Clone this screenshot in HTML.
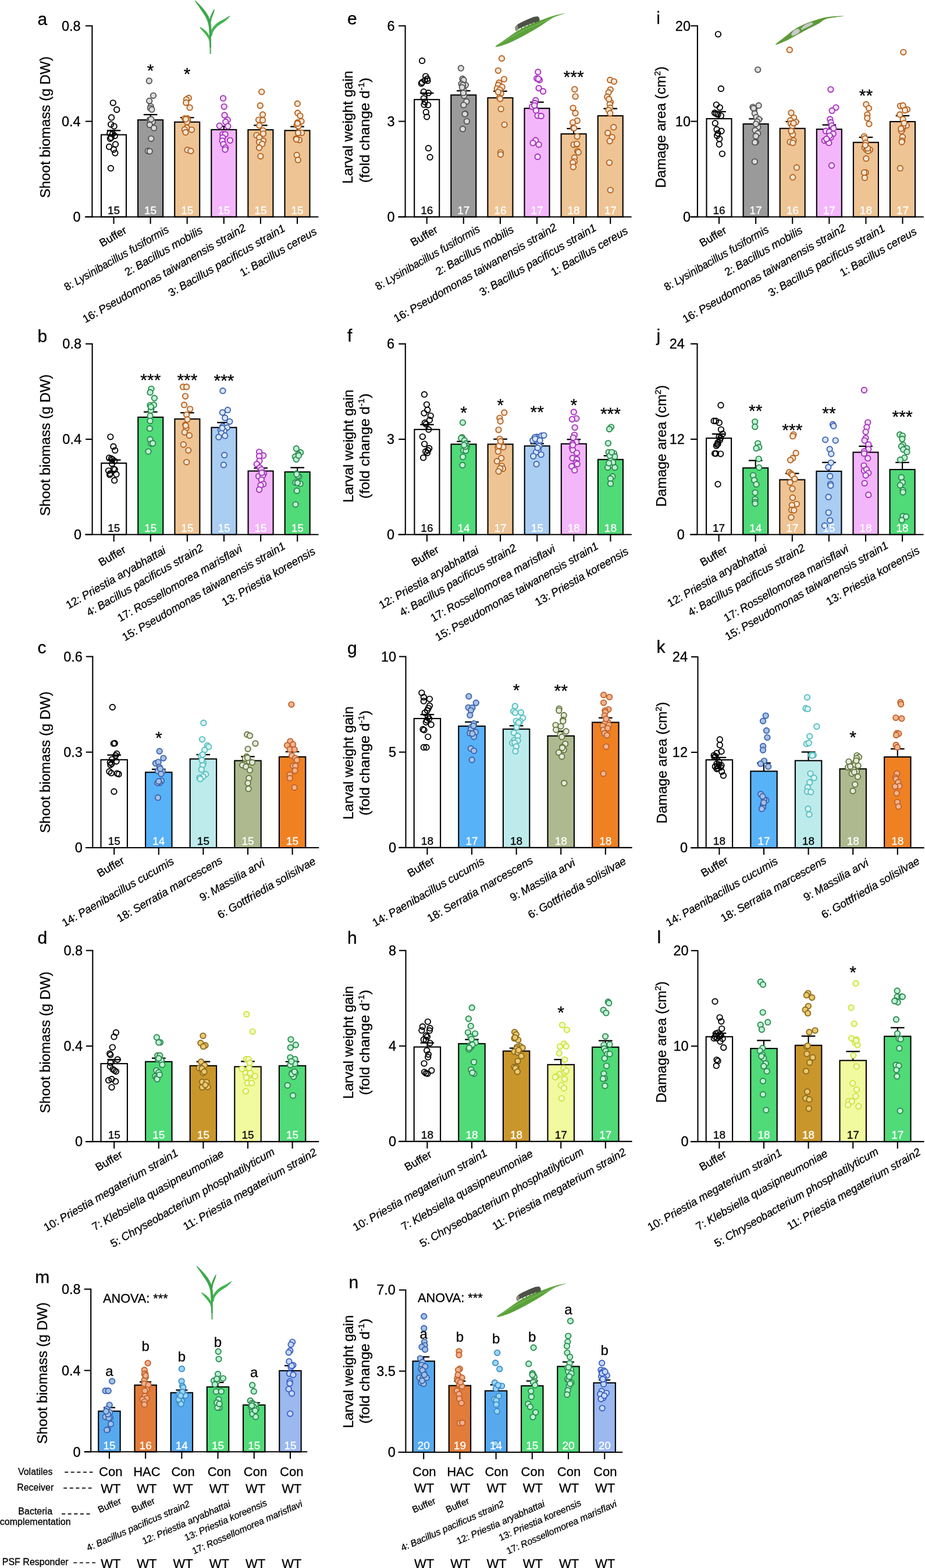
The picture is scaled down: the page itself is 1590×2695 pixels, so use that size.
<!DOCTYPE html>
<html><head><meta charset="utf-8"><title>Figure</title>
<style>html,body{margin:0;padding:0;background:#fff;}svg{display:block;}
text{font-family:'Liberation Sans', Arial, Helvetica, sans-serif;}</style></head>
<body><svg xmlns="http://www.w3.org/2000/svg" width="1590" height="2695" viewBox="0 0 1590 2695">
<rect x="0" y="0" width="1590" height="2695" fill="#fff"/>
<g>
<rect x="174.00" y="231.60" width="43.00" height="141.20" fill="#ffffff" stroke="#000" stroke-width="2.1"/>
<rect x="237.10" y="206.12" width="43.00" height="166.68" fill="#9a9a9a" stroke="#000" stroke-width="2.1"/>
<rect x="300.20" y="209.76" width="43.00" height="163.04" fill="#eec494" stroke="#000" stroke-width="2.1"/>
<rect x="363.30" y="222.86" width="43.00" height="149.94" fill="#f4b6fb" stroke="#000" stroke-width="2.1"/>
<rect x="426.40" y="223.11" width="43.00" height="149.69" fill="#eec494" stroke="#000" stroke-width="2.1"/>
<rect x="489.50" y="224.32" width="43.00" height="148.48" fill="#eec494" stroke="#000" stroke-width="2.1"/>
<line x1="195.50" y1="231.60" x2="195.50" y2="224.32" stroke="#000" stroke-width="2.1"/>
<line x1="183.70" y1="224.32" x2="207.30" y2="224.32" stroke="#000" stroke-width="2.3"/>
<line x1="258.60" y1="206.12" x2="258.60" y2="197.03" stroke="#000" stroke-width="2.1"/>
<line x1="246.80" y1="197.03" x2="270.40" y2="197.03" stroke="#000" stroke-width="2.3"/>
<line x1="321.70" y1="209.76" x2="321.70" y2="202.12" stroke="#000" stroke-width="2.1"/>
<line x1="309.90" y1="202.12" x2="333.50" y2="202.12" stroke="#000" stroke-width="2.3"/>
<line x1="384.80" y1="222.86" x2="384.80" y2="217.04" stroke="#000" stroke-width="2.1"/>
<line x1="373.00" y1="217.04" x2="396.60" y2="217.04" stroke="#000" stroke-width="2.3"/>
<line x1="447.90" y1="223.11" x2="447.90" y2="215.46" stroke="#000" stroke-width="2.1"/>
<line x1="436.10" y1="215.46" x2="459.70" y2="215.46" stroke="#000" stroke-width="2.3"/>
<line x1="511.00" y1="224.32" x2="511.00" y2="217.65" stroke="#000" stroke-width="2.1"/>
<line x1="499.20" y1="217.65" x2="522.80" y2="217.65" stroke="#000" stroke-width="2.3"/>
<circle cx="194.3" cy="176.8" r="4.7" fill="none" stroke="#000000" stroke-width="1.9"/>
<circle cx="200.7" cy="188.5" r="4.7" fill="none" stroke="#000000" stroke-width="1.9"/>
<circle cx="191.6" cy="201.9" r="4.7" fill="none" stroke="#000000" stroke-width="1.9"/>
<circle cx="190.6" cy="213.8" r="4.7" fill="none" stroke="#000000" stroke-width="1.9"/>
<circle cx="196.1" cy="217.0" r="4.7" fill="none" stroke="#000000" stroke-width="1.9"/>
<circle cx="188.8" cy="229.2" r="4.7" fill="none" stroke="#000000" stroke-width="1.9"/>
<circle cx="193.7" cy="229.8" r="4.7" fill="none" stroke="#000000" stroke-width="1.9"/>
<circle cx="197.3" cy="233.4" r="4.7" fill="none" stroke="#000000" stroke-width="1.9"/>
<circle cx="191.2" cy="236.4" r="4.7" fill="none" stroke="#000000" stroke-width="1.9"/>
<circle cx="189.4" cy="238.3" r="4.7" fill="none" stroke="#000000" stroke-width="1.9"/>
<circle cx="198.5" cy="248.0" r="4.7" fill="none" stroke="#000000" stroke-width="1.9"/>
<circle cx="187.6" cy="252.2" r="4.7" fill="none" stroke="#000000" stroke-width="1.9"/>
<circle cx="195.5" cy="257.1" r="4.7" fill="none" stroke="#000000" stroke-width="1.9"/>
<circle cx="197.9" cy="263.1" r="4.7" fill="none" stroke="#000000" stroke-width="1.9"/>
<circle cx="190.4" cy="289.2" r="4.7" fill="none" stroke="#000000" stroke-width="1.9"/>
<circle cx="256.4" cy="139.0" r="4.7" fill="#dcdcdc" stroke="#555555" stroke-width="1.9"/>
<circle cx="263.6" cy="164.3" r="4.7" fill="#dcdcdc" stroke="#555555" stroke-width="1.9"/>
<circle cx="256.7" cy="173.4" r="4.7" fill="#dcdcdc" stroke="#555555" stroke-width="1.9"/>
<circle cx="259.2" cy="182.8" r="4.7" fill="#dcdcdc" stroke="#555555" stroke-width="1.9"/>
<circle cx="258.5" cy="186.1" r="4.7" fill="#dcdcdc" stroke="#555555" stroke-width="1.9"/>
<circle cx="261.0" cy="188.2" r="4.7" fill="#dcdcdc" stroke="#555555" stroke-width="1.9"/>
<circle cx="257.3" cy="206.1" r="4.7" fill="#dcdcdc" stroke="#555555" stroke-width="1.9"/>
<circle cx="257.9" cy="208.5" r="4.7" fill="#dcdcdc" stroke="#555555" stroke-width="1.9"/>
<circle cx="262.2" cy="209.5" r="4.7" fill="#dcdcdc" stroke="#555555" stroke-width="1.9"/>
<circle cx="257.3" cy="214.6" r="4.7" fill="#dcdcdc" stroke="#555555" stroke-width="1.9"/>
<circle cx="264.6" cy="220.1" r="4.7" fill="#dcdcdc" stroke="#555555" stroke-width="1.9"/>
<circle cx="259.8" cy="238.3" r="4.7" fill="#dcdcdc" stroke="#555555" stroke-width="1.9"/>
<circle cx="254.3" cy="259.5" r="4.7" fill="#dcdcdc" stroke="#555555" stroke-width="1.9"/>
<circle cx="257.3" cy="260.1" r="4.7" fill="#dcdcdc" stroke="#555555" stroke-width="1.9"/>
<circle cx="259.8" cy="204.9" r="4.7" fill="#dcdcdc" stroke="#555555" stroke-width="1.9"/>
<circle cx="324.3" cy="168.5" r="4.7" fill="#f5e6d6" stroke="#b5621f" stroke-width="1.9"/>
<circle cx="320.4" cy="170.9" r="4.7" fill="#f5e6d6" stroke="#b5621f" stroke-width="1.9"/>
<circle cx="319.8" cy="176.4" r="4.7" fill="#f5e6d6" stroke="#b5621f" stroke-width="1.9"/>
<circle cx="326.2" cy="184.9" r="4.7" fill="#f5e6d6" stroke="#b5621f" stroke-width="1.9"/>
<circle cx="317.4" cy="203.7" r="4.7" fill="#f5e6d6" stroke="#b5621f" stroke-width="1.9"/>
<circle cx="322.2" cy="203.7" r="4.7" fill="#f5e6d6" stroke="#b5621f" stroke-width="1.9"/>
<circle cx="322.8" cy="206.1" r="4.7" fill="#f5e6d6" stroke="#b5621f" stroke-width="1.9"/>
<circle cx="321.6" cy="209.8" r="4.7" fill="#f5e6d6" stroke="#b5621f" stroke-width="1.9"/>
<circle cx="321.0" cy="219.5" r="4.7" fill="#f5e6d6" stroke="#b5621f" stroke-width="1.9"/>
<circle cx="317.4" cy="222.5" r="4.7" fill="#f5e6d6" stroke="#b5621f" stroke-width="1.9"/>
<circle cx="329.5" cy="223.1" r="4.7" fill="#f5e6d6" stroke="#b5621f" stroke-width="1.9"/>
<circle cx="319.0" cy="227.4" r="4.7" fill="#f5e6d6" stroke="#b5621f" stroke-width="1.9"/>
<circle cx="322.2" cy="257.7" r="4.7" fill="#f5e6d6" stroke="#b5621f" stroke-width="1.9"/>
<circle cx="327.9" cy="259.5" r="4.7" fill="#f5e6d6" stroke="#b5621f" stroke-width="1.9"/>
<circle cx="319.4" cy="204.9" r="4.7" fill="#f5e6d6" stroke="#b5621f" stroke-width="1.9"/>
<circle cx="383.6" cy="168.9" r="4.7" fill="#f3e1f6" stroke="#a52fbf" stroke-width="1.9"/>
<circle cx="385.2" cy="183.3" r="4.7" fill="#f3e1f6" stroke="#a52fbf" stroke-width="1.9"/>
<circle cx="386.0" cy="198.0" r="4.7" fill="#f3e1f6" stroke="#a52fbf" stroke-width="1.9"/>
<circle cx="391.2" cy="205.9" r="4.7" fill="#f3e1f6" stroke="#a52fbf" stroke-width="1.9"/>
<circle cx="387.8" cy="209.5" r="4.7" fill="#f3e1f6" stroke="#a52fbf" stroke-width="1.9"/>
<circle cx="377.3" cy="216.2" r="4.7" fill="#f3e1f6" stroke="#a52fbf" stroke-width="1.9"/>
<circle cx="391.8" cy="217.0" r="4.7" fill="#f3e1f6" stroke="#a52fbf" stroke-width="1.9"/>
<circle cx="382.8" cy="231.0" r="4.7" fill="#f3e1f6" stroke="#a52fbf" stroke-width="1.9"/>
<circle cx="387.0" cy="231.0" r="4.7" fill="#f3e1f6" stroke="#a52fbf" stroke-width="1.9"/>
<circle cx="382.8" cy="236.4" r="4.7" fill="#f3e1f6" stroke="#a52fbf" stroke-width="1.9"/>
<circle cx="395.5" cy="241.3" r="4.7" fill="#f3e1f6" stroke="#a52fbf" stroke-width="1.9"/>
<circle cx="382.1" cy="241.9" r="4.7" fill="#f3e1f6" stroke="#a52fbf" stroke-width="1.9"/>
<circle cx="384.0" cy="248.0" r="4.7" fill="#f3e1f6" stroke="#a52fbf" stroke-width="1.9"/>
<circle cx="387.6" cy="254.0" r="4.7" fill="#f3e1f6" stroke="#a52fbf" stroke-width="1.9"/>
<circle cx="387.0" cy="257.1" r="4.7" fill="#f3e1f6" stroke="#a52fbf" stroke-width="1.9"/>
<circle cx="449.7" cy="157.8" r="4.7" fill="#f5e6d6" stroke="#b5621f" stroke-width="1.9"/>
<circle cx="447.3" cy="181.5" r="4.7" fill="#f5e6d6" stroke="#b5621f" stroke-width="1.9"/>
<circle cx="451.6" cy="197.0" r="4.7" fill="#f5e6d6" stroke="#b5621f" stroke-width="1.9"/>
<circle cx="444.6" cy="206.1" r="4.7" fill="#f5e6d6" stroke="#b5621f" stroke-width="1.9"/>
<circle cx="451.6" cy="206.5" r="4.7" fill="#f5e6d6" stroke="#b5621f" stroke-width="1.9"/>
<circle cx="445.8" cy="215.8" r="4.7" fill="#f5e6d6" stroke="#b5621f" stroke-width="1.9"/>
<circle cx="452.1" cy="224.3" r="4.7" fill="#f5e6d6" stroke="#b5621f" stroke-width="1.9"/>
<circle cx="452.5" cy="229.8" r="4.7" fill="#f5e6d6" stroke="#b5621f" stroke-width="1.9"/>
<circle cx="441.0" cy="232.6" r="4.7" fill="#f5e6d6" stroke="#b5621f" stroke-width="1.9"/>
<circle cx="445.8" cy="236.4" r="4.7" fill="#f5e6d6" stroke="#b5621f" stroke-width="1.9"/>
<circle cx="452.5" cy="241.9" r="4.7" fill="#f5e6d6" stroke="#b5621f" stroke-width="1.9"/>
<circle cx="445.5" cy="244.3" r="4.7" fill="#f5e6d6" stroke="#b5621f" stroke-width="1.9"/>
<circle cx="450.7" cy="247.4" r="4.7" fill="#f5e6d6" stroke="#b5621f" stroke-width="1.9"/>
<circle cx="445.5" cy="254.0" r="4.7" fill="#f5e6d6" stroke="#b5621f" stroke-width="1.9"/>
<circle cx="447.9" cy="268.6" r="4.7" fill="#f5e6d6" stroke="#b5621f" stroke-width="1.9"/>
<circle cx="511.3" cy="178.2" r="4.7" fill="#f5e6d6" stroke="#b5621f" stroke-width="1.9"/>
<circle cx="511.7" cy="194.2" r="4.7" fill="#f5e6d6" stroke="#b5621f" stroke-width="1.9"/>
<circle cx="515.9" cy="199.1" r="4.7" fill="#f5e6d6" stroke="#b5621f" stroke-width="1.9"/>
<circle cx="518.0" cy="208.5" r="4.7" fill="#f5e6d6" stroke="#b5621f" stroke-width="1.9"/>
<circle cx="511.3" cy="210.7" r="4.7" fill="#f5e6d6" stroke="#b5621f" stroke-width="1.9"/>
<circle cx="510.1" cy="215.2" r="4.7" fill="#f5e6d6" stroke="#b5621f" stroke-width="1.9"/>
<circle cx="513.1" cy="217.0" r="4.7" fill="#f5e6d6" stroke="#b5621f" stroke-width="1.9"/>
<circle cx="518.6" cy="228.3" r="4.7" fill="#f5e6d6" stroke="#b5621f" stroke-width="1.9"/>
<circle cx="512.5" cy="228.6" r="4.7" fill="#f5e6d6" stroke="#b5621f" stroke-width="1.9"/>
<circle cx="508.9" cy="238.3" r="4.7" fill="#f5e6d6" stroke="#b5621f" stroke-width="1.9"/>
<circle cx="514.4" cy="240.7" r="4.7" fill="#f5e6d6" stroke="#b5621f" stroke-width="1.9"/>
<circle cx="509.5" cy="239.5" r="4.7" fill="#f5e6d6" stroke="#b5621f" stroke-width="1.9"/>
<circle cx="510.1" cy="266.5" r="4.7" fill="#f5e6d6" stroke="#b5621f" stroke-width="1.9"/>
<circle cx="512.2" cy="274.9" r="4.7" fill="#f5e6d6" stroke="#b5621f" stroke-width="1.9"/>
<circle cx="511.3" cy="212.2" r="4.7" fill="#f5e6d6" stroke="#b5621f" stroke-width="1.9"/>
<line x1="158.40" y1="43.40" x2="158.40" y2="373.80" stroke="#000" stroke-width="2.1"/>
<line x1="146.00" y1="372.80" x2="547.40" y2="372.80" stroke="#000" stroke-width="2.1"/>
<line x1="146.90" y1="372.80" x2="158.40" y2="372.80" stroke="#000" stroke-width="2.1"/>
<text x="138.60" y="381.03" font-size="23.5" text-anchor="end" stroke="#000" stroke-width="0.3">0</text>
<line x1="146.90" y1="208.60" x2="158.40" y2="208.60" stroke="#000" stroke-width="2.1"/>
<text x="138.60" y="216.82" font-size="23.5" text-anchor="end" stroke="#000" stroke-width="0.3">0.4</text>
<line x1="146.90" y1="44.40" x2="158.40" y2="44.40" stroke="#000" stroke-width="2.1"/>
<text x="138.60" y="52.62" font-size="23.5" text-anchor="end" stroke="#000" stroke-width="0.3">0.8</text>
<line x1="195.50" y1="372.80" x2="195.50" y2="384.80" stroke="#000" stroke-width="2.1"/>
<line x1="258.60" y1="372.80" x2="258.60" y2="384.80" stroke="#000" stroke-width="2.1"/>
<line x1="321.70" y1="372.80" x2="321.70" y2="384.80" stroke="#000" stroke-width="2.1"/>
<line x1="384.80" y1="372.80" x2="384.80" y2="384.80" stroke="#000" stroke-width="2.1"/>
<line x1="447.90" y1="372.80" x2="447.90" y2="384.80" stroke="#000" stroke-width="2.1"/>
<line x1="511.00" y1="372.80" x2="511.00" y2="384.80" stroke="#000" stroke-width="2.1"/>
<text x="195.50" y="368.00" font-size="19" text-anchor="middle" stroke="#000" stroke-width="0.3">15</text>
<text x="258.60" y="368.00" font-size="19" text-anchor="middle" fill="#fff" stroke="#fff" stroke-width="0.3">15</text>
<text x="321.70" y="368.00" font-size="19" text-anchor="middle" fill="#fff" stroke="#fff" stroke-width="0.3">15</text>
<text x="384.80" y="368.00" font-size="19" text-anchor="middle" fill="#fff" stroke="#fff" stroke-width="0.3">15</text>
<text x="447.90" y="368.00" font-size="19" text-anchor="middle" fill="#fff" stroke="#fff" stroke-width="0.3">15</text>
<text x="511.00" y="368.00" font-size="19" text-anchor="middle" fill="#fff" stroke="#fff" stroke-width="0.3">15</text>
<text x="258.60" y="130.90" font-size="30" text-anchor="middle" stroke="#000" stroke-width="0.3">*</text>
<text x="321.70" y="137.10" font-size="30" text-anchor="middle" stroke="#000" stroke-width="0.3">*</text>
<text x="85.80" y="218.70" font-size="24.2" text-anchor="middle" stroke="#000" stroke-width="0.3" transform="rotate(-90 85.80 218.70)">Shoot biomass (g DW)</text>
<text x="64.50" y="42.50" font-size="30" stroke="#000" stroke-width="0.3">a</text>
<text x="219.23" y="399.54" font-size="19" text-anchor="end" stroke="#000" stroke-width="0.3" transform="rotate(-30 219.23 399.54)">Buffer</text>
<text x="291.63" y="398.29" font-size="19" text-anchor="end" stroke="#000" stroke-width="0.3" textLength="204.0" lengthAdjust="spacingAndGlyphs" transform="rotate(-30 291.63 398.29)">8: <tspan font-style="italic">Lysinibacillus fusiformis</tspan></text>
<text x="349.73" y="399.29" font-size="19" text-anchor="end" stroke="#000" stroke-width="0.3" transform="rotate(-30 349.73 399.29)">2: <tspan font-style="italic">Bacillus mobilis</tspan></text>
<text x="423.82" y="395.52" font-size="19" text-anchor="end" stroke="#000" stroke-width="0.3" transform="rotate(-30 423.82 395.52)">16: <tspan font-style="italic">Pseudomonas taiwanensis strain2</tspan></text>
<text x="491.62" y="396.12" font-size="19" text-anchor="end" stroke="#000" stroke-width="0.3" transform="rotate(-30 491.62 396.12)">3: <tspan font-style="italic">Bacillus pacificus strain1</tspan></text>
<text x="545.93" y="401.39" font-size="19" text-anchor="end" stroke="#000" stroke-width="0.3" transform="rotate(-30 545.93 401.39)">1: <tspan font-style="italic">Bacillus cereus</tspan></text>
</g>
<g>
<rect x="174.20" y="796.06" width="43.00" height="122.74" fill="#ffffff" stroke="#000" stroke-width="2.1"/>
<rect x="237.30" y="717.09" width="43.00" height="201.71" fill="#50da78" stroke="#000" stroke-width="2.1"/>
<rect x="300.40" y="720.19" width="43.00" height="198.61" fill="#eec494" stroke="#000" stroke-width="2.1"/>
<rect x="363.50" y="734.74" width="43.00" height="184.06" fill="#aacdf2" stroke="#000" stroke-width="2.1"/>
<rect x="426.60" y="809.54" width="43.00" height="109.26" fill="#f4b6fb" stroke="#000" stroke-width="2.1"/>
<rect x="489.70" y="811.16" width="43.00" height="107.64" fill="#50da78" stroke="#000" stroke-width="2.1"/>
<line x1="195.70" y1="796.06" x2="195.70" y2="790.54" stroke="#000" stroke-width="2.1"/>
<line x1="183.90" y1="790.54" x2="207.50" y2="790.54" stroke="#000" stroke-width="2.3"/>
<line x1="258.80" y1="717.09" x2="258.80" y2="708.06" stroke="#000" stroke-width="2.1"/>
<line x1="247.00" y1="708.06" x2="270.60" y2="708.06" stroke="#000" stroke-width="2.3"/>
<line x1="321.90" y1="720.19" x2="321.90" y2="709.41" stroke="#000" stroke-width="2.1"/>
<line x1="310.10" y1="709.41" x2="333.70" y2="709.41" stroke="#000" stroke-width="2.3"/>
<line x1="385.00" y1="734.74" x2="385.00" y2="726.25" stroke="#000" stroke-width="2.1"/>
<line x1="373.20" y1="726.25" x2="396.80" y2="726.25" stroke="#000" stroke-width="2.3"/>
<line x1="448.10" y1="809.54" x2="448.10" y2="804.42" stroke="#000" stroke-width="2.1"/>
<line x1="436.30" y1="804.42" x2="459.90" y2="804.42" stroke="#000" stroke-width="2.3"/>
<line x1="511.20" y1="811.16" x2="511.20" y2="803.75" stroke="#000" stroke-width="2.1"/>
<line x1="499.40" y1="803.75" x2="523.00" y2="803.75" stroke="#000" stroke-width="2.3"/>
<circle cx="189.9" cy="750.8" r="4.7" fill="none" stroke="#000000" stroke-width="1.9"/>
<circle cx="194.9" cy="767.4" r="4.7" fill="none" stroke="#000000" stroke-width="1.9"/>
<circle cx="197.7" cy="774.1" r="4.7" fill="none" stroke="#000000" stroke-width="1.9"/>
<circle cx="187.6" cy="786.9" r="4.7" fill="none" stroke="#000000" stroke-width="1.9"/>
<circle cx="191.3" cy="788.2" r="4.7" fill="none" stroke="#000000" stroke-width="1.9"/>
<circle cx="193.3" cy="789.6" r="4.7" fill="none" stroke="#000000" stroke-width="1.9"/>
<circle cx="196.7" cy="792.3" r="4.7" fill="none" stroke="#000000" stroke-width="1.9"/>
<circle cx="192.6" cy="797.0" r="4.7" fill="none" stroke="#000000" stroke-width="1.9"/>
<circle cx="186.6" cy="809.1" r="4.7" fill="none" stroke="#000000" stroke-width="1.9"/>
<circle cx="197.3" cy="807.1" r="4.7" fill="none" stroke="#000000" stroke-width="1.9"/>
<circle cx="189.3" cy="813.9" r="4.7" fill="none" stroke="#000000" stroke-width="1.9"/>
<circle cx="188.6" cy="815.9" r="4.7" fill="none" stroke="#000000" stroke-width="1.9"/>
<circle cx="200.0" cy="815.2" r="4.7" fill="none" stroke="#000000" stroke-width="1.9"/>
<circle cx="196.7" cy="825.7" r="4.7" fill="none" stroke="#000000" stroke-width="1.9"/>
<circle cx="195.3" cy="805.8" r="4.7" fill="none" stroke="#000000" stroke-width="1.9"/>
<circle cx="260.0" cy="668.3" r="4.7" fill="#bff3d4" stroke="#2b8a4e" stroke-width="1.9"/>
<circle cx="258.0" cy="674.4" r="4.7" fill="#bff3d4" stroke="#2b8a4e" stroke-width="1.9"/>
<circle cx="265.4" cy="684.2" r="4.7" fill="#bff3d4" stroke="#2b8a4e" stroke-width="1.9"/>
<circle cx="258.0" cy="696.6" r="4.7" fill="#bff3d4" stroke="#2b8a4e" stroke-width="1.9"/>
<circle cx="264.5" cy="695.9" r="4.7" fill="#bff3d4" stroke="#2b8a4e" stroke-width="1.9"/>
<circle cx="260.0" cy="703.3" r="4.7" fill="#bff3d4" stroke="#2b8a4e" stroke-width="1.9"/>
<circle cx="259.3" cy="705.4" r="4.7" fill="#bff3d4" stroke="#2b8a4e" stroke-width="1.9"/>
<circle cx="258.0" cy="714.8" r="4.7" fill="#bff3d4" stroke="#2b8a4e" stroke-width="1.9"/>
<circle cx="258.0" cy="723.6" r="4.7" fill="#bff3d4" stroke="#2b8a4e" stroke-width="1.9"/>
<circle cx="257.3" cy="736.4" r="4.7" fill="#bff3d4" stroke="#2b8a4e" stroke-width="1.9"/>
<circle cx="258.0" cy="755.2" r="4.7" fill="#bff3d4" stroke="#2b8a4e" stroke-width="1.9"/>
<circle cx="260.0" cy="762.6" r="4.7" fill="#bff3d4" stroke="#2b8a4e" stroke-width="1.9"/>
<circle cx="262.7" cy="762.0" r="4.7" fill="#bff3d4" stroke="#2b8a4e" stroke-width="1.9"/>
<circle cx="255.0" cy="776.1" r="4.7" fill="#bff3d4" stroke="#2b8a4e" stroke-width="1.9"/>
<circle cx="259.3" cy="699.3" r="4.7" fill="#bff3d4" stroke="#2b8a4e" stroke-width="1.9"/>
<circle cx="314.6" cy="664.9" r="4.7" fill="#f5e6d6" stroke="#b5621f" stroke-width="1.9"/>
<circle cx="320.7" cy="664.9" r="4.7" fill="#f5e6d6" stroke="#b5621f" stroke-width="1.9"/>
<circle cx="318.6" cy="681.1" r="4.7" fill="#f5e6d6" stroke="#b5621f" stroke-width="1.9"/>
<circle cx="316.6" cy="695.9" r="4.7" fill="#f5e6d6" stroke="#b5621f" stroke-width="1.9"/>
<circle cx="326.7" cy="703.1" r="4.7" fill="#f5e6d6" stroke="#b5621f" stroke-width="1.9"/>
<circle cx="320.7" cy="712.8" r="4.7" fill="#f5e6d6" stroke="#b5621f" stroke-width="1.9"/>
<circle cx="322.0" cy="720.9" r="4.7" fill="#f5e6d6" stroke="#b5621f" stroke-width="1.9"/>
<circle cx="318.6" cy="730.3" r="4.7" fill="#f5e6d6" stroke="#b5621f" stroke-width="1.9"/>
<circle cx="320.0" cy="735.7" r="4.7" fill="#f5e6d6" stroke="#b5621f" stroke-width="1.9"/>
<circle cx="317.3" cy="743.1" r="4.7" fill="#f5e6d6" stroke="#b5621f" stroke-width="1.9"/>
<circle cx="325.4" cy="748.5" r="4.7" fill="#f5e6d6" stroke="#b5621f" stroke-width="1.9"/>
<circle cx="315.3" cy="764.0" r="4.7" fill="#f5e6d6" stroke="#b5621f" stroke-width="1.9"/>
<circle cx="323.8" cy="774.1" r="4.7" fill="#f5e6d6" stroke="#b5621f" stroke-width="1.9"/>
<circle cx="320.7" cy="794.3" r="4.7" fill="#f5e6d6" stroke="#b5621f" stroke-width="1.9"/>
<circle cx="319.3" cy="731.6" r="4.7" fill="#f5e6d6" stroke="#b5621f" stroke-width="1.9"/>
<circle cx="383.0" cy="671.7" r="4.7" fill="#d9e6f7" stroke="#3c64b4" stroke-width="1.9"/>
<circle cx="391.4" cy="704.7" r="4.7" fill="#d9e6f7" stroke="#3c64b4" stroke-width="1.9"/>
<circle cx="382.4" cy="709.0" r="4.7" fill="#d9e6f7" stroke="#3c64b4" stroke-width="1.9"/>
<circle cx="386.7" cy="718.2" r="4.7" fill="#d9e6f7" stroke="#3c64b4" stroke-width="1.9"/>
<circle cx="394.8" cy="724.6" r="4.7" fill="#d9e6f7" stroke="#3c64b4" stroke-width="1.9"/>
<circle cx="382.6" cy="733.0" r="4.7" fill="#d9e6f7" stroke="#3c64b4" stroke-width="1.9"/>
<circle cx="390.3" cy="735.0" r="4.7" fill="#d9e6f7" stroke="#3c64b4" stroke-width="1.9"/>
<circle cx="379.3" cy="739.1" r="4.7" fill="#d9e6f7" stroke="#3c64b4" stroke-width="1.9"/>
<circle cx="385.3" cy="740.4" r="4.7" fill="#d9e6f7" stroke="#3c64b4" stroke-width="1.9"/>
<circle cx="380.6" cy="744.4" r="4.7" fill="#d9e6f7" stroke="#3c64b4" stroke-width="1.9"/>
<circle cx="375.9" cy="751.2" r="4.7" fill="#d9e6f7" stroke="#3c64b4" stroke-width="1.9"/>
<circle cx="386.7" cy="748.9" r="4.7" fill="#d9e6f7" stroke="#3c64b4" stroke-width="1.9"/>
<circle cx="385.7" cy="782.2" r="4.7" fill="#d9e6f7" stroke="#3c64b4" stroke-width="1.9"/>
<circle cx="384.4" cy="799.0" r="4.7" fill="#d9e6f7" stroke="#3c64b4" stroke-width="1.9"/>
<circle cx="382.0" cy="735.7" r="4.7" fill="#d9e6f7" stroke="#3c64b4" stroke-width="1.9"/>
<circle cx="445.6" cy="776.8" r="4.7" fill="#f3e1f6" stroke="#a52fbf" stroke-width="1.9"/>
<circle cx="452.7" cy="782.9" r="4.7" fill="#f3e1f6" stroke="#a52fbf" stroke-width="1.9"/>
<circle cx="445.6" cy="783.9" r="4.7" fill="#f3e1f6" stroke="#a52fbf" stroke-width="1.9"/>
<circle cx="446.0" cy="792.3" r="4.7" fill="#f3e1f6" stroke="#a52fbf" stroke-width="1.9"/>
<circle cx="441.3" cy="797.7" r="4.7" fill="#f3e1f6" stroke="#a52fbf" stroke-width="1.9"/>
<circle cx="446.6" cy="803.7" r="4.7" fill="#f3e1f6" stroke="#a52fbf" stroke-width="1.9"/>
<circle cx="449.3" cy="807.1" r="4.7" fill="#f3e1f6" stroke="#a52fbf" stroke-width="1.9"/>
<circle cx="453.4" cy="813.9" r="4.7" fill="#f3e1f6" stroke="#a52fbf" stroke-width="1.9"/>
<circle cx="444.6" cy="818.6" r="4.7" fill="#f3e1f6" stroke="#a52fbf" stroke-width="1.9"/>
<circle cx="451.4" cy="817.6" r="4.7" fill="#f3e1f6" stroke="#a52fbf" stroke-width="1.9"/>
<circle cx="449.3" cy="824.6" r="4.7" fill="#f3e1f6" stroke="#a52fbf" stroke-width="1.9"/>
<circle cx="452.7" cy="832.0" r="4.7" fill="#f3e1f6" stroke="#a52fbf" stroke-width="1.9"/>
<circle cx="448.0" cy="834.1" r="4.7" fill="#f3e1f6" stroke="#a52fbf" stroke-width="1.9"/>
<circle cx="445.6" cy="841.5" r="4.7" fill="#f3e1f6" stroke="#a52fbf" stroke-width="1.9"/>
<circle cx="450.0" cy="812.5" r="4.7" fill="#f3e1f6" stroke="#a52fbf" stroke-width="1.9"/>
<circle cx="509.3" cy="771.0" r="4.7" fill="#bff3d4" stroke="#2b8a4e" stroke-width="1.9"/>
<circle cx="516.7" cy="777.7" r="4.7" fill="#bff3d4" stroke="#2b8a4e" stroke-width="1.9"/>
<circle cx="512.7" cy="780.8" r="4.7" fill="#bff3d4" stroke="#2b8a4e" stroke-width="1.9"/>
<circle cx="507.3" cy="784.9" r="4.7" fill="#bff3d4" stroke="#2b8a4e" stroke-width="1.9"/>
<circle cx="509.3" cy="789.6" r="4.7" fill="#bff3d4" stroke="#2b8a4e" stroke-width="1.9"/>
<circle cx="510.0" cy="813.9" r="4.7" fill="#bff3d4" stroke="#2b8a4e" stroke-width="1.9"/>
<circle cx="514.0" cy="819.2" r="4.7" fill="#bff3d4" stroke="#2b8a4e" stroke-width="1.9"/>
<circle cx="512.0" cy="817.9" r="4.7" fill="#bff3d4" stroke="#2b8a4e" stroke-width="1.9"/>
<circle cx="508.0" cy="829.4" r="4.7" fill="#bff3d4" stroke="#2b8a4e" stroke-width="1.9"/>
<circle cx="516.1" cy="831.4" r="4.7" fill="#bff3d4" stroke="#2b8a4e" stroke-width="1.9"/>
<circle cx="511.3" cy="830.0" r="4.7" fill="#bff3d4" stroke="#2b8a4e" stroke-width="1.9"/>
<circle cx="510.3" cy="843.5" r="4.7" fill="#bff3d4" stroke="#2b8a4e" stroke-width="1.9"/>
<circle cx="508.0" cy="867.1" r="4.7" fill="#bff3d4" stroke="#2b8a4e" stroke-width="1.9"/>
<circle cx="510.0" cy="815.2" r="4.7" fill="#bff3d4" stroke="#2b8a4e" stroke-width="1.9"/>
<circle cx="513.4" cy="782.9" r="4.7" fill="#bff3d4" stroke="#2b8a4e" stroke-width="1.9"/>
<line x1="158.60" y1="590.10" x2="158.60" y2="919.80" stroke="#000" stroke-width="2.1"/>
<line x1="146.20" y1="918.80" x2="547.60" y2="918.80" stroke="#000" stroke-width="2.1"/>
<line x1="147.10" y1="918.80" x2="158.60" y2="918.80" stroke="#000" stroke-width="2.1"/>
<text x="140.00" y="927.02" font-size="23.5" text-anchor="end" stroke="#000" stroke-width="0.3">0</text>
<line x1="147.10" y1="754.95" x2="158.60" y2="754.95" stroke="#000" stroke-width="2.1"/>
<text x="140.00" y="763.18" font-size="23.5" text-anchor="end" stroke="#000" stroke-width="0.3">0.4</text>
<line x1="147.10" y1="591.10" x2="158.60" y2="591.10" stroke="#000" stroke-width="2.1"/>
<text x="140.00" y="599.33" font-size="23.5" text-anchor="end" stroke="#000" stroke-width="0.3">0.8</text>
<line x1="195.70" y1="918.80" x2="195.70" y2="930.80" stroke="#000" stroke-width="2.1"/>
<line x1="258.80" y1="918.80" x2="258.80" y2="930.80" stroke="#000" stroke-width="2.1"/>
<line x1="321.90" y1="918.80" x2="321.90" y2="930.80" stroke="#000" stroke-width="2.1"/>
<line x1="385.00" y1="918.80" x2="385.00" y2="930.80" stroke="#000" stroke-width="2.1"/>
<line x1="448.10" y1="918.80" x2="448.10" y2="930.80" stroke="#000" stroke-width="2.1"/>
<line x1="511.20" y1="918.80" x2="511.20" y2="930.80" stroke="#000" stroke-width="2.1"/>
<text x="195.70" y="914.00" font-size="19" text-anchor="middle" stroke="#000" stroke-width="0.3">15</text>
<text x="258.80" y="914.00" font-size="19" text-anchor="middle" fill="#fff" stroke="#fff" stroke-width="0.3">15</text>
<text x="321.90" y="914.00" font-size="19" text-anchor="middle" fill="#fff" stroke="#fff" stroke-width="0.3">15</text>
<text x="385.00" y="914.00" font-size="19" text-anchor="middle" fill="#fff" stroke="#fff" stroke-width="0.3">15</text>
<text x="448.10" y="914.00" font-size="19" text-anchor="middle" fill="#fff" stroke="#fff" stroke-width="0.3">15</text>
<text x="511.20" y="914.00" font-size="19" text-anchor="middle" fill="#fff" stroke="#fff" stroke-width="0.3">15</text>
<text x="258.80" y="663.00" font-size="30" text-anchor="middle" stroke="#000" stroke-width="0.3">***</text>
<text x="321.90" y="663.00" font-size="30" text-anchor="middle" stroke="#000" stroke-width="0.3">***</text>
<text x="385.00" y="663.70" font-size="30" text-anchor="middle" stroke="#000" stroke-width="0.3">***</text>
<text x="85.80" y="765.20" font-size="24.2" text-anchor="middle" stroke="#000" stroke-width="0.3" transform="rotate(-90 85.80 765.20)">Shoot biomass (g DW)</text>
<text x="64.50" y="588.00" font-size="30" stroke="#000" stroke-width="0.3">b</text>
<text x="217.73" y="948.64" font-size="19" text-anchor="end" stroke="#000" stroke-width="0.3" transform="rotate(-30 217.73 948.64)">Buffer</text>
<text x="286.22" y="949.82" font-size="19" text-anchor="end" stroke="#000" stroke-width="0.3" transform="rotate(-30 286.22 949.82)">12: <tspan font-style="italic">Priestia aryabhattai</tspan></text>
<text x="350.92" y="945.42" font-size="19" text-anchor="end" stroke="#000" stroke-width="0.3" transform="rotate(-30 350.92 945.42)">4: <tspan font-style="italic">Bacillus pacificus strain2</tspan></text>
<text x="417.72" y="947.22" font-size="19" text-anchor="end" stroke="#000" stroke-width="0.3" transform="rotate(-30 417.72 947.22)">17: <tspan font-style="italic">Rossellomorea marisflavi</tspan></text>
<text x="491.82" y="942.12" font-size="19" text-anchor="end" stroke="#000" stroke-width="0.3" transform="rotate(-30 491.82 942.12)">15: <tspan font-style="italic">Pseudomonas taiwanensis strain1</tspan></text>
<text x="543.43" y="951.29" font-size="19" text-anchor="end" stroke="#000" stroke-width="0.3" transform="rotate(-30 543.43 951.29)">13: <tspan font-style="italic">Priestia koreensis</tspan></text>
</g>
<g>
<rect x="173.50" y="1305.80" width="45.40" height="151.20" fill="#ffffff" stroke="#000" stroke-width="2.1"/>
<rect x="250.10" y="1327.36" width="45.40" height="129.64" fill="#58b2f8" stroke="#000" stroke-width="2.1"/>
<rect x="326.70" y="1304.45" width="45.40" height="152.55" fill="#bdebec" stroke="#000" stroke-width="2.1"/>
<rect x="403.30" y="1307.41" width="45.40" height="149.59" fill="#aeb98f" stroke="#000" stroke-width="2.1"/>
<rect x="479.90" y="1300.81" width="45.40" height="156.19" fill="#ef8123" stroke="#000" stroke-width="2.1"/>
<line x1="196.20" y1="1305.80" x2="196.20" y2="1297.71" stroke="#000" stroke-width="2.1"/>
<line x1="184.40" y1="1297.71" x2="208.00" y2="1297.71" stroke="#000" stroke-width="2.3"/>
<line x1="272.80" y1="1327.36" x2="272.80" y2="1322.24" stroke="#000" stroke-width="2.1"/>
<line x1="261.00" y1="1322.24" x2="284.60" y2="1322.24" stroke="#000" stroke-width="2.3"/>
<line x1="349.40" y1="1304.45" x2="349.40" y2="1297.04" stroke="#000" stroke-width="2.1"/>
<line x1="337.60" y1="1297.04" x2="361.20" y2="1297.04" stroke="#000" stroke-width="2.3"/>
<line x1="426.00" y1="1307.41" x2="426.00" y2="1300.40" stroke="#000" stroke-width="2.1"/>
<line x1="414.20" y1="1300.40" x2="437.80" y2="1300.40" stroke="#000" stroke-width="2.3"/>
<line x1="502.60" y1="1300.81" x2="502.60" y2="1292.05" stroke="#000" stroke-width="2.1"/>
<line x1="490.80" y1="1292.05" x2="514.40" y2="1292.05" stroke="#000" stroke-width="2.3"/>
<circle cx="193.3" cy="1215.5" r="4.7" fill="none" stroke="#000000" stroke-width="1.9"/>
<circle cx="195.3" cy="1277.9" r="4.7" fill="none" stroke="#000000" stroke-width="1.9"/>
<circle cx="197.3" cy="1277.5" r="4.7" fill="none" stroke="#000000" stroke-width="1.9"/>
<circle cx="200.7" cy="1295.4" r="4.7" fill="none" stroke="#000000" stroke-width="1.9"/>
<circle cx="198.7" cy="1298.4" r="4.7" fill="none" stroke="#000000" stroke-width="1.9"/>
<circle cx="192.6" cy="1305.1" r="4.7" fill="none" stroke="#000000" stroke-width="1.9"/>
<circle cx="200.0" cy="1308.5" r="4.7" fill="none" stroke="#000000" stroke-width="1.9"/>
<circle cx="189.3" cy="1310.5" r="4.7" fill="none" stroke="#000000" stroke-width="1.9"/>
<circle cx="192.0" cy="1312.5" r="4.7" fill="none" stroke="#000000" stroke-width="1.9"/>
<circle cx="189.9" cy="1314.6" r="4.7" fill="none" stroke="#000000" stroke-width="1.9"/>
<circle cx="187.9" cy="1326.0" r="4.7" fill="none" stroke="#000000" stroke-width="1.9"/>
<circle cx="191.3" cy="1328.7" r="4.7" fill="none" stroke="#000000" stroke-width="1.9"/>
<circle cx="201.4" cy="1329.4" r="4.7" fill="none" stroke="#000000" stroke-width="1.9"/>
<circle cx="204.1" cy="1330.5" r="4.7" fill="none" stroke="#000000" stroke-width="1.9"/>
<circle cx="196.0" cy="1360.4" r="4.7" fill="none" stroke="#000000" stroke-width="1.9"/>
<circle cx="274.2" cy="1291.2" r="4.7" fill="#a9c2e4" stroke="#3a64ae" stroke-width="1.9"/>
<circle cx="280.9" cy="1303.1" r="4.7" fill="#a9c2e4" stroke="#3a64ae" stroke-width="1.9"/>
<circle cx="267.4" cy="1311.9" r="4.7" fill="#a9c2e4" stroke="#3a64ae" stroke-width="1.9"/>
<circle cx="272.1" cy="1309.8" r="4.7" fill="#a9c2e4" stroke="#3a64ae" stroke-width="1.9"/>
<circle cx="274.2" cy="1318.6" r="4.7" fill="#a9c2e4" stroke="#3a64ae" stroke-width="1.9"/>
<circle cx="271.5" cy="1325.3" r="4.7" fill="#a9c2e4" stroke="#3a64ae" stroke-width="1.9"/>
<circle cx="279.3" cy="1326.0" r="4.7" fill="#a9c2e4" stroke="#3a64ae" stroke-width="1.9"/>
<circle cx="276.9" cy="1330.1" r="4.7" fill="#a9c2e4" stroke="#3a64ae" stroke-width="1.9"/>
<circle cx="277.5" cy="1342.2" r="4.7" fill="#a9c2e4" stroke="#3a64ae" stroke-width="1.9"/>
<circle cx="274.2" cy="1345.6" r="4.7" fill="#a9c2e4" stroke="#3a64ae" stroke-width="1.9"/>
<circle cx="270.8" cy="1345.6" r="4.7" fill="#a9c2e4" stroke="#3a64ae" stroke-width="1.9"/>
<circle cx="271.5" cy="1370.9" r="4.7" fill="#a9c2e4" stroke="#3a64ae" stroke-width="1.9"/>
<circle cx="272.8" cy="1342.9" r="4.7" fill="#a9c2e4" stroke="#3a64ae" stroke-width="1.9"/>
<circle cx="275.5" cy="1321.3" r="4.7" fill="#a9c2e4" stroke="#3a64ae" stroke-width="1.9"/>
<circle cx="349.9" cy="1242.5" r="4.7" fill="#dcf4f4" stroke="#55bec0" stroke-width="1.9"/>
<circle cx="347.6" cy="1270.8" r="4.7" fill="#dcf4f4" stroke="#55bec0" stroke-width="1.9"/>
<circle cx="356.4" cy="1281.5" r="4.7" fill="#dcf4f4" stroke="#55bec0" stroke-width="1.9"/>
<circle cx="358.8" cy="1283.6" r="4.7" fill="#dcf4f4" stroke="#55bec0" stroke-width="1.9"/>
<circle cx="351.7" cy="1288.9" r="4.7" fill="#dcf4f4" stroke="#55bec0" stroke-width="1.9"/>
<circle cx="345.6" cy="1299.5" r="4.7" fill="#dcf4f4" stroke="#55bec0" stroke-width="1.9"/>
<circle cx="348.3" cy="1297.0" r="4.7" fill="#dcf4f4" stroke="#55bec0" stroke-width="1.9"/>
<circle cx="349.6" cy="1311.2" r="4.7" fill="#dcf4f4" stroke="#55bec0" stroke-width="1.9"/>
<circle cx="348.3" cy="1315.2" r="4.7" fill="#dcf4f4" stroke="#55bec0" stroke-width="1.9"/>
<circle cx="346.3" cy="1322.6" r="4.7" fill="#dcf4f4" stroke="#55bec0" stroke-width="1.9"/>
<circle cx="353.7" cy="1330.7" r="4.7" fill="#dcf4f4" stroke="#55bec0" stroke-width="1.9"/>
<circle cx="349.0" cy="1334.8" r="4.7" fill="#dcf4f4" stroke="#55bec0" stroke-width="1.9"/>
<circle cx="342.9" cy="1336.8" r="4.7" fill="#dcf4f4" stroke="#55bec0" stroke-width="1.9"/>
<circle cx="344.2" cy="1338.8" r="4.7" fill="#dcf4f4" stroke="#55bec0" stroke-width="1.9"/>
<circle cx="346.9" cy="1306.5" r="4.7" fill="#dcf4f4" stroke="#55bec0" stroke-width="1.9"/>
<circle cx="424.8" cy="1262.4" r="4.7" fill="#e6eadb" stroke="#667741" stroke-width="1.9"/>
<circle cx="429.5" cy="1264.4" r="4.7" fill="#e6eadb" stroke="#667741" stroke-width="1.9"/>
<circle cx="438.9" cy="1277.8" r="4.7" fill="#e6eadb" stroke="#667741" stroke-width="1.9"/>
<circle cx="426.1" cy="1287.3" r="4.7" fill="#e6eadb" stroke="#667741" stroke-width="1.9"/>
<circle cx="423.9" cy="1300.4" r="4.7" fill="#e6eadb" stroke="#667741" stroke-width="1.9"/>
<circle cx="421.4" cy="1303.8" r="4.7" fill="#e6eadb" stroke="#667741" stroke-width="1.9"/>
<circle cx="428.2" cy="1308.5" r="4.7" fill="#e6eadb" stroke="#667741" stroke-width="1.9"/>
<circle cx="433.6" cy="1310.5" r="4.7" fill="#e6eadb" stroke="#667741" stroke-width="1.9"/>
<circle cx="416.7" cy="1315.0" r="4.7" fill="#e6eadb" stroke="#667741" stroke-width="1.9"/>
<circle cx="422.8" cy="1317.7" r="4.7" fill="#e6eadb" stroke="#667741" stroke-width="1.9"/>
<circle cx="429.5" cy="1323.7" r="4.7" fill="#e6eadb" stroke="#667741" stroke-width="1.9"/>
<circle cx="427.9" cy="1337.5" r="4.7" fill="#e6eadb" stroke="#667741" stroke-width="1.9"/>
<circle cx="426.1" cy="1346.0" r="4.7" fill="#e6eadb" stroke="#667741" stroke-width="1.9"/>
<circle cx="427.1" cy="1355.7" r="4.7" fill="#e6eadb" stroke="#667741" stroke-width="1.9"/>
<circle cx="425.5" cy="1302.4" r="4.7" fill="#e6eadb" stroke="#667741" stroke-width="1.9"/>
<circle cx="500.9" cy="1210.8" r="4.7" fill="#f2b48e" stroke="#c0622b" stroke-width="1.9"/>
<circle cx="498.9" cy="1274.1" r="4.7" fill="#f2b48e" stroke="#c0622b" stroke-width="1.9"/>
<circle cx="493.5" cy="1280.9" r="4.7" fill="#f2b48e" stroke="#c0622b" stroke-width="1.9"/>
<circle cx="503.6" cy="1279.5" r="4.7" fill="#f2b48e" stroke="#c0622b" stroke-width="1.9"/>
<circle cx="498.2" cy="1287.9" r="4.7" fill="#f2b48e" stroke="#c0622b" stroke-width="1.9"/>
<circle cx="506.3" cy="1288.3" r="4.7" fill="#f2b48e" stroke="#c0622b" stroke-width="1.9"/>
<circle cx="501.6" cy="1298.8" r="4.7" fill="#f2b48e" stroke="#c0622b" stroke-width="1.9"/>
<circle cx="507.7" cy="1303.1" r="4.7" fill="#f2b48e" stroke="#c0622b" stroke-width="1.9"/>
<circle cx="510.4" cy="1306.5" r="4.7" fill="#f2b48e" stroke="#c0622b" stroke-width="1.9"/>
<circle cx="503.6" cy="1316.2" r="4.7" fill="#f2b48e" stroke="#c0622b" stroke-width="1.9"/>
<circle cx="507.7" cy="1316.2" r="4.7" fill="#f2b48e" stroke="#c0622b" stroke-width="1.9"/>
<circle cx="507.0" cy="1324.4" r="4.7" fill="#f2b48e" stroke="#c0622b" stroke-width="1.9"/>
<circle cx="498.2" cy="1331.4" r="4.7" fill="#f2b48e" stroke="#c0622b" stroke-width="1.9"/>
<circle cx="498.2" cy="1337.5" r="4.7" fill="#f2b48e" stroke="#c0622b" stroke-width="1.9"/>
<circle cx="506.1" cy="1353.6" r="4.7" fill="#f2b48e" stroke="#c0622b" stroke-width="1.9"/>
<line x1="159.30" y1="1127.50" x2="159.30" y2="1458.00" stroke="#000" stroke-width="2.1"/>
<line x1="146.90" y1="1457.00" x2="548.30" y2="1457.00" stroke="#000" stroke-width="2.1"/>
<line x1="147.80" y1="1457.00" x2="159.30" y2="1457.00" stroke="#000" stroke-width="2.1"/>
<text x="141.80" y="1465.22" font-size="23.5" text-anchor="end" stroke="#000" stroke-width="0.3">0</text>
<line x1="147.80" y1="1292.75" x2="159.30" y2="1292.75" stroke="#000" stroke-width="2.1"/>
<text x="141.80" y="1300.97" font-size="23.5" text-anchor="end" stroke="#000" stroke-width="0.3">0.3</text>
<line x1="147.80" y1="1128.50" x2="159.30" y2="1128.50" stroke="#000" stroke-width="2.1"/>
<text x="141.80" y="1136.72" font-size="23.5" text-anchor="end" stroke="#000" stroke-width="0.3">0.6</text>
<line x1="196.20" y1="1457.00" x2="196.20" y2="1469.00" stroke="#000" stroke-width="2.1"/>
<line x1="272.80" y1="1457.00" x2="272.80" y2="1469.00" stroke="#000" stroke-width="2.1"/>
<line x1="349.40" y1="1457.00" x2="349.40" y2="1469.00" stroke="#000" stroke-width="2.1"/>
<line x1="426.00" y1="1457.00" x2="426.00" y2="1469.00" stroke="#000" stroke-width="2.1"/>
<line x1="502.60" y1="1457.00" x2="502.60" y2="1469.00" stroke="#000" stroke-width="2.1"/>
<text x="196.20" y="1452.20" font-size="19" text-anchor="middle" stroke="#000" stroke-width="0.3">15</text>
<text x="272.80" y="1452.20" font-size="19" text-anchor="middle" fill="#fff" stroke="#fff" stroke-width="0.3">14</text>
<text x="349.40" y="1452.20" font-size="19" text-anchor="middle" stroke="#000" stroke-width="0.3">15</text>
<text x="426.00" y="1452.20" font-size="19" text-anchor="middle" fill="#fff" stroke="#fff" stroke-width="0.3">15</text>
<text x="502.60" y="1452.20" font-size="19" text-anchor="middle" fill="#fff" stroke="#fff" stroke-width="0.3">15</text>
<text x="272.80" y="1277.60" font-size="30" text-anchor="middle" stroke="#000" stroke-width="0.3">*</text>
<text x="86.40" y="1310.20" font-size="24.2" text-anchor="middle" stroke="#000" stroke-width="0.3" transform="rotate(-90 86.40 1310.20)">Shoot biomass (g DW)</text>
<text x="64.50" y="1122.50" font-size="30" stroke="#000" stroke-width="0.3">c</text>
<text x="215.13" y="1482.84" font-size="19" text-anchor="end" stroke="#000" stroke-width="0.3" transform="rotate(-30 215.13 1482.84)">Buffer</text>
<text x="300.53" y="1483.89" font-size="19" text-anchor="end" stroke="#000" stroke-width="0.3" transform="rotate(-30 300.53 1483.89)">14: <tspan font-style="italic">Paenibacillus cucumis</tspan></text>
<text x="383.83" y="1482.59" font-size="19" text-anchor="end" stroke="#000" stroke-width="0.3" transform="rotate(-30 383.83 1482.59)">18: <tspan font-style="italic">Serratia marcescens</tspan></text>
<text x="456.52" y="1486.72" font-size="19" text-anchor="end" stroke="#000" stroke-width="0.3" transform="rotate(-30 456.52 1486.72)">9: <tspan font-style="italic">Massilia arvi</tspan></text>
<text x="544.13" y="1483.89" font-size="19" text-anchor="end" stroke="#000" stroke-width="0.3" transform="rotate(-30 544.13 1483.89)">6: <tspan font-style="italic">Gottfriedia solisilvae</tspan></text>
</g>
<g>
<rect x="173.50" y="1828.11" width="45.40" height="133.99" fill="#ffffff" stroke="#000" stroke-width="2.1"/>
<rect x="250.10" y="1824.74" width="45.40" height="137.36" fill="#50da78" stroke="#000" stroke-width="2.1"/>
<rect x="326.70" y="1831.75" width="45.40" height="130.35" fill="#c9962b" stroke="#000" stroke-width="2.1"/>
<rect x="403.30" y="1833.37" width="45.40" height="128.73" fill="#f1fa9f" stroke="#000" stroke-width="2.1"/>
<rect x="479.90" y="1831.75" width="45.40" height="130.35" fill="#50da78" stroke="#000" stroke-width="2.1"/>
<line x1="196.20" y1="1828.11" x2="196.20" y2="1821.24" stroke="#000" stroke-width="2.1"/>
<line x1="184.40" y1="1821.24" x2="208.00" y2="1821.24" stroke="#000" stroke-width="2.3"/>
<line x1="272.80" y1="1824.74" x2="272.80" y2="1818.68" stroke="#000" stroke-width="2.1"/>
<line x1="261.00" y1="1818.68" x2="284.60" y2="1818.68" stroke="#000" stroke-width="2.3"/>
<line x1="349.40" y1="1831.75" x2="349.40" y2="1824.74" stroke="#000" stroke-width="2.1"/>
<line x1="337.60" y1="1824.74" x2="361.20" y2="1824.74" stroke="#000" stroke-width="2.3"/>
<line x1="426.00" y1="1833.37" x2="426.00" y2="1824.34" stroke="#000" stroke-width="2.1"/>
<line x1="414.20" y1="1824.34" x2="437.80" y2="1824.34" stroke="#000" stroke-width="2.3"/>
<line x1="502.60" y1="1831.75" x2="502.60" y2="1824.74" stroke="#000" stroke-width="2.1"/>
<line x1="490.80" y1="1824.74" x2="514.40" y2="1824.74" stroke="#000" stroke-width="2.3"/>
<circle cx="199.4" cy="1774.7" r="4.7" fill="none" stroke="#000000" stroke-width="1.9"/>
<circle cx="196.0" cy="1781.9" r="4.7" fill="none" stroke="#000000" stroke-width="1.9"/>
<circle cx="193.3" cy="1800.1" r="4.7" fill="none" stroke="#000000" stroke-width="1.9"/>
<circle cx="188.6" cy="1810.9" r="4.7" fill="none" stroke="#000000" stroke-width="1.9"/>
<circle cx="189.9" cy="1812.9" r="4.7" fill="none" stroke="#000000" stroke-width="1.9"/>
<circle cx="202.1" cy="1821.0" r="4.7" fill="none" stroke="#000000" stroke-width="1.9"/>
<circle cx="189.9" cy="1826.4" r="4.7" fill="none" stroke="#000000" stroke-width="1.9"/>
<circle cx="189.3" cy="1833.1" r="4.7" fill="none" stroke="#000000" stroke-width="1.9"/>
<circle cx="194.0" cy="1837.8" r="4.7" fill="none" stroke="#000000" stroke-width="1.9"/>
<circle cx="196.7" cy="1839.8" r="4.7" fill="none" stroke="#000000" stroke-width="1.9"/>
<circle cx="199.4" cy="1841.6" r="4.7" fill="none" stroke="#000000" stroke-width="1.9"/>
<circle cx="186.6" cy="1856.7" r="4.7" fill="none" stroke="#000000" stroke-width="1.9"/>
<circle cx="192.0" cy="1854.7" r="4.7" fill="none" stroke="#000000" stroke-width="1.9"/>
<circle cx="198.7" cy="1858.7" r="4.7" fill="none" stroke="#000000" stroke-width="1.9"/>
<circle cx="192.0" cy="1868.8" r="4.7" fill="none" stroke="#000000" stroke-width="1.9"/>
<circle cx="269.4" cy="1783.0" r="4.7" fill="#bff3d4" stroke="#2b8a4e" stroke-width="1.9"/>
<circle cx="275.5" cy="1791.6" r="4.7" fill="#bff3d4" stroke="#2b8a4e" stroke-width="1.9"/>
<circle cx="272.8" cy="1791.7" r="4.7" fill="#bff3d4" stroke="#2b8a4e" stroke-width="1.9"/>
<circle cx="270.8" cy="1814.2" r="4.7" fill="#bff3d4" stroke="#2b8a4e" stroke-width="1.9"/>
<circle cx="274.8" cy="1814.2" r="4.7" fill="#bff3d4" stroke="#2b8a4e" stroke-width="1.9"/>
<circle cx="271.5" cy="1821.0" r="4.7" fill="#bff3d4" stroke="#2b8a4e" stroke-width="1.9"/>
<circle cx="277.5" cy="1823.0" r="4.7" fill="#bff3d4" stroke="#2b8a4e" stroke-width="1.9"/>
<circle cx="278.9" cy="1830.0" r="4.7" fill="#bff3d4" stroke="#2b8a4e" stroke-width="1.9"/>
<circle cx="268.8" cy="1839.8" r="4.7" fill="#bff3d4" stroke="#2b8a4e" stroke-width="1.9"/>
<circle cx="272.8" cy="1843.2" r="4.7" fill="#bff3d4" stroke="#2b8a4e" stroke-width="1.9"/>
<circle cx="266.8" cy="1849.9" r="4.7" fill="#bff3d4" stroke="#2b8a4e" stroke-width="1.9"/>
<circle cx="269.4" cy="1852.6" r="4.7" fill="#bff3d4" stroke="#2b8a4e" stroke-width="1.9"/>
<circle cx="270.1" cy="1854.7" r="4.7" fill="#bff3d4" stroke="#2b8a4e" stroke-width="1.9"/>
<circle cx="274.2" cy="1847.3" r="4.7" fill="#bff3d4" stroke="#2b8a4e" stroke-width="1.9"/>
<circle cx="272.8" cy="1818.9" r="4.7" fill="#bff3d4" stroke="#2b8a4e" stroke-width="1.9"/>
<circle cx="349.0" cy="1780.3" r="4.7" fill="#ebca6c" stroke="#8c6a1f" stroke-width="1.9"/>
<circle cx="344.9" cy="1792.7" r="4.7" fill="#ebca6c" stroke="#8c6a1f" stroke-width="1.9"/>
<circle cx="353.0" cy="1796.7" r="4.7" fill="#ebca6c" stroke="#8c6a1f" stroke-width="1.9"/>
<circle cx="349.6" cy="1798.7" r="4.7" fill="#ebca6c" stroke="#8c6a1f" stroke-width="1.9"/>
<circle cx="345.6" cy="1825.0" r="4.7" fill="#ebca6c" stroke="#8c6a1f" stroke-width="1.9"/>
<circle cx="351.7" cy="1831.1" r="4.7" fill="#ebca6c" stroke="#8c6a1f" stroke-width="1.9"/>
<circle cx="342.2" cy="1835.8" r="4.7" fill="#ebca6c" stroke="#8c6a1f" stroke-width="1.9"/>
<circle cx="349.0" cy="1843.9" r="4.7" fill="#ebca6c" stroke="#8c6a1f" stroke-width="1.9"/>
<circle cx="347.6" cy="1859.4" r="4.7" fill="#ebca6c" stroke="#8c6a1f" stroke-width="1.9"/>
<circle cx="355.0" cy="1860.1" r="4.7" fill="#ebca6c" stroke="#8c6a1f" stroke-width="1.9"/>
<circle cx="347.6" cy="1868.8" r="4.7" fill="#ebca6c" stroke="#8c6a1f" stroke-width="1.9"/>
<circle cx="357.0" cy="1868.1" r="4.7" fill="#ebca6c" stroke="#8c6a1f" stroke-width="1.9"/>
<circle cx="353.0" cy="1864.8" r="4.7" fill="#ebca6c" stroke="#8c6a1f" stroke-width="1.9"/>
<circle cx="346.9" cy="1836.5" r="4.7" fill="#ebca6c" stroke="#8c6a1f" stroke-width="1.9"/>
<circle cx="351.0" cy="1841.9" r="4.7" fill="#ebca6c" stroke="#8c6a1f" stroke-width="1.9"/>
<circle cx="423.9" cy="1743.2" r="4.7" fill="#f4fac8" stroke="#cde43c" stroke-width="1.9"/>
<circle cx="434.2" cy="1773.1" r="4.7" fill="#f4fac8" stroke="#cde43c" stroke-width="1.9"/>
<circle cx="423.5" cy="1820.3" r="4.7" fill="#f4fac8" stroke="#cde43c" stroke-width="1.9"/>
<circle cx="427.1" cy="1820.6" r="4.7" fill="#f4fac8" stroke="#cde43c" stroke-width="1.9"/>
<circle cx="429.2" cy="1827.0" r="4.7" fill="#f4fac8" stroke="#cde43c" stroke-width="1.9"/>
<circle cx="428.2" cy="1835.8" r="4.7" fill="#f4fac8" stroke="#cde43c" stroke-width="1.9"/>
<circle cx="416.0" cy="1837.1" r="4.7" fill="#f4fac8" stroke="#cde43c" stroke-width="1.9"/>
<circle cx="422.1" cy="1844.6" r="4.7" fill="#f4fac8" stroke="#cde43c" stroke-width="1.9"/>
<circle cx="428.2" cy="1848.6" r="4.7" fill="#f4fac8" stroke="#cde43c" stroke-width="1.9"/>
<circle cx="438.3" cy="1849.7" r="4.7" fill="#f4fac8" stroke="#cde43c" stroke-width="1.9"/>
<circle cx="423.5" cy="1852.0" r="4.7" fill="#f4fac8" stroke="#cde43c" stroke-width="1.9"/>
<circle cx="425.5" cy="1861.4" r="4.7" fill="#f4fac8" stroke="#cde43c" stroke-width="1.9"/>
<circle cx="432.5" cy="1861.4" r="4.7" fill="#f4fac8" stroke="#cde43c" stroke-width="1.9"/>
<circle cx="422.5" cy="1875.6" r="4.7" fill="#f4fac8" stroke="#cde43c" stroke-width="1.9"/>
<circle cx="430.2" cy="1844.6" r="4.7" fill="#f4fac8" stroke="#cde43c" stroke-width="1.9"/>
<circle cx="499.9" cy="1786.6" r="4.7" fill="#bff3d4" stroke="#2b8a4e" stroke-width="1.9"/>
<circle cx="508.4" cy="1796.0" r="4.7" fill="#bff3d4" stroke="#2b8a4e" stroke-width="1.9"/>
<circle cx="499.3" cy="1800.4" r="4.7" fill="#bff3d4" stroke="#2b8a4e" stroke-width="1.9"/>
<circle cx="498.9" cy="1817.6" r="4.7" fill="#bff3d4" stroke="#2b8a4e" stroke-width="1.9"/>
<circle cx="507.0" cy="1820.6" r="4.7" fill="#bff3d4" stroke="#2b8a4e" stroke-width="1.9"/>
<circle cx="507.0" cy="1828.4" r="4.7" fill="#bff3d4" stroke="#2b8a4e" stroke-width="1.9"/>
<circle cx="498.9" cy="1830.4" r="4.7" fill="#bff3d4" stroke="#2b8a4e" stroke-width="1.9"/>
<circle cx="502.3" cy="1843.9" r="4.7" fill="#bff3d4" stroke="#2b8a4e" stroke-width="1.9"/>
<circle cx="507.7" cy="1844.6" r="4.7" fill="#bff3d4" stroke="#2b8a4e" stroke-width="1.9"/>
<circle cx="504.7" cy="1850.6" r="4.7" fill="#bff3d4" stroke="#2b8a4e" stroke-width="1.9"/>
<circle cx="494.2" cy="1865.4" r="4.7" fill="#bff3d4" stroke="#2b8a4e" stroke-width="1.9"/>
<circle cx="503.6" cy="1883.0" r="4.7" fill="#bff3d4" stroke="#2b8a4e" stroke-width="1.9"/>
<circle cx="501.6" cy="1845.9" r="4.7" fill="#bff3d4" stroke="#2b8a4e" stroke-width="1.9"/>
<circle cx="500.9" cy="1824.3" r="4.7" fill="#bff3d4" stroke="#2b8a4e" stroke-width="1.9"/>
<circle cx="506.3" cy="1841.9" r="4.7" fill="#bff3d4" stroke="#2b8a4e" stroke-width="1.9"/>
<line x1="159.30" y1="1632.70" x2="159.30" y2="1963.10" stroke="#000" stroke-width="2.1"/>
<line x1="146.90" y1="1962.10" x2="548.30" y2="1962.10" stroke="#000" stroke-width="2.1"/>
<line x1="147.80" y1="1962.10" x2="159.30" y2="1962.10" stroke="#000" stroke-width="2.1"/>
<text x="142.10" y="1970.32" font-size="23.5" text-anchor="end" stroke="#000" stroke-width="0.3">0</text>
<line x1="147.80" y1="1797.90" x2="159.30" y2="1797.90" stroke="#000" stroke-width="2.1"/>
<text x="142.10" y="1806.12" font-size="23.5" text-anchor="end" stroke="#000" stroke-width="0.3">0.4</text>
<line x1="147.80" y1="1633.70" x2="159.30" y2="1633.70" stroke="#000" stroke-width="2.1"/>
<text x="142.10" y="1641.92" font-size="23.5" text-anchor="end" stroke="#000" stroke-width="0.3">0.8</text>
<line x1="196.20" y1="1962.10" x2="196.20" y2="1974.10" stroke="#000" stroke-width="2.1"/>
<line x1="272.80" y1="1962.10" x2="272.80" y2="1974.10" stroke="#000" stroke-width="2.1"/>
<line x1="349.40" y1="1962.10" x2="349.40" y2="1974.10" stroke="#000" stroke-width="2.1"/>
<line x1="426.00" y1="1962.10" x2="426.00" y2="1974.10" stroke="#000" stroke-width="2.1"/>
<line x1="502.60" y1="1962.10" x2="502.60" y2="1974.10" stroke="#000" stroke-width="2.1"/>
<text x="196.20" y="1957.30" font-size="19" text-anchor="middle" stroke="#000" stroke-width="0.3">15</text>
<text x="272.80" y="1957.30" font-size="19" text-anchor="middle" fill="#fff" stroke="#fff" stroke-width="0.3">15</text>
<text x="349.40" y="1957.30" font-size="19" text-anchor="middle" fill="#fff" stroke="#fff" stroke-width="0.3">15</text>
<text x="426.00" y="1957.30" font-size="19" text-anchor="middle" stroke="#000" stroke-width="0.3">15</text>
<text x="502.60" y="1957.30" font-size="19" text-anchor="middle" fill="#fff" stroke="#fff" stroke-width="0.3">15</text>
<text x="86.40" y="1791.60" font-size="24.2" text-anchor="middle" stroke="#000" stroke-width="0.3" transform="rotate(-90 86.40 1791.60)">Shoot biomass (g DW)</text>
<text x="64.50" y="1621.50" font-size="30" stroke="#000" stroke-width="0.3">d</text>
<text x="212.33" y="1988.04" font-size="19" text-anchor="end" stroke="#000" stroke-width="0.3" transform="rotate(-30 212.33 1988.04)">Buffer</text>
<text x="307.62" y="1985.32" font-size="19" text-anchor="end" stroke="#000" stroke-width="0.3" transform="rotate(-30 307.62 1985.32)">10: <tspan font-style="italic">Priestia megaterium strain1</tspan></text>
<text x="386.23" y="1986.69" font-size="19" text-anchor="end" stroke="#000" stroke-width="0.3" transform="rotate(-30 386.23 1986.69)">7: <tspan font-style="italic">Klebsiella quasipneumoniae</tspan></text>
<text x="473.43" y="1983.39" font-size="19" text-anchor="end" stroke="#000" stroke-width="0.3" transform="rotate(-30 473.43 1983.39)">5: <tspan font-style="italic">Chryseobacterium phosphatilyticum</tspan></text>
<text x="546.02" y="1984.12" font-size="19" text-anchor="end" stroke="#000" stroke-width="0.3" transform="rotate(-30 546.02 1984.12)">11: <tspan font-style="italic">Priestia megaterium strain2</tspan></text>
</g>
<g>
<rect x="712.20" y="171.15" width="43.00" height="201.65" fill="#ffffff" stroke="#000" stroke-width="2.1"/>
<rect x="775.30" y="163.33" width="43.00" height="209.47" fill="#9a9a9a" stroke="#000" stroke-width="2.1"/>
<rect x="838.40" y="168.18" width="43.00" height="204.62" fill="#eec494" stroke="#000" stroke-width="2.1"/>
<rect x="901.50" y="186.24" width="43.00" height="186.56" fill="#f4b6fb" stroke="#000" stroke-width="2.1"/>
<rect x="964.60" y="230.18" width="43.00" height="142.62" fill="#eec494" stroke="#000" stroke-width="2.1"/>
<rect x="1027.70" y="199.04" width="43.00" height="173.76" fill="#eec494" stroke="#000" stroke-width="2.1"/>
<line x1="733.70" y1="171.15" x2="733.70" y2="160.09" stroke="#000" stroke-width="2.1"/>
<line x1="721.90" y1="160.09" x2="745.50" y2="160.09" stroke="#000" stroke-width="2.3"/>
<line x1="796.80" y1="163.33" x2="796.80" y2="156.05" stroke="#000" stroke-width="2.1"/>
<line x1="785.00" y1="156.05" x2="808.60" y2="156.05" stroke="#000" stroke-width="2.3"/>
<line x1="859.90" y1="168.18" x2="859.90" y2="156.73" stroke="#000" stroke-width="2.1"/>
<line x1="848.10" y1="156.73" x2="871.70" y2="156.73" stroke="#000" stroke-width="2.3"/>
<line x1="923.00" y1="186.24" x2="923.00" y2="175.59" stroke="#000" stroke-width="2.1"/>
<line x1="911.20" y1="175.59" x2="934.80" y2="175.59" stroke="#000" stroke-width="2.3"/>
<line x1="986.10" y1="230.18" x2="986.10" y2="221.01" stroke="#000" stroke-width="2.1"/>
<line x1="974.30" y1="221.01" x2="997.90" y2="221.01" stroke="#000" stroke-width="2.3"/>
<line x1="1049.20" y1="199.04" x2="1049.20" y2="186.64" stroke="#000" stroke-width="2.1"/>
<line x1="1037.40" y1="186.64" x2="1061.00" y2="186.64" stroke="#000" stroke-width="2.3"/>
<circle cx="725.6" cy="104.4" r="4.7" fill="none" stroke="#000000" stroke-width="1.9"/>
<circle cx="731.7" cy="131.1" r="4.7" fill="none" stroke="#000000" stroke-width="1.9"/>
<circle cx="734.4" cy="135.4" r="4.7" fill="none" stroke="#000000" stroke-width="1.9"/>
<circle cx="730.3" cy="138.1" r="4.7" fill="none" stroke="#000000" stroke-width="1.9"/>
<circle cx="735.0" cy="138.8" r="4.7" fill="none" stroke="#000000" stroke-width="1.9"/>
<circle cx="725.6" cy="141.5" r="4.7" fill="none" stroke="#000000" stroke-width="1.9"/>
<circle cx="724.3" cy="143.5" r="4.7" fill="none" stroke="#000000" stroke-width="1.9"/>
<circle cx="728.3" cy="157.7" r="4.7" fill="none" stroke="#000000" stroke-width="1.9"/>
<circle cx="736.4" cy="159.7" r="4.7" fill="none" stroke="#000000" stroke-width="1.9"/>
<circle cx="728.3" cy="169.1" r="4.7" fill="none" stroke="#000000" stroke-width="1.9"/>
<circle cx="730.3" cy="175.2" r="4.7" fill="none" stroke="#000000" stroke-width="1.9"/>
<circle cx="735.7" cy="180.6" r="4.7" fill="none" stroke="#000000" stroke-width="1.9"/>
<circle cx="729.0" cy="179.9" r="4.7" fill="none" stroke="#000000" stroke-width="1.9"/>
<circle cx="732.3" cy="192.7" r="4.7" fill="none" stroke="#000000" stroke-width="1.9"/>
<circle cx="733.7" cy="200.8" r="4.7" fill="none" stroke="#000000" stroke-width="1.9"/>
<circle cx="736.4" cy="254.7" r="4.7" fill="none" stroke="#000000" stroke-width="1.9"/>
<circle cx="739.1" cy="270.2" r="4.7" fill="none" stroke="#000000" stroke-width="1.9"/>
<circle cx="792.3" cy="117.2" r="4.7" fill="#dcdcdc" stroke="#555555" stroke-width="1.9"/>
<circle cx="795.0" cy="135.4" r="4.7" fill="#dcdcdc" stroke="#555555" stroke-width="1.9"/>
<circle cx="797.0" cy="137.5" r="4.7" fill="#dcdcdc" stroke="#555555" stroke-width="1.9"/>
<circle cx="793.0" cy="144.2" r="4.7" fill="#dcdcdc" stroke="#555555" stroke-width="1.9"/>
<circle cx="800.4" cy="146.2" r="4.7" fill="#dcdcdc" stroke="#555555" stroke-width="1.9"/>
<circle cx="795.7" cy="146.2" r="4.7" fill="#dcdcdc" stroke="#555555" stroke-width="1.9"/>
<circle cx="795.7" cy="152.3" r="4.7" fill="#dcdcdc" stroke="#555555" stroke-width="1.9"/>
<circle cx="797.0" cy="155.6" r="4.7" fill="#dcdcdc" stroke="#555555" stroke-width="1.9"/>
<circle cx="797.7" cy="164.4" r="4.7" fill="#dcdcdc" stroke="#555555" stroke-width="1.9"/>
<circle cx="801.8" cy="174.5" r="4.7" fill="#dcdcdc" stroke="#555555" stroke-width="1.9"/>
<circle cx="797.0" cy="180.6" r="4.7" fill="#dcdcdc" stroke="#555555" stroke-width="1.9"/>
<circle cx="799.7" cy="195.4" r="4.7" fill="#dcdcdc" stroke="#555555" stroke-width="1.9"/>
<circle cx="799.1" cy="196.1" r="4.7" fill="#dcdcdc" stroke="#555555" stroke-width="1.9"/>
<circle cx="802.4" cy="208.6" r="4.7" fill="#dcdcdc" stroke="#555555" stroke-width="1.9"/>
<circle cx="795.4" cy="221.7" r="4.7" fill="#dcdcdc" stroke="#555555" stroke-width="1.9"/>
<circle cx="794.3" cy="150.3" r="4.7" fill="#dcdcdc" stroke="#555555" stroke-width="1.9"/>
<circle cx="796.4" cy="159.7" r="4.7" fill="#dcdcdc" stroke="#555555" stroke-width="1.9"/>
<circle cx="862.4" cy="100.4" r="4.7" fill="#f5e6d6" stroke="#b5621f" stroke-width="1.9"/>
<circle cx="856.3" cy="121.3" r="4.7" fill="#f5e6d6" stroke="#b5621f" stroke-width="1.9"/>
<circle cx="866.4" cy="136.1" r="4.7" fill="#f5e6d6" stroke="#b5621f" stroke-width="1.9"/>
<circle cx="857.7" cy="142.2" r="4.7" fill="#f5e6d6" stroke="#b5621f" stroke-width="1.9"/>
<circle cx="856.3" cy="146.2" r="4.7" fill="#f5e6d6" stroke="#b5621f" stroke-width="1.9"/>
<circle cx="863.1" cy="149.6" r="4.7" fill="#f5e6d6" stroke="#b5621f" stroke-width="1.9"/>
<circle cx="854.3" cy="152.3" r="4.7" fill="#f5e6d6" stroke="#b5621f" stroke-width="1.9"/>
<circle cx="859.0" cy="154.3" r="4.7" fill="#f5e6d6" stroke="#b5621f" stroke-width="1.9"/>
<circle cx="861.1" cy="160.8" r="4.7" fill="#f5e6d6" stroke="#b5621f" stroke-width="1.9"/>
<circle cx="858.4" cy="167.8" r="4.7" fill="#f5e6d6" stroke="#b5621f" stroke-width="1.9"/>
<circle cx="859.7" cy="169.8" r="4.7" fill="#f5e6d6" stroke="#b5621f" stroke-width="1.9"/>
<circle cx="861.1" cy="187.3" r="4.7" fill="#f5e6d6" stroke="#b5621f" stroke-width="1.9"/>
<circle cx="867.1" cy="214.3" r="4.7" fill="#f5e6d6" stroke="#b5621f" stroke-width="1.9"/>
<circle cx="860.4" cy="262.1" r="4.7" fill="#f5e6d6" stroke="#b5621f" stroke-width="1.9"/>
<circle cx="860.4" cy="265.5" r="4.7" fill="#f5e6d6" stroke="#b5621f" stroke-width="1.9"/>
<circle cx="856.3" cy="158.3" r="4.7" fill="#f5e6d6" stroke="#b5621f" stroke-width="1.9"/>
<circle cx="924.8" cy="123.7" r="4.7" fill="#f3e1f6" stroke="#a52fbf" stroke-width="1.9"/>
<circle cx="922.7" cy="134.8" r="4.7" fill="#f3e1f6" stroke="#a52fbf" stroke-width="1.9"/>
<circle cx="927.5" cy="137.5" r="4.7" fill="#f3e1f6" stroke="#a52fbf" stroke-width="1.9"/>
<circle cx="926.1" cy="151.6" r="4.7" fill="#f3e1f6" stroke="#a52fbf" stroke-width="1.9"/>
<circle cx="933.5" cy="157.0" r="4.7" fill="#f3e1f6" stroke="#a52fbf" stroke-width="1.9"/>
<circle cx="920.7" cy="172.5" r="4.7" fill="#f3e1f6" stroke="#a52fbf" stroke-width="1.9"/>
<circle cx="919.4" cy="177.5" r="4.7" fill="#f3e1f6" stroke="#a52fbf" stroke-width="1.9"/>
<circle cx="914.6" cy="183.3" r="4.7" fill="#f3e1f6" stroke="#a52fbf" stroke-width="1.9"/>
<circle cx="921.4" cy="190.0" r="4.7" fill="#f3e1f6" stroke="#a52fbf" stroke-width="1.9"/>
<circle cx="924.1" cy="198.8" r="4.7" fill="#f3e1f6" stroke="#a52fbf" stroke-width="1.9"/>
<circle cx="930.1" cy="199.4" r="4.7" fill="#f3e1f6" stroke="#a52fbf" stroke-width="1.9"/>
<circle cx="920.7" cy="241.2" r="4.7" fill="#f3e1f6" stroke="#a52fbf" stroke-width="1.9"/>
<circle cx="916.0" cy="245.7" r="4.7" fill="#f3e1f6" stroke="#a52fbf" stroke-width="1.9"/>
<circle cx="926.1" cy="248.6" r="4.7" fill="#f3e1f6" stroke="#a52fbf" stroke-width="1.9"/>
<circle cx="924.1" cy="269.5" r="4.7" fill="#f3e1f6" stroke="#a52fbf" stroke-width="1.9"/>
<circle cx="925.4" cy="135.4" r="4.7" fill="#f3e1f6" stroke="#a52fbf" stroke-width="1.9"/>
<circle cx="918.7" cy="181.3" r="4.7" fill="#f3e1f6" stroke="#a52fbf" stroke-width="1.9"/>
<circle cx="987.7" cy="153.6" r="4.7" fill="#f5e6d6" stroke="#b5621f" stroke-width="1.9"/>
<circle cx="989.0" cy="165.8" r="4.7" fill="#f5e6d6" stroke="#b5621f" stroke-width="1.9"/>
<circle cx="985.0" cy="185.6" r="4.7" fill="#f5e6d6" stroke="#b5621f" stroke-width="1.9"/>
<circle cx="989.0" cy="194.5" r="4.7" fill="#f5e6d6" stroke="#b5621f" stroke-width="1.9"/>
<circle cx="992.1" cy="207.5" r="4.7" fill="#f5e6d6" stroke="#b5621f" stroke-width="1.9"/>
<circle cx="984.5" cy="210.6" r="4.7" fill="#f5e6d6" stroke="#b5621f" stroke-width="1.9"/>
<circle cx="985.4" cy="219.7" r="4.7" fill="#f5e6d6" stroke="#b5621f" stroke-width="1.9"/>
<circle cx="986.8" cy="220.3" r="4.7" fill="#f5e6d6" stroke="#b5621f" stroke-width="1.9"/>
<circle cx="992.1" cy="234.5" r="4.7" fill="#f5e6d6" stroke="#b5621f" stroke-width="1.9"/>
<circle cx="986.1" cy="248.6" r="4.7" fill="#f5e6d6" stroke="#b5621f" stroke-width="1.9"/>
<circle cx="991.5" cy="248.0" r="4.7" fill="#f5e6d6" stroke="#b5621f" stroke-width="1.9"/>
<circle cx="992.8" cy="260.1" r="4.7" fill="#f5e6d6" stroke="#b5621f" stroke-width="1.9"/>
<circle cx="994.2" cy="261.8" r="4.7" fill="#f5e6d6" stroke="#b5621f" stroke-width="1.9"/>
<circle cx="987.4" cy="270.9" r="4.7" fill="#f5e6d6" stroke="#b5621f" stroke-width="1.9"/>
<circle cx="987.4" cy="277.6" r="4.7" fill="#f5e6d6" stroke="#b5621f" stroke-width="1.9"/>
<circle cx="984.7" cy="279.6" r="4.7" fill="#f5e6d6" stroke="#b5621f" stroke-width="1.9"/>
<circle cx="985.4" cy="287.0" r="4.7" fill="#f5e6d6" stroke="#b5621f" stroke-width="1.9"/>
<circle cx="991.5" cy="247.3" r="4.7" fill="#f5e6d6" stroke="#b5621f" stroke-width="1.9"/>
<circle cx="1048.7" cy="137.5" r="4.7" fill="#f5e6d6" stroke="#b5621f" stroke-width="1.9"/>
<circle cx="1055.5" cy="140.1" r="4.7" fill="#f5e6d6" stroke="#b5621f" stroke-width="1.9"/>
<circle cx="1049.2" cy="153.9" r="4.7" fill="#f5e6d6" stroke="#b5621f" stroke-width="1.9"/>
<circle cx="1046.1" cy="159.0" r="4.7" fill="#f5e6d6" stroke="#b5621f" stroke-width="1.9"/>
<circle cx="1043.8" cy="166.4" r="4.7" fill="#f5e6d6" stroke="#b5621f" stroke-width="1.9"/>
<circle cx="1049.4" cy="175.5" r="4.7" fill="#f5e6d6" stroke="#b5621f" stroke-width="1.9"/>
<circle cx="1048.1" cy="179.2" r="4.7" fill="#f5e6d6" stroke="#b5621f" stroke-width="1.9"/>
<circle cx="1048.7" cy="185.3" r="4.7" fill="#f5e6d6" stroke="#b5621f" stroke-width="1.9"/>
<circle cx="1046.1" cy="189.3" r="4.7" fill="#f5e6d6" stroke="#b5621f" stroke-width="1.9"/>
<circle cx="1048.7" cy="194.7" r="4.7" fill="#f5e6d6" stroke="#b5621f" stroke-width="1.9"/>
<circle cx="1054.8" cy="218.7" r="4.7" fill="#f5e6d6" stroke="#b5621f" stroke-width="1.9"/>
<circle cx="1044.7" cy="228.4" r="4.7" fill="#f5e6d6" stroke="#b5621f" stroke-width="1.9"/>
<circle cx="1052.1" cy="235.8" r="4.7" fill="#f5e6d6" stroke="#b5621f" stroke-width="1.9"/>
<circle cx="1048.1" cy="242.6" r="4.7" fill="#f5e6d6" stroke="#b5621f" stroke-width="1.9"/>
<circle cx="1047.4" cy="279.6" r="4.7" fill="#f5e6d6" stroke="#b5621f" stroke-width="1.9"/>
<circle cx="1049.2" cy="326.8" r="4.7" fill="#f5e6d6" stroke="#b5621f" stroke-width="1.9"/>
<circle cx="1046.7" cy="170.5" r="4.7" fill="#f5e6d6" stroke="#b5621f" stroke-width="1.9"/>
<line x1="696.60" y1="43.40" x2="696.60" y2="373.80" stroke="#000" stroke-width="2.1"/>
<line x1="684.20" y1="372.80" x2="1085.60" y2="372.80" stroke="#000" stroke-width="2.1"/>
<line x1="685.10" y1="372.80" x2="696.60" y2="372.80" stroke="#000" stroke-width="2.1"/>
<text x="678.60" y="381.03" font-size="23.5" text-anchor="end" stroke="#000" stroke-width="0.3">0</text>
<line x1="685.10" y1="208.60" x2="696.60" y2="208.60" stroke="#000" stroke-width="2.1"/>
<text x="678.60" y="216.82" font-size="23.5" text-anchor="end" stroke="#000" stroke-width="0.3">3</text>
<line x1="685.10" y1="44.40" x2="696.60" y2="44.40" stroke="#000" stroke-width="2.1"/>
<text x="678.60" y="52.62" font-size="23.5" text-anchor="end" stroke="#000" stroke-width="0.3">6</text>
<line x1="733.70" y1="372.80" x2="733.70" y2="384.80" stroke="#000" stroke-width="2.1"/>
<line x1="796.80" y1="372.80" x2="796.80" y2="384.80" stroke="#000" stroke-width="2.1"/>
<line x1="859.90" y1="372.80" x2="859.90" y2="384.80" stroke="#000" stroke-width="2.1"/>
<line x1="923.00" y1="372.80" x2="923.00" y2="384.80" stroke="#000" stroke-width="2.1"/>
<line x1="986.10" y1="372.80" x2="986.10" y2="384.80" stroke="#000" stroke-width="2.1"/>
<line x1="1049.20" y1="372.80" x2="1049.20" y2="384.80" stroke="#000" stroke-width="2.1"/>
<text x="733.70" y="368.00" font-size="19" text-anchor="middle" stroke="#000" stroke-width="0.3">16</text>
<text x="796.80" y="368.00" font-size="19" text-anchor="middle" fill="#fff" stroke="#fff" stroke-width="0.3">17</text>
<text x="859.90" y="368.00" font-size="19" text-anchor="middle" fill="#fff" stroke="#fff" stroke-width="0.3">16</text>
<text x="923.00" y="368.00" font-size="19" text-anchor="middle" fill="#fff" stroke="#fff" stroke-width="0.3">17</text>
<text x="986.10" y="368.00" font-size="19" text-anchor="middle" fill="#fff" stroke="#fff" stroke-width="0.3">18</text>
<text x="1049.20" y="368.00" font-size="19" text-anchor="middle" fill="#fff" stroke="#fff" stroke-width="0.3">17</text>
<text x="986.10" y="141.60" font-size="30" text-anchor="middle" stroke="#000" stroke-width="0.3">***</text>
<text x="606.40" y="218.60" font-size="24" text-anchor="middle" stroke="#000" stroke-width="0.3" transform="rotate(-90 606.40 218.60)" textLength="194.2" lengthAdjust="spacingAndGlyphs">Larval weight gain</text>
<text x="634.80" y="223.80" font-size="24" text-anchor="middle" stroke="#000" stroke-width="0.3" transform="rotate(-90 634.80 223.80)" textLength="181.0" lengthAdjust="spacingAndGlyphs">(fold change d<tspan dy="-9" font-size="15">-1</tspan><tspan dy="9">)</tspan></text>
<text x="597.00" y="41.50" font-size="30" stroke="#000" stroke-width="0.3">e</text>
<text x="753.93" y="398.54" font-size="19" text-anchor="end" stroke="#000" stroke-width="0.3" transform="rotate(-30 753.93 398.54)">Buffer</text>
<text x="826.33" y="397.29" font-size="19" text-anchor="end" stroke="#000" stroke-width="0.3" textLength="204.0" lengthAdjust="spacingAndGlyphs" transform="rotate(-30 826.33 397.29)">8: <tspan font-style="italic">Lysinibacillus fusiformis</tspan></text>
<text x="884.43" y="398.29" font-size="19" text-anchor="end" stroke="#000" stroke-width="0.3" transform="rotate(-30 884.43 398.29)">2: <tspan font-style="italic">Bacillus mobilis</tspan></text>
<text x="958.52" y="394.52" font-size="19" text-anchor="end" stroke="#000" stroke-width="0.3" transform="rotate(-30 958.52 394.52)">16: <tspan font-style="italic">Pseudomonas taiwanensis strain2</tspan></text>
<text x="1026.32" y="395.12" font-size="19" text-anchor="end" stroke="#000" stroke-width="0.3" transform="rotate(-30 1026.32 395.12)">3: <tspan font-style="italic">Bacillus pacificus strain1</tspan></text>
<text x="1080.63" y="400.39" font-size="19" text-anchor="end" stroke="#000" stroke-width="0.3" transform="rotate(-30 1080.63 400.39)">1: <tspan font-style="italic">Bacillus cereus</tspan></text>
</g>
<g>
<rect x="712.40" y="738.17" width="43.00" height="180.63" fill="#ffffff" stroke="#000" stroke-width="2.1"/>
<rect x="775.50" y="763.50" width="43.00" height="155.30" fill="#50da78" stroke="#000" stroke-width="2.1"/>
<rect x="838.60" y="763.50" width="43.00" height="155.30" fill="#eec494" stroke="#000" stroke-width="2.1"/>
<rect x="901.70" y="766.47" width="43.00" height="152.33" fill="#aacdf2" stroke="#000" stroke-width="2.1"/>
<rect x="964.80" y="762.83" width="43.00" height="155.97" fill="#f4b6fb" stroke="#000" stroke-width="2.1"/>
<rect x="1027.90" y="789.78" width="43.00" height="129.02" fill="#50da78" stroke="#000" stroke-width="2.1"/>
<line x1="733.90" y1="738.17" x2="733.90" y2="729.81" stroke="#000" stroke-width="2.1"/>
<line x1="722.10" y1="729.81" x2="745.70" y2="729.81" stroke="#000" stroke-width="2.3"/>
<line x1="797.00" y1="763.50" x2="797.00" y2="758.79" stroke="#000" stroke-width="2.1"/>
<line x1="785.20" y1="758.79" x2="808.80" y2="758.79" stroke="#000" stroke-width="2.3"/>
<line x1="860.10" y1="763.50" x2="860.10" y2="754.74" stroke="#000" stroke-width="2.1"/>
<line x1="848.30" y1="754.74" x2="871.90" y2="754.74" stroke="#000" stroke-width="2.3"/>
<line x1="923.20" y1="766.47" x2="923.20" y2="762.43" stroke="#000" stroke-width="2.1"/>
<line x1="911.40" y1="762.43" x2="935.00" y2="762.43" stroke="#000" stroke-width="2.3"/>
<line x1="986.30" y1="762.83" x2="986.30" y2="755.28" stroke="#000" stroke-width="2.1"/>
<line x1="974.50" y1="755.28" x2="998.10" y2="755.28" stroke="#000" stroke-width="2.3"/>
<line x1="1049.40" y1="789.78" x2="1049.40" y2="783.32" stroke="#000" stroke-width="2.1"/>
<line x1="1037.60" y1="783.32" x2="1061.20" y2="783.32" stroke="#000" stroke-width="2.3"/>
<circle cx="729.4" cy="677.9" r="4.7" fill="none" stroke="#000000" stroke-width="1.9"/>
<circle cx="733.4" cy="695.3" r="4.7" fill="none" stroke="#000000" stroke-width="1.9"/>
<circle cx="734.8" cy="704.5" r="4.7" fill="none" stroke="#000000" stroke-width="1.9"/>
<circle cx="729.0" cy="710.1" r="4.7" fill="none" stroke="#000000" stroke-width="1.9"/>
<circle cx="740.2" cy="714.6" r="4.7" fill="none" stroke="#000000" stroke-width="1.9"/>
<circle cx="738.4" cy="722.0" r="4.7" fill="none" stroke="#000000" stroke-width="1.9"/>
<circle cx="730.3" cy="726.7" r="4.7" fill="none" stroke="#000000" stroke-width="1.9"/>
<circle cx="732.3" cy="729.0" r="4.7" fill="none" stroke="#000000" stroke-width="1.9"/>
<circle cx="736.7" cy="738.2" r="4.7" fill="none" stroke="#000000" stroke-width="1.9"/>
<circle cx="726.3" cy="750.6" r="4.7" fill="none" stroke="#000000" stroke-width="1.9"/>
<circle cx="729.6" cy="763.1" r="4.7" fill="none" stroke="#000000" stroke-width="1.9"/>
<circle cx="737.7" cy="770.5" r="4.7" fill="none" stroke="#000000" stroke-width="1.9"/>
<circle cx="735.7" cy="773.9" r="4.7" fill="none" stroke="#000000" stroke-width="1.9"/>
<circle cx="731.7" cy="775.9" r="4.7" fill="none" stroke="#000000" stroke-width="1.9"/>
<circle cx="734.4" cy="778.6" r="4.7" fill="none" stroke="#000000" stroke-width="1.9"/>
<circle cx="727.6" cy="786.7" r="4.7" fill="none" stroke="#000000" stroke-width="1.9"/>
<circle cx="795.4" cy="726.3" r="4.7" fill="#bff3d4" stroke="#2b8a4e" stroke-width="1.9"/>
<circle cx="794.3" cy="751.6" r="4.7" fill="#bff3d4" stroke="#2b8a4e" stroke-width="1.9"/>
<circle cx="792.7" cy="753.0" r="4.7" fill="#bff3d4" stroke="#2b8a4e" stroke-width="1.9"/>
<circle cx="798.4" cy="757.0" r="4.7" fill="#bff3d4" stroke="#2b8a4e" stroke-width="1.9"/>
<circle cx="800.4" cy="762.4" r="4.7" fill="#bff3d4" stroke="#2b8a4e" stroke-width="1.9"/>
<circle cx="802.4" cy="766.5" r="4.7" fill="#bff3d4" stroke="#2b8a4e" stroke-width="1.9"/>
<circle cx="801.8" cy="769.8" r="4.7" fill="#bff3d4" stroke="#2b8a4e" stroke-width="1.9"/>
<circle cx="799.1" cy="771.9" r="4.7" fill="#bff3d4" stroke="#2b8a4e" stroke-width="1.9"/>
<circle cx="796.8" cy="773.9" r="4.7" fill="#bff3d4" stroke="#2b8a4e" stroke-width="1.9"/>
<circle cx="800.8" cy="774.6" r="4.7" fill="#bff3d4" stroke="#2b8a4e" stroke-width="1.9"/>
<circle cx="795.7" cy="785.3" r="4.7" fill="#bff3d4" stroke="#2b8a4e" stroke-width="1.9"/>
<circle cx="795.0" cy="799.5" r="4.7" fill="#bff3d4" stroke="#2b8a4e" stroke-width="1.9"/>
<circle cx="799.7" cy="767.8" r="4.7" fill="#bff3d4" stroke="#2b8a4e" stroke-width="1.9"/>
<circle cx="797.7" cy="765.1" r="4.7" fill="#bff3d4" stroke="#2b8a4e" stroke-width="1.9"/>
<circle cx="866.8" cy="709.2" r="4.7" fill="#f5e6d6" stroke="#b5621f" stroke-width="1.9"/>
<circle cx="858.8" cy="718.6" r="4.7" fill="#f5e6d6" stroke="#b5621f" stroke-width="1.9"/>
<circle cx="860.1" cy="724.0" r="4.7" fill="#f5e6d6" stroke="#b5621f" stroke-width="1.9"/>
<circle cx="857.0" cy="738.8" r="4.7" fill="#f5e6d6" stroke="#b5621f" stroke-width="1.9"/>
<circle cx="859.0" cy="754.3" r="4.7" fill="#f5e6d6" stroke="#b5621f" stroke-width="1.9"/>
<circle cx="861.1" cy="761.8" r="4.7" fill="#f5e6d6" stroke="#b5621f" stroke-width="1.9"/>
<circle cx="865.1" cy="768.5" r="4.7" fill="#f5e6d6" stroke="#b5621f" stroke-width="1.9"/>
<circle cx="855.7" cy="769.2" r="4.7" fill="#f5e6d6" stroke="#b5621f" stroke-width="1.9"/>
<circle cx="856.3" cy="775.9" r="4.7" fill="#f5e6d6" stroke="#b5621f" stroke-width="1.9"/>
<circle cx="861.7" cy="787.4" r="4.7" fill="#f5e6d6" stroke="#b5621f" stroke-width="1.9"/>
<circle cx="854.3" cy="792.7" r="4.7" fill="#f5e6d6" stroke="#b5621f" stroke-width="1.9"/>
<circle cx="862.4" cy="800.8" r="4.7" fill="#f5e6d6" stroke="#b5621f" stroke-width="1.9"/>
<circle cx="864.4" cy="805.6" r="4.7" fill="#f5e6d6" stroke="#b5621f" stroke-width="1.9"/>
<circle cx="859.7" cy="804.9" r="4.7" fill="#f5e6d6" stroke="#b5621f" stroke-width="1.9"/>
<circle cx="857.0" cy="810.3" r="4.7" fill="#f5e6d6" stroke="#b5621f" stroke-width="1.9"/>
<circle cx="857.7" cy="766.5" r="4.7" fill="#f5e6d6" stroke="#b5621f" stroke-width="1.9"/>
<circle cx="860.4" cy="758.4" r="4.7" fill="#f5e6d6" stroke="#b5621f" stroke-width="1.9"/>
<circle cx="922.7" cy="751.0" r="4.7" fill="#d9e6f7" stroke="#3c64b4" stroke-width="1.9"/>
<circle cx="919.4" cy="751.6" r="4.7" fill="#d9e6f7" stroke="#3c64b4" stroke-width="1.9"/>
<circle cx="930.8" cy="748.9" r="4.7" fill="#d9e6f7" stroke="#3c64b4" stroke-width="1.9"/>
<circle cx="934.9" cy="748.3" r="4.7" fill="#d9e6f7" stroke="#3c64b4" stroke-width="1.9"/>
<circle cx="915.7" cy="757.0" r="4.7" fill="#d9e6f7" stroke="#3c64b4" stroke-width="1.9"/>
<circle cx="926.1" cy="762.4" r="4.7" fill="#d9e6f7" stroke="#3c64b4" stroke-width="1.9"/>
<circle cx="926.8" cy="766.5" r="4.7" fill="#d9e6f7" stroke="#3c64b4" stroke-width="1.9"/>
<circle cx="925.4" cy="773.2" r="4.7" fill="#d9e6f7" stroke="#3c64b4" stroke-width="1.9"/>
<circle cx="921.4" cy="777.3" r="4.7" fill="#d9e6f7" stroke="#3c64b4" stroke-width="1.9"/>
<circle cx="930.1" cy="781.3" r="4.7" fill="#d9e6f7" stroke="#3c64b4" stroke-width="1.9"/>
<circle cx="916.7" cy="784.0" r="4.7" fill="#d9e6f7" stroke="#3c64b4" stroke-width="1.9"/>
<circle cx="922.1" cy="797.7" r="4.7" fill="#d9e6f7" stroke="#3c64b4" stroke-width="1.9"/>
<circle cx="920.0" cy="754.3" r="4.7" fill="#d9e6f7" stroke="#3c64b4" stroke-width="1.9"/>
<circle cx="924.1" cy="769.8" r="4.7" fill="#d9e6f7" stroke="#3c64b4" stroke-width="1.9"/>
<circle cx="928.1" cy="757.0" r="4.7" fill="#d9e6f7" stroke="#3c64b4" stroke-width="1.9"/>
<circle cx="986.3" cy="708.2" r="4.7" fill="#f3e1f6" stroke="#a52fbf" stroke-width="1.9"/>
<circle cx="990.8" cy="719.3" r="4.7" fill="#f3e1f6" stroke="#a52fbf" stroke-width="1.9"/>
<circle cx="983.4" cy="720.6" r="4.7" fill="#f3e1f6" stroke="#a52fbf" stroke-width="1.9"/>
<circle cx="988.1" cy="734.8" r="4.7" fill="#f3e1f6" stroke="#a52fbf" stroke-width="1.9"/>
<circle cx="987.4" cy="747.6" r="4.7" fill="#f3e1f6" stroke="#a52fbf" stroke-width="1.9"/>
<circle cx="985.4" cy="752.3" r="4.7" fill="#f3e1f6" stroke="#a52fbf" stroke-width="1.9"/>
<circle cx="990.8" cy="759.7" r="4.7" fill="#f3e1f6" stroke="#a52fbf" stroke-width="1.9"/>
<circle cx="984.1" cy="762.4" r="4.7" fill="#f3e1f6" stroke="#a52fbf" stroke-width="1.9"/>
<circle cx="983.4" cy="769.2" r="4.7" fill="#f3e1f6" stroke="#a52fbf" stroke-width="1.9"/>
<circle cx="984.5" cy="773.2" r="4.7" fill="#f3e1f6" stroke="#a52fbf" stroke-width="1.9"/>
<circle cx="991.5" cy="778.6" r="4.7" fill="#f3e1f6" stroke="#a52fbf" stroke-width="1.9"/>
<circle cx="984.1" cy="787.4" r="4.7" fill="#f3e1f6" stroke="#a52fbf" stroke-width="1.9"/>
<circle cx="991.5" cy="789.4" r="4.7" fill="#f3e1f6" stroke="#a52fbf" stroke-width="1.9"/>
<circle cx="990.1" cy="795.4" r="4.7" fill="#f3e1f6" stroke="#a52fbf" stroke-width="1.9"/>
<circle cx="992.1" cy="797.5" r="4.7" fill="#f3e1f6" stroke="#a52fbf" stroke-width="1.9"/>
<circle cx="982.7" cy="801.5" r="4.7" fill="#f3e1f6" stroke="#a52fbf" stroke-width="1.9"/>
<circle cx="987.7" cy="808.2" r="4.7" fill="#f3e1f6" stroke="#a52fbf" stroke-width="1.9"/>
<circle cx="984.7" cy="765.1" r="4.7" fill="#f3e1f6" stroke="#a52fbf" stroke-width="1.9"/>
<circle cx="1050.5" cy="734.1" r="4.7" fill="#bff3d4" stroke="#2b8a4e" stroke-width="1.9"/>
<circle cx="1047.4" cy="737.5" r="4.7" fill="#bff3d4" stroke="#2b8a4e" stroke-width="1.9"/>
<circle cx="1045.4" cy="761.8" r="4.7" fill="#bff3d4" stroke="#2b8a4e" stroke-width="1.9"/>
<circle cx="1046.1" cy="777.3" r="4.7" fill="#bff3d4" stroke="#2b8a4e" stroke-width="1.9"/>
<circle cx="1055.5" cy="779.3" r="4.7" fill="#bff3d4" stroke="#2b8a4e" stroke-width="1.9"/>
<circle cx="1052.1" cy="781.3" r="4.7" fill="#bff3d4" stroke="#2b8a4e" stroke-width="1.9"/>
<circle cx="1056.8" cy="784.7" r="4.7" fill="#bff3d4" stroke="#2b8a4e" stroke-width="1.9"/>
<circle cx="1050.1" cy="791.4" r="4.7" fill="#bff3d4" stroke="#2b8a4e" stroke-width="1.9"/>
<circle cx="1050.5" cy="799.5" r="4.7" fill="#bff3d4" stroke="#2b8a4e" stroke-width="1.9"/>
<circle cx="1044.7" cy="803.5" r="4.7" fill="#bff3d4" stroke="#2b8a4e" stroke-width="1.9"/>
<circle cx="1056.8" cy="803.5" r="4.7" fill="#bff3d4" stroke="#2b8a4e" stroke-width="1.9"/>
<circle cx="1052.8" cy="819.0" r="4.7" fill="#bff3d4" stroke="#2b8a4e" stroke-width="1.9"/>
<circle cx="1049.4" cy="822.4" r="4.7" fill="#bff3d4" stroke="#2b8a4e" stroke-width="1.9"/>
<circle cx="1049.4" cy="831.2" r="4.7" fill="#bff3d4" stroke="#2b8a4e" stroke-width="1.9"/>
<circle cx="1048.1" cy="783.3" r="4.7" fill="#bff3d4" stroke="#2b8a4e" stroke-width="1.9"/>
<circle cx="1053.5" cy="794.8" r="4.7" fill="#bff3d4" stroke="#2b8a4e" stroke-width="1.9"/>
<circle cx="1046.7" cy="796.1" r="4.7" fill="#bff3d4" stroke="#2b8a4e" stroke-width="1.9"/>
<circle cx="1051.4" cy="777.3" r="4.7" fill="#bff3d4" stroke="#2b8a4e" stroke-width="1.9"/>
<line x1="696.80" y1="590.10" x2="696.80" y2="919.80" stroke="#000" stroke-width="2.1"/>
<line x1="684.40" y1="918.80" x2="1085.80" y2="918.80" stroke="#000" stroke-width="2.1"/>
<line x1="685.30" y1="918.80" x2="696.80" y2="918.80" stroke="#000" stroke-width="2.1"/>
<text x="678.10" y="927.02" font-size="23.5" text-anchor="end" stroke="#000" stroke-width="0.3">0</text>
<line x1="685.30" y1="754.95" x2="696.80" y2="754.95" stroke="#000" stroke-width="2.1"/>
<text x="678.10" y="763.18" font-size="23.5" text-anchor="end" stroke="#000" stroke-width="0.3">3</text>
<line x1="685.30" y1="591.10" x2="696.80" y2="591.10" stroke="#000" stroke-width="2.1"/>
<text x="678.10" y="599.33" font-size="23.5" text-anchor="end" stroke="#000" stroke-width="0.3">6</text>
<line x1="733.90" y1="918.80" x2="733.90" y2="930.80" stroke="#000" stroke-width="2.1"/>
<line x1="797.00" y1="918.80" x2="797.00" y2="930.80" stroke="#000" stroke-width="2.1"/>
<line x1="860.10" y1="918.80" x2="860.10" y2="930.80" stroke="#000" stroke-width="2.1"/>
<line x1="923.20" y1="918.80" x2="923.20" y2="930.80" stroke="#000" stroke-width="2.1"/>
<line x1="986.30" y1="918.80" x2="986.30" y2="930.80" stroke="#000" stroke-width="2.1"/>
<line x1="1049.40" y1="918.80" x2="1049.40" y2="930.80" stroke="#000" stroke-width="2.1"/>
<text x="733.90" y="914.00" font-size="19" text-anchor="middle" stroke="#000" stroke-width="0.3">16</text>
<text x="797.00" y="914.00" font-size="19" text-anchor="middle" fill="#fff" stroke="#fff" stroke-width="0.3">14</text>
<text x="860.10" y="914.00" font-size="19" text-anchor="middle" fill="#fff" stroke="#fff" stroke-width="0.3">17</text>
<text x="923.20" y="914.00" font-size="19" text-anchor="middle" fill="#fff" stroke="#fff" stroke-width="0.3">15</text>
<text x="986.30" y="914.00" font-size="19" text-anchor="middle" fill="#fff" stroke="#fff" stroke-width="0.3">18</text>
<text x="1049.40" y="914.00" font-size="19" text-anchor="middle" fill="#fff" stroke="#fff" stroke-width="0.3">18</text>
<text x="797.00" y="719.40" font-size="30" text-anchor="middle" stroke="#000" stroke-width="0.3">*</text>
<text x="860.10" y="705.90" font-size="30" text-anchor="middle" stroke="#000" stroke-width="0.3">*</text>
<text x="923.20" y="718.10" font-size="30" text-anchor="middle" stroke="#000" stroke-width="0.3">**</text>
<text x="986.30" y="705.90" font-size="30" text-anchor="middle" stroke="#000" stroke-width="0.3">*</text>
<text x="1049.40" y="720.70" font-size="30" text-anchor="middle" stroke="#000" stroke-width="0.3">***</text>
<text x="607.30" y="766.60" font-size="24" text-anchor="middle" stroke="#000" stroke-width="0.3" transform="rotate(-90 607.30 766.60)" textLength="194.2" lengthAdjust="spacingAndGlyphs">Larval weight gain</text>
<text x="635.00" y="766.70" font-size="24" text-anchor="middle" stroke="#000" stroke-width="0.3" transform="rotate(-90 635.00 766.70)" textLength="181.0" lengthAdjust="spacingAndGlyphs">(fold change d<tspan dy="-9" font-size="15">-1</tspan><tspan dy="9">)</tspan></text>
<text x="597.00" y="587.00" font-size="30" stroke="#000" stroke-width="0.3">f</text>
<text x="755.93" y="948.64" font-size="19" text-anchor="end" stroke="#000" stroke-width="0.3" transform="rotate(-30 755.93 948.64)">Buffer</text>
<text x="824.42" y="949.82" font-size="19" text-anchor="end" stroke="#000" stroke-width="0.3" transform="rotate(-30 824.42 949.82)">12: <tspan font-style="italic">Priestia aryabhattai</tspan></text>
<text x="889.12" y="945.42" font-size="19" text-anchor="end" stroke="#000" stroke-width="0.3" transform="rotate(-30 889.12 945.42)">4: <tspan font-style="italic">Bacillus pacificus strain2</tspan></text>
<text x="955.92" y="947.22" font-size="19" text-anchor="end" stroke="#000" stroke-width="0.3" transform="rotate(-30 955.92 947.22)">17: <tspan font-style="italic">Rossellomorea marisflavi</tspan></text>
<text x="1030.02" y="942.12" font-size="19" text-anchor="end" stroke="#000" stroke-width="0.3" transform="rotate(-30 1030.02 942.12)">15: <tspan font-style="italic">Pseudomonas taiwanensis strain1</tspan></text>
<text x="1081.63" y="951.29" font-size="19" text-anchor="end" stroke="#000" stroke-width="0.3" transform="rotate(-30 1081.63 951.29)">13: <tspan font-style="italic">Priestia koreensis</tspan></text>
</g>
<g>
<rect x="711.70" y="1234.99" width="45.40" height="221.91" fill="#ffffff" stroke="#000" stroke-width="2.1"/>
<rect x="788.30" y="1248.06" width="45.40" height="208.84" fill="#58b2f8" stroke="#000" stroke-width="2.1"/>
<rect x="864.90" y="1253.18" width="45.40" height="203.72" fill="#bdebec" stroke="#000" stroke-width="2.1"/>
<rect x="941.50" y="1264.85" width="45.40" height="192.05" fill="#aeb98f" stroke="#000" stroke-width="2.1"/>
<rect x="1018.10" y="1241.54" width="45.40" height="215.36" fill="#ef8123" stroke="#000" stroke-width="2.1"/>
<line x1="734.40" y1="1234.99" x2="734.40" y2="1228.11" stroke="#000" stroke-width="2.1"/>
<line x1="722.60" y1="1228.11" x2="746.20" y2="1228.11" stroke="#000" stroke-width="2.3"/>
<line x1="811.00" y1="1248.06" x2="811.00" y2="1240.92" stroke="#000" stroke-width="2.1"/>
<line x1="799.20" y1="1240.92" x2="822.80" y2="1240.92" stroke="#000" stroke-width="2.3"/>
<line x1="887.60" y1="1253.18" x2="887.60" y2="1247.39" stroke="#000" stroke-width="2.1"/>
<line x1="875.80" y1="1247.39" x2="899.40" y2="1247.39" stroke="#000" stroke-width="2.3"/>
<line x1="964.20" y1="1264.85" x2="964.20" y2="1256.77" stroke="#000" stroke-width="2.1"/>
<line x1="952.40" y1="1256.77" x2="976.00" y2="1256.77" stroke="#000" stroke-width="2.3"/>
<line x1="1040.80" y1="1241.54" x2="1040.80" y2="1233.85" stroke="#000" stroke-width="2.1"/>
<line x1="1029.00" y1="1233.85" x2="1052.60" y2="1233.85" stroke="#000" stroke-width="2.3"/>
<circle cx="724.9" cy="1190.8" r="4.7" fill="none" stroke="#000000" stroke-width="1.9"/>
<circle cx="728.3" cy="1198.2" r="4.7" fill="none" stroke="#000000" stroke-width="1.9"/>
<circle cx="738.4" cy="1201.3" r="4.7" fill="none" stroke="#000000" stroke-width="1.9"/>
<circle cx="728.3" cy="1204.9" r="4.7" fill="none" stroke="#000000" stroke-width="1.9"/>
<circle cx="738.4" cy="1213.0" r="4.7" fill="none" stroke="#000000" stroke-width="1.9"/>
<circle cx="736.4" cy="1217.1" r="4.7" fill="none" stroke="#000000" stroke-width="1.9"/>
<circle cx="734.4" cy="1221.1" r="4.7" fill="none" stroke="#000000" stroke-width="1.9"/>
<circle cx="730.3" cy="1225.1" r="4.7" fill="none" stroke="#000000" stroke-width="1.9"/>
<circle cx="735.7" cy="1231.9" r="4.7" fill="none" stroke="#000000" stroke-width="1.9"/>
<circle cx="737.7" cy="1235.3" r="4.7" fill="none" stroke="#000000" stroke-width="1.9"/>
<circle cx="732.3" cy="1241.3" r="4.7" fill="none" stroke="#000000" stroke-width="1.9"/>
<circle cx="741.1" cy="1245.4" r="4.7" fill="none" stroke="#000000" stroke-width="1.9"/>
<circle cx="727.0" cy="1253.5" r="4.7" fill="none" stroke="#000000" stroke-width="1.9"/>
<circle cx="729.0" cy="1254.8" r="4.7" fill="none" stroke="#000000" stroke-width="1.9"/>
<circle cx="735.7" cy="1266.3" r="4.7" fill="none" stroke="#000000" stroke-width="1.9"/>
<circle cx="728.3" cy="1284.4" r="4.7" fill="none" stroke="#000000" stroke-width="1.9"/>
<circle cx="733.0" cy="1284.4" r="4.7" fill="none" stroke="#000000" stroke-width="1.9"/>
<circle cx="733.7" cy="1238.0" r="4.7" fill="none" stroke="#000000" stroke-width="1.9"/>
<circle cx="805.8" cy="1196.8" r="4.7" fill="#a9c2e4" stroke="#3a64ae" stroke-width="1.9"/>
<circle cx="818.3" cy="1208.0" r="4.7" fill="#a9c2e4" stroke="#3a64ae" stroke-width="1.9"/>
<circle cx="805.1" cy="1216.1" r="4.7" fill="#a9c2e4" stroke="#3a64ae" stroke-width="1.9"/>
<circle cx="811.9" cy="1216.4" r="4.7" fill="#a9c2e4" stroke="#3a64ae" stroke-width="1.9"/>
<circle cx="809.4" cy="1221.1" r="4.7" fill="#a9c2e4" stroke="#3a64ae" stroke-width="1.9"/>
<circle cx="807.8" cy="1229.2" r="4.7" fill="#a9c2e4" stroke="#3a64ae" stroke-width="1.9"/>
<circle cx="814.6" cy="1243.6" r="4.7" fill="#a9c2e4" stroke="#3a64ae" stroke-width="1.9"/>
<circle cx="809.8" cy="1250.1" r="4.7" fill="#a9c2e4" stroke="#3a64ae" stroke-width="1.9"/>
<circle cx="809.2" cy="1254.1" r="4.7" fill="#a9c2e4" stroke="#3a64ae" stroke-width="1.9"/>
<circle cx="817.3" cy="1258.2" r="4.7" fill="#a9c2e4" stroke="#3a64ae" stroke-width="1.9"/>
<circle cx="807.8" cy="1260.2" r="4.7" fill="#a9c2e4" stroke="#3a64ae" stroke-width="1.9"/>
<circle cx="814.6" cy="1266.3" r="4.7" fill="#a9c2e4" stroke="#3a64ae" stroke-width="1.9"/>
<circle cx="809.2" cy="1286.5" r="4.7" fill="#a9c2e4" stroke="#3a64ae" stroke-width="1.9"/>
<circle cx="814.6" cy="1290.5" r="4.7" fill="#a9c2e4" stroke="#3a64ae" stroke-width="1.9"/>
<circle cx="811.2" cy="1306.0" r="4.7" fill="#a9c2e4" stroke="#3a64ae" stroke-width="1.9"/>
<circle cx="811.9" cy="1260.9" r="4.7" fill="#a9c2e4" stroke="#3a64ae" stroke-width="1.9"/>
<circle cx="813.9" cy="1247.4" r="4.7" fill="#a9c2e4" stroke="#3a64ae" stroke-width="1.9"/>
<circle cx="885.3" cy="1213.7" r="4.7" fill="#dcf4f4" stroke="#55bec0" stroke-width="1.9"/>
<circle cx="882.6" cy="1222.5" r="4.7" fill="#dcf4f4" stroke="#55bec0" stroke-width="1.9"/>
<circle cx="885.7" cy="1225.1" r="4.7" fill="#dcf4f4" stroke="#55bec0" stroke-width="1.9"/>
<circle cx="895.4" cy="1224.5" r="4.7" fill="#dcf4f4" stroke="#55bec0" stroke-width="1.9"/>
<circle cx="898.8" cy="1233.9" r="4.7" fill="#dcf4f4" stroke="#55bec0" stroke-width="1.9"/>
<circle cx="887.3" cy="1239.3" r="4.7" fill="#dcf4f4" stroke="#55bec0" stroke-width="1.9"/>
<circle cx="894.1" cy="1240.0" r="4.7" fill="#dcf4f4" stroke="#55bec0" stroke-width="1.9"/>
<circle cx="888.7" cy="1246.0" r="4.7" fill="#dcf4f4" stroke="#55bec0" stroke-width="1.9"/>
<circle cx="888.0" cy="1250.1" r="4.7" fill="#dcf4f4" stroke="#55bec0" stroke-width="1.9"/>
<circle cx="883.3" cy="1259.5" r="4.7" fill="#dcf4f4" stroke="#55bec0" stroke-width="1.9"/>
<circle cx="890.0" cy="1264.9" r="4.7" fill="#dcf4f4" stroke="#55bec0" stroke-width="1.9"/>
<circle cx="884.0" cy="1272.3" r="4.7" fill="#dcf4f4" stroke="#55bec0" stroke-width="1.9"/>
<circle cx="890.0" cy="1273.0" r="4.7" fill="#dcf4f4" stroke="#55bec0" stroke-width="1.9"/>
<circle cx="880.6" cy="1277.0" r="4.7" fill="#dcf4f4" stroke="#55bec0" stroke-width="1.9"/>
<circle cx="884.6" cy="1276.4" r="4.7" fill="#dcf4f4" stroke="#55bec0" stroke-width="1.9"/>
<circle cx="887.3" cy="1283.1" r="4.7" fill="#dcf4f4" stroke="#55bec0" stroke-width="1.9"/>
<circle cx="886.0" cy="1291.2" r="4.7" fill="#dcf4f4" stroke="#55bec0" stroke-width="1.9"/>
<circle cx="891.4" cy="1242.0" r="4.7" fill="#dcf4f4" stroke="#55bec0" stroke-width="1.9"/>
<circle cx="961.1" cy="1218.2" r="4.7" fill="#e6eadb" stroke="#667741" stroke-width="1.9"/>
<circle cx="960.8" cy="1221.3" r="4.7" fill="#e6eadb" stroke="#667741" stroke-width="1.9"/>
<circle cx="969.2" cy="1229.4" r="4.7" fill="#e6eadb" stroke="#667741" stroke-width="1.9"/>
<circle cx="967.8" cy="1237.5" r="4.7" fill="#e6eadb" stroke="#667741" stroke-width="1.9"/>
<circle cx="967.8" cy="1239.5" r="4.7" fill="#e6eadb" stroke="#667741" stroke-width="1.9"/>
<circle cx="955.0" cy="1246.3" r="4.7" fill="#e6eadb" stroke="#667741" stroke-width="1.9"/>
<circle cx="964.0" cy="1248.3" r="4.7" fill="#e6eadb" stroke="#667741" stroke-width="1.9"/>
<circle cx="955.7" cy="1254.3" r="4.7" fill="#e6eadb" stroke="#667741" stroke-width="1.9"/>
<circle cx="973.2" cy="1257.0" r="4.7" fill="#e6eadb" stroke="#667741" stroke-width="1.9"/>
<circle cx="963.1" cy="1262.4" r="4.7" fill="#e6eadb" stroke="#667741" stroke-width="1.9"/>
<circle cx="965.8" cy="1266.5" r="4.7" fill="#e6eadb" stroke="#667741" stroke-width="1.9"/>
<circle cx="971.6" cy="1278.6" r="4.7" fill="#e6eadb" stroke="#667741" stroke-width="1.9"/>
<circle cx="966.5" cy="1284.0" r="4.7" fill="#e6eadb" stroke="#667741" stroke-width="1.9"/>
<circle cx="969.2" cy="1288.7" r="4.7" fill="#e6eadb" stroke="#667741" stroke-width="1.9"/>
<circle cx="960.4" cy="1293.4" r="4.7" fill="#e6eadb" stroke="#667741" stroke-width="1.9"/>
<circle cx="965.8" cy="1300.2" r="4.7" fill="#e6eadb" stroke="#667741" stroke-width="1.9"/>
<circle cx="969.8" cy="1346.0" r="4.7" fill="#e6eadb" stroke="#667741" stroke-width="1.9"/>
<circle cx="966.5" cy="1285.3" r="4.7" fill="#e6eadb" stroke="#667741" stroke-width="1.9"/>
<circle cx="1037.6" cy="1194.4" r="4.7" fill="#f2b48e" stroke="#c0622b" stroke-width="1.9"/>
<circle cx="1047.6" cy="1198.1" r="4.7" fill="#f2b48e" stroke="#c0622b" stroke-width="1.9"/>
<circle cx="1037.6" cy="1207.8" r="4.7" fill="#f2b48e" stroke="#c0622b" stroke-width="1.9"/>
<circle cx="1046.0" cy="1219.3" r="4.7" fill="#f2b48e" stroke="#c0622b" stroke-width="1.9"/>
<circle cx="1039.9" cy="1221.3" r="4.7" fill="#f2b48e" stroke="#c0622b" stroke-width="1.9"/>
<circle cx="1040.6" cy="1224.0" r="4.7" fill="#f2b48e" stroke="#c0622b" stroke-width="1.9"/>
<circle cx="1039.2" cy="1230.1" r="4.7" fill="#f2b48e" stroke="#c0622b" stroke-width="1.9"/>
<circle cx="1044.6" cy="1240.9" r="4.7" fill="#f2b48e" stroke="#c0622b" stroke-width="1.9"/>
<circle cx="1039.9" cy="1242.9" r="4.7" fill="#f2b48e" stroke="#c0622b" stroke-width="1.9"/>
<circle cx="1046.7" cy="1246.3" r="4.7" fill="#f2b48e" stroke="#c0622b" stroke-width="1.9"/>
<circle cx="1035.9" cy="1247.6" r="4.7" fill="#f2b48e" stroke="#c0622b" stroke-width="1.9"/>
<circle cx="1037.2" cy="1254.3" r="4.7" fill="#f2b48e" stroke="#c0622b" stroke-width="1.9"/>
<circle cx="1039.2" cy="1260.4" r="4.7" fill="#f2b48e" stroke="#c0622b" stroke-width="1.9"/>
<circle cx="1043.3" cy="1263.8" r="4.7" fill="#f2b48e" stroke="#c0622b" stroke-width="1.9"/>
<circle cx="1041.9" cy="1283.3" r="4.7" fill="#f2b48e" stroke="#c0622b" stroke-width="1.9"/>
<circle cx="1037.2" cy="1329.8" r="4.7" fill="#f2b48e" stroke="#c0622b" stroke-width="1.9"/>
<circle cx="1041.9" cy="1235.5" r="4.7" fill="#f2b48e" stroke="#c0622b" stroke-width="1.9"/>
<circle cx="1044.6" cy="1251.6" r="4.7" fill="#f2b48e" stroke="#c0622b" stroke-width="1.9"/>
<line x1="697.50" y1="1127.50" x2="697.50" y2="1457.90" stroke="#000" stroke-width="2.1"/>
<line x1="685.10" y1="1456.90" x2="1086.50" y2="1456.90" stroke="#000" stroke-width="2.1"/>
<line x1="686.00" y1="1456.90" x2="697.50" y2="1456.90" stroke="#000" stroke-width="2.1"/>
<text x="681.10" y="1465.12" font-size="23.5" text-anchor="end" stroke="#000" stroke-width="0.3">0</text>
<line x1="686.00" y1="1292.70" x2="697.50" y2="1292.70" stroke="#000" stroke-width="2.1"/>
<text x="681.10" y="1300.92" font-size="23.5" text-anchor="end" stroke="#000" stroke-width="0.3">5</text>
<line x1="686.00" y1="1128.50" x2="697.50" y2="1128.50" stroke="#000" stroke-width="2.1"/>
<text x="681.10" y="1136.72" font-size="23.5" text-anchor="end" stroke="#000" stroke-width="0.3">10</text>
<line x1="734.40" y1="1456.90" x2="734.40" y2="1468.90" stroke="#000" stroke-width="2.1"/>
<line x1="811.00" y1="1456.90" x2="811.00" y2="1468.90" stroke="#000" stroke-width="2.1"/>
<line x1="887.60" y1="1456.90" x2="887.60" y2="1468.90" stroke="#000" stroke-width="2.1"/>
<line x1="964.20" y1="1456.90" x2="964.20" y2="1468.90" stroke="#000" stroke-width="2.1"/>
<line x1="1040.80" y1="1456.90" x2="1040.80" y2="1468.90" stroke="#000" stroke-width="2.1"/>
<text x="734.40" y="1452.10" font-size="19" text-anchor="middle" stroke="#000" stroke-width="0.3">18</text>
<text x="811.00" y="1452.10" font-size="19" text-anchor="middle" fill="#fff" stroke="#fff" stroke-width="0.3">17</text>
<text x="887.60" y="1452.10" font-size="19" text-anchor="middle" stroke="#000" stroke-width="0.3">18</text>
<text x="964.20" y="1452.10" font-size="19" text-anchor="middle" fill="#fff" stroke="#fff" stroke-width="0.3">18</text>
<text x="1040.80" y="1452.10" font-size="19" text-anchor="middle" fill="#fff" stroke="#fff" stroke-width="0.3">18</text>
<text x="887.60" y="1196.10" font-size="30" text-anchor="middle" stroke="#000" stroke-width="0.3">*</text>
<text x="964.20" y="1196.50" font-size="30" text-anchor="middle" stroke="#000" stroke-width="0.3">**</text>
<text x="607.50" y="1311.30" font-size="24" text-anchor="middle" stroke="#000" stroke-width="0.3" transform="rotate(-90 607.50 1311.30)" textLength="194.2" lengthAdjust="spacingAndGlyphs">Larval weight gain</text>
<text x="635.20" y="1311.30" font-size="24" text-anchor="middle" stroke="#000" stroke-width="0.3" transform="rotate(-90 635.20 1311.30)" textLength="181.0" lengthAdjust="spacingAndGlyphs">(fold change d<tspan dy="-9" font-size="15">-1</tspan><tspan dy="9">)</tspan></text>
<text x="597.00" y="1124.00" font-size="30" stroke="#000" stroke-width="0.3">g</text>
<text x="748.73" y="1482.74" font-size="19" text-anchor="end" stroke="#000" stroke-width="0.3" transform="rotate(-30 748.73 1482.74)">Buffer</text>
<text x="834.13" y="1483.79" font-size="19" text-anchor="end" stroke="#000" stroke-width="0.3" transform="rotate(-30 834.13 1483.79)">14: <tspan font-style="italic">Paenibacillus cucumis</tspan></text>
<text x="917.43" y="1482.49" font-size="19" text-anchor="end" stroke="#000" stroke-width="0.3" transform="rotate(-30 917.43 1482.49)">18: <tspan font-style="italic">Serratia marcescens</tspan></text>
<text x="990.12" y="1486.62" font-size="19" text-anchor="end" stroke="#000" stroke-width="0.3" transform="rotate(-30 990.12 1486.62)">9: <tspan font-style="italic">Massilia arvi</tspan></text>
<text x="1077.73" y="1483.79" font-size="19" text-anchor="end" stroke="#000" stroke-width="0.3" transform="rotate(-30 1077.73 1483.79)">6: <tspan font-style="italic">Gottfriedia solisilvae</tspan></text>
</g>
<g>
<rect x="711.70" y="1799.51" width="45.40" height="162.39" fill="#ffffff" stroke="#000" stroke-width="2.1"/>
<rect x="788.30" y="1793.85" width="45.40" height="168.05" fill="#50da78" stroke="#000" stroke-width="2.1"/>
<rect x="864.90" y="1806.52" width="45.40" height="155.38" fill="#c9962b" stroke="#000" stroke-width="2.1"/>
<rect x="941.50" y="1829.84" width="45.40" height="132.06" fill="#f1fa9f" stroke="#000" stroke-width="2.1"/>
<rect x="1018.10" y="1799.78" width="45.40" height="162.12" fill="#50da78" stroke="#000" stroke-width="2.1"/>
<line x1="734.40" y1="1799.51" x2="734.40" y2="1792.51" stroke="#000" stroke-width="2.1"/>
<line x1="722.60" y1="1792.51" x2="746.20" y2="1792.51" stroke="#000" stroke-width="2.3"/>
<line x1="811.00" y1="1793.85" x2="811.00" y2="1786.71" stroke="#000" stroke-width="2.1"/>
<line x1="799.20" y1="1786.71" x2="822.80" y2="1786.71" stroke="#000" stroke-width="2.3"/>
<line x1="887.60" y1="1806.52" x2="887.60" y2="1801.54" stroke="#000" stroke-width="2.1"/>
<line x1="875.80" y1="1801.54" x2="899.40" y2="1801.54" stroke="#000" stroke-width="2.3"/>
<line x1="964.20" y1="1829.84" x2="964.20" y2="1821.08" stroke="#000" stroke-width="2.1"/>
<line x1="952.40" y1="1821.08" x2="976.00" y2="1821.08" stroke="#000" stroke-width="2.3"/>
<line x1="1040.80" y1="1799.78" x2="1040.80" y2="1788.73" stroke="#000" stroke-width="2.1"/>
<line x1="1029.00" y1="1788.73" x2="1052.60" y2="1788.73" stroke="#000" stroke-width="2.3"/>
<circle cx="735.3" cy="1756.1" r="4.7" fill="none" stroke="#000000" stroke-width="1.9"/>
<circle cx="726.3" cy="1764.5" r="4.7" fill="none" stroke="#000000" stroke-width="1.9"/>
<circle cx="739.1" cy="1767.2" r="4.7" fill="none" stroke="#000000" stroke-width="1.9"/>
<circle cx="724.9" cy="1770.9" r="4.7" fill="none" stroke="#000000" stroke-width="1.9"/>
<circle cx="738.4" cy="1771.2" r="4.7" fill="none" stroke="#000000" stroke-width="1.9"/>
<circle cx="732.3" cy="1780.0" r="4.7" fill="none" stroke="#000000" stroke-width="1.9"/>
<circle cx="734.4" cy="1782.0" r="4.7" fill="none" stroke="#000000" stroke-width="1.9"/>
<circle cx="728.3" cy="1786.7" r="4.7" fill="none" stroke="#000000" stroke-width="1.9"/>
<circle cx="732.3" cy="1787.4" r="4.7" fill="none" stroke="#000000" stroke-width="1.9"/>
<circle cx="739.1" cy="1792.8" r="4.7" fill="none" stroke="#000000" stroke-width="1.9"/>
<circle cx="733.7" cy="1805.6" r="4.7" fill="none" stroke="#000000" stroke-width="1.9"/>
<circle cx="736.4" cy="1812.3" r="4.7" fill="none" stroke="#000000" stroke-width="1.9"/>
<circle cx="735.7" cy="1817.0" r="4.7" fill="none" stroke="#000000" stroke-width="1.9"/>
<circle cx="729.0" cy="1827.8" r="4.7" fill="none" stroke="#000000" stroke-width="1.9"/>
<circle cx="741.8" cy="1839.9" r="4.7" fill="none" stroke="#000000" stroke-width="1.9"/>
<circle cx="729.6" cy="1842.6" r="4.7" fill="none" stroke="#000000" stroke-width="1.9"/>
<circle cx="732.3" cy="1844.7" r="4.7" fill="none" stroke="#000000" stroke-width="1.9"/>
<circle cx="735.0" cy="1845.3" r="4.7" fill="none" stroke="#000000" stroke-width="1.9"/>
<circle cx="811.2" cy="1731.9" r="4.7" fill="#bff3d4" stroke="#2b8a4e" stroke-width="1.9"/>
<circle cx="805.4" cy="1751.0" r="4.7" fill="#bff3d4" stroke="#2b8a4e" stroke-width="1.9"/>
<circle cx="809.2" cy="1763.4" r="4.7" fill="#bff3d4" stroke="#2b8a4e" stroke-width="1.9"/>
<circle cx="804.4" cy="1774.6" r="4.7" fill="#bff3d4" stroke="#2b8a4e" stroke-width="1.9"/>
<circle cx="816.6" cy="1776.6" r="4.7" fill="#bff3d4" stroke="#2b8a4e" stroke-width="1.9"/>
<circle cx="808.9" cy="1782.0" r="4.7" fill="#bff3d4" stroke="#2b8a4e" stroke-width="1.9"/>
<circle cx="817.3" cy="1792.1" r="4.7" fill="#bff3d4" stroke="#2b8a4e" stroke-width="1.9"/>
<circle cx="807.8" cy="1796.8" r="4.7" fill="#bff3d4" stroke="#2b8a4e" stroke-width="1.9"/>
<circle cx="809.8" cy="1799.5" r="4.7" fill="#bff3d4" stroke="#2b8a4e" stroke-width="1.9"/>
<circle cx="805.8" cy="1803.6" r="4.7" fill="#bff3d4" stroke="#2b8a4e" stroke-width="1.9"/>
<circle cx="814.6" cy="1825.4" r="4.7" fill="#bff3d4" stroke="#2b8a4e" stroke-width="1.9"/>
<circle cx="809.8" cy="1838.6" r="4.7" fill="#bff3d4" stroke="#2b8a4e" stroke-width="1.9"/>
<circle cx="814.8" cy="1845.3" r="4.7" fill="#bff3d4" stroke="#2b8a4e" stroke-width="1.9"/>
<circle cx="811.9" cy="1843.7" r="4.7" fill="#bff3d4" stroke="#2b8a4e" stroke-width="1.9"/>
<circle cx="808.5" cy="1798.2" r="4.7" fill="#bff3d4" stroke="#2b8a4e" stroke-width="1.9"/>
<circle cx="811.9" cy="1795.5" r="4.7" fill="#bff3d4" stroke="#2b8a4e" stroke-width="1.9"/>
<circle cx="810.5" cy="1786.0" r="4.7" fill="#bff3d4" stroke="#2b8a4e" stroke-width="1.9"/>
<circle cx="806.5" cy="1800.9" r="4.7" fill="#bff3d4" stroke="#2b8a4e" stroke-width="1.9"/>
<circle cx="884.6" cy="1773.9" r="4.7" fill="#ebca6c" stroke="#8c6a1f" stroke-width="1.9"/>
<circle cx="887.3" cy="1778.0" r="4.7" fill="#ebca6c" stroke="#8c6a1f" stroke-width="1.9"/>
<circle cx="884.0" cy="1784.7" r="4.7" fill="#ebca6c" stroke="#8c6a1f" stroke-width="1.9"/>
<circle cx="890.7" cy="1787.4" r="4.7" fill="#ebca6c" stroke="#8c6a1f" stroke-width="1.9"/>
<circle cx="894.1" cy="1798.2" r="4.7" fill="#ebca6c" stroke="#8c6a1f" stroke-width="1.9"/>
<circle cx="888.7" cy="1799.5" r="4.7" fill="#ebca6c" stroke="#8c6a1f" stroke-width="1.9"/>
<circle cx="888.0" cy="1802.5" r="4.7" fill="#ebca6c" stroke="#8c6a1f" stroke-width="1.9"/>
<circle cx="898.1" cy="1800.9" r="4.7" fill="#ebca6c" stroke="#8c6a1f" stroke-width="1.9"/>
<circle cx="884.0" cy="1807.6" r="4.7" fill="#ebca6c" stroke="#8c6a1f" stroke-width="1.9"/>
<circle cx="890.0" cy="1808.9" r="4.7" fill="#ebca6c" stroke="#8c6a1f" stroke-width="1.9"/>
<circle cx="896.1" cy="1815.0" r="4.7" fill="#ebca6c" stroke="#8c6a1f" stroke-width="1.9"/>
<circle cx="890.0" cy="1823.8" r="4.7" fill="#ebca6c" stroke="#8c6a1f" stroke-width="1.9"/>
<circle cx="884.0" cy="1833.9" r="4.7" fill="#ebca6c" stroke="#8c6a1f" stroke-width="1.9"/>
<circle cx="887.3" cy="1833.9" r="4.7" fill="#ebca6c" stroke="#8c6a1f" stroke-width="1.9"/>
<circle cx="886.0" cy="1835.9" r="4.7" fill="#ebca6c" stroke="#8c6a1f" stroke-width="1.9"/>
<circle cx="889.4" cy="1842.0" r="4.7" fill="#ebca6c" stroke="#8c6a1f" stroke-width="1.9"/>
<circle cx="885.3" cy="1783.3" r="4.7" fill="#ebca6c" stroke="#8c6a1f" stroke-width="1.9"/>
<circle cx="891.4" cy="1804.9" r="4.7" fill="#ebca6c" stroke="#8c6a1f" stroke-width="1.9"/>
<circle cx="966.5" cy="1761.8" r="4.7" fill="#f4fac8" stroke="#cde43c" stroke-width="1.9"/>
<circle cx="974.3" cy="1770.1" r="4.7" fill="#f4fac8" stroke="#cde43c" stroke-width="1.9"/>
<circle cx="969.4" cy="1793.9" r="4.7" fill="#f4fac8" stroke="#cde43c" stroke-width="1.9"/>
<circle cx="962.4" cy="1798.8" r="4.7" fill="#f4fac8" stroke="#cde43c" stroke-width="1.9"/>
<circle cx="973.2" cy="1798.2" r="4.7" fill="#f4fac8" stroke="#cde43c" stroke-width="1.9"/>
<circle cx="961.3" cy="1810.3" r="4.7" fill="#f4fac8" stroke="#cde43c" stroke-width="1.9"/>
<circle cx="970.8" cy="1821.1" r="4.7" fill="#f4fac8" stroke="#cde43c" stroke-width="1.9"/>
<circle cx="968.9" cy="1835.9" r="4.7" fill="#f4fac8" stroke="#cde43c" stroke-width="1.9"/>
<circle cx="970.5" cy="1843.3" r="4.7" fill="#f4fac8" stroke="#cde43c" stroke-width="1.9"/>
<circle cx="961.8" cy="1846.4" r="4.7" fill="#f4fac8" stroke="#cde43c" stroke-width="1.9"/>
<circle cx="956.0" cy="1850.1" r="4.7" fill="#f4fac8" stroke="#cde43c" stroke-width="1.9"/>
<circle cx="970.5" cy="1854.8" r="4.7" fill="#f4fac8" stroke="#cde43c" stroke-width="1.9"/>
<circle cx="964.4" cy="1865.6" r="4.7" fill="#f4fac8" stroke="#cde43c" stroke-width="1.9"/>
<circle cx="969.4" cy="1870.3" r="4.7" fill="#f4fac8" stroke="#cde43c" stroke-width="1.9"/>
<circle cx="965.4" cy="1887.8" r="4.7" fill="#f4fac8" stroke="#cde43c" stroke-width="1.9"/>
<circle cx="954.3" cy="1851.4" r="4.7" fill="#f4fac8" stroke="#cde43c" stroke-width="1.9"/>
<circle cx="973.2" cy="1840.6" r="4.7" fill="#f4fac8" stroke="#cde43c" stroke-width="1.9"/>
<circle cx="1045.3" cy="1722.0" r="4.7" fill="#bff3d4" stroke="#2b8a4e" stroke-width="1.9"/>
<circle cx="1046.7" cy="1724.0" r="4.7" fill="#bff3d4" stroke="#2b8a4e" stroke-width="1.9"/>
<circle cx="1037.2" cy="1735.9" r="4.7" fill="#bff3d4" stroke="#2b8a4e" stroke-width="1.9"/>
<circle cx="1041.9" cy="1740.9" r="4.7" fill="#bff3d4" stroke="#2b8a4e" stroke-width="1.9"/>
<circle cx="1040.6" cy="1781.3" r="4.7" fill="#bff3d4" stroke="#2b8a4e" stroke-width="1.9"/>
<circle cx="1037.9" cy="1796.1" r="4.7" fill="#bff3d4" stroke="#2b8a4e" stroke-width="1.9"/>
<circle cx="1048.0" cy="1795.2" r="4.7" fill="#bff3d4" stroke="#2b8a4e" stroke-width="1.9"/>
<circle cx="1038.6" cy="1802.2" r="4.7" fill="#bff3d4" stroke="#2b8a4e" stroke-width="1.9"/>
<circle cx="1041.3" cy="1806.3" r="4.7" fill="#bff3d4" stroke="#2b8a4e" stroke-width="1.9"/>
<circle cx="1044.0" cy="1811.6" r="4.7" fill="#bff3d4" stroke="#2b8a4e" stroke-width="1.9"/>
<circle cx="1048.0" cy="1811.6" r="4.7" fill="#bff3d4" stroke="#2b8a4e" stroke-width="1.9"/>
<circle cx="1039.2" cy="1819.1" r="4.7" fill="#bff3d4" stroke="#2b8a4e" stroke-width="1.9"/>
<circle cx="1042.6" cy="1832.1" r="4.7" fill="#bff3d4" stroke="#2b8a4e" stroke-width="1.9"/>
<circle cx="1037.9" cy="1845.3" r="4.7" fill="#bff3d4" stroke="#2b8a4e" stroke-width="1.9"/>
<circle cx="1039.2" cy="1853.4" r="4.7" fill="#bff3d4" stroke="#2b8a4e" stroke-width="1.9"/>
<circle cx="1036.5" cy="1854.1" r="4.7" fill="#bff3d4" stroke="#2b8a4e" stroke-width="1.9"/>
<circle cx="1039.9" cy="1866.2" r="4.7" fill="#bff3d4" stroke="#2b8a4e" stroke-width="1.9"/>
<line x1="697.50" y1="1632.70" x2="697.50" y2="1962.90" stroke="#000" stroke-width="2.1"/>
<line x1="685.10" y1="1961.90" x2="1086.50" y2="1961.90" stroke="#000" stroke-width="2.1"/>
<line x1="686.00" y1="1961.90" x2="697.50" y2="1961.90" stroke="#000" stroke-width="2.1"/>
<text x="681.10" y="1970.12" font-size="23.5" text-anchor="end" stroke="#000" stroke-width="0.3">0</text>
<line x1="686.00" y1="1797.80" x2="697.50" y2="1797.80" stroke="#000" stroke-width="2.1"/>
<text x="681.10" y="1806.03" font-size="23.5" text-anchor="end" stroke="#000" stroke-width="0.3">4</text>
<line x1="686.00" y1="1633.70" x2="697.50" y2="1633.70" stroke="#000" stroke-width="2.1"/>
<text x="681.10" y="1641.92" font-size="23.5" text-anchor="end" stroke="#000" stroke-width="0.3">8</text>
<line x1="734.40" y1="1961.90" x2="734.40" y2="1973.90" stroke="#000" stroke-width="2.1"/>
<line x1="811.00" y1="1961.90" x2="811.00" y2="1973.90" stroke="#000" stroke-width="2.1"/>
<line x1="887.60" y1="1961.90" x2="887.60" y2="1973.90" stroke="#000" stroke-width="2.1"/>
<line x1="964.20" y1="1961.90" x2="964.20" y2="1973.90" stroke="#000" stroke-width="2.1"/>
<line x1="1040.80" y1="1961.90" x2="1040.80" y2="1973.90" stroke="#000" stroke-width="2.1"/>
<text x="734.40" y="1957.10" font-size="19" text-anchor="middle" stroke="#000" stroke-width="0.3">18</text>
<text x="811.00" y="1957.10" font-size="19" text-anchor="middle" fill="#fff" stroke="#fff" stroke-width="0.3">18</text>
<text x="887.60" y="1957.10" font-size="19" text-anchor="middle" fill="#fff" stroke="#fff" stroke-width="0.3">18</text>
<text x="964.20" y="1957.10" font-size="19" text-anchor="middle" stroke="#000" stroke-width="0.3">17</text>
<text x="1040.80" y="1957.10" font-size="19" text-anchor="middle" fill="#fff" stroke="#fff" stroke-width="0.3">17</text>
<text x="964.20" y="1749.80" font-size="30" text-anchor="middle" stroke="#000" stroke-width="0.3">*</text>
<text x="607.50" y="1791.60" font-size="24" text-anchor="middle" stroke="#000" stroke-width="0.3" transform="rotate(-90 607.50 1791.60)" textLength="194.2" lengthAdjust="spacingAndGlyphs">Larval weight gain</text>
<text x="635.20" y="1791.70" font-size="24" text-anchor="middle" stroke="#000" stroke-width="0.3" transform="rotate(-90 635.20 1791.70)" textLength="181.0" lengthAdjust="spacingAndGlyphs">(fold change d<tspan dy="-9" font-size="15">-1</tspan><tspan dy="9">)</tspan></text>
<text x="597.00" y="1621.50" font-size="30" stroke="#000" stroke-width="0.3">h</text>
<text x="743.73" y="1987.84" font-size="19" text-anchor="end" stroke="#000" stroke-width="0.3" transform="rotate(-30 743.73 1987.84)">Buffer</text>
<text x="839.02" y="1985.12" font-size="19" text-anchor="end" stroke="#000" stroke-width="0.3" transform="rotate(-30 839.02 1985.12)">10: <tspan font-style="italic">Priestia megaterium strain1</tspan></text>
<text x="917.63" y="1986.49" font-size="19" text-anchor="end" stroke="#000" stroke-width="0.3" transform="rotate(-30 917.63 1986.49)">7: <tspan font-style="italic">Klebsiella quasipneumoniae</tspan></text>
<text x="1004.83" y="1983.19" font-size="19" text-anchor="end" stroke="#000" stroke-width="0.3" transform="rotate(-30 1004.83 1983.19)">5: <tspan font-style="italic">Chryseobacterium phosphatilyticum</tspan></text>
<text x="1077.42" y="1983.92" font-size="19" text-anchor="end" stroke="#000" stroke-width="0.3" transform="rotate(-30 1077.42 1983.92)">11: <tspan font-style="italic">Priestia megaterium strain2</tspan></text>
</g>
<g>
<rect x="1214.50" y="204.04" width="43.00" height="168.76" fill="#ffffff" stroke="#000" stroke-width="2.1"/>
<rect x="1277.60" y="213.07" width="43.00" height="159.73" fill="#9a9a9a" stroke="#000" stroke-width="2.1"/>
<rect x="1340.70" y="220.75" width="43.00" height="152.05" fill="#eec494" stroke="#000" stroke-width="2.1"/>
<rect x="1403.80" y="222.10" width="43.00" height="150.70" fill="#f4b6fb" stroke="#000" stroke-width="2.1"/>
<rect x="1466.90" y="244.74" width="43.00" height="128.06" fill="#eec494" stroke="#000" stroke-width="2.1"/>
<rect x="1530.00" y="209.03" width="43.00" height="163.77" fill="#eec494" stroke="#000" stroke-width="2.1"/>
<line x1="1236.00" y1="204.04" x2="1236.00" y2="191.91" stroke="#000" stroke-width="2.1"/>
<line x1="1224.20" y1="191.91" x2="1247.80" y2="191.91" stroke="#000" stroke-width="2.3"/>
<line x1="1299.10" y1="213.07" x2="1299.10" y2="204.31" stroke="#000" stroke-width="2.1"/>
<line x1="1287.30" y1="204.31" x2="1310.90" y2="204.31" stroke="#000" stroke-width="2.3"/>
<line x1="1362.20" y1="220.75" x2="1362.20" y2="209.03" stroke="#000" stroke-width="2.1"/>
<line x1="1350.40" y1="209.03" x2="1374.00" y2="209.03" stroke="#000" stroke-width="2.3"/>
<line x1="1425.30" y1="222.10" x2="1425.30" y2="214.69" stroke="#000" stroke-width="2.1"/>
<line x1="1413.50" y1="214.69" x2="1437.10" y2="214.69" stroke="#000" stroke-width="2.3"/>
<line x1="1488.40" y1="244.74" x2="1488.40" y2="235.98" stroke="#000" stroke-width="2.1"/>
<line x1="1476.60" y1="235.98" x2="1500.20" y2="235.98" stroke="#000" stroke-width="2.3"/>
<line x1="1551.50" y1="209.03" x2="1551.50" y2="198.92" stroke="#000" stroke-width="2.1"/>
<line x1="1539.70" y1="198.92" x2="1563.30" y2="198.92" stroke="#000" stroke-width="2.3"/>
<circle cx="1234.4" cy="58.8" r="4.7" fill="none" stroke="#000000" stroke-width="1.9"/>
<circle cx="1239.4" cy="152.4" r="4.7" fill="none" stroke="#000000" stroke-width="1.9"/>
<circle cx="1231.3" cy="180.1" r="4.7" fill="none" stroke="#000000" stroke-width="1.9"/>
<circle cx="1237.3" cy="184.8" r="4.7" fill="none" stroke="#000000" stroke-width="1.9"/>
<circle cx="1228.6" cy="193.9" r="4.7" fill="none" stroke="#000000" stroke-width="1.9"/>
<circle cx="1231.3" cy="195.6" r="4.7" fill="none" stroke="#000000" stroke-width="1.9"/>
<circle cx="1234.0" cy="196.9" r="4.7" fill="none" stroke="#000000" stroke-width="1.9"/>
<circle cx="1239.4" cy="198.9" r="4.7" fill="none" stroke="#000000" stroke-width="1.9"/>
<circle cx="1229.3" cy="211.7" r="4.7" fill="none" stroke="#000000" stroke-width="1.9"/>
<circle cx="1232.0" cy="222.5" r="4.7" fill="none" stroke="#000000" stroke-width="1.9"/>
<circle cx="1240.0" cy="225.2" r="4.7" fill="none" stroke="#000000" stroke-width="1.9"/>
<circle cx="1234.0" cy="229.2" r="4.7" fill="none" stroke="#000000" stroke-width="1.9"/>
<circle cx="1232.6" cy="233.3" r="4.7" fill="none" stroke="#000000" stroke-width="1.9"/>
<circle cx="1236.7" cy="238.7" r="4.7" fill="none" stroke="#000000" stroke-width="1.9"/>
<circle cx="1236.3" cy="248.1" r="4.7" fill="none" stroke="#000000" stroke-width="1.9"/>
<circle cx="1241.4" cy="264.3" r="4.7" fill="none" stroke="#000000" stroke-width="1.9"/>
<circle cx="1302.7" cy="119.8" r="4.7" fill="#dcdcdc" stroke="#555555" stroke-width="1.9"/>
<circle cx="1304.1" cy="181.4" r="4.7" fill="#dcdcdc" stroke="#555555" stroke-width="1.9"/>
<circle cx="1293.9" cy="184.1" r="4.7" fill="#dcdcdc" stroke="#555555" stroke-width="1.9"/>
<circle cx="1296.6" cy="188.1" r="4.7" fill="#dcdcdc" stroke="#555555" stroke-width="1.9"/>
<circle cx="1297.3" cy="194.9" r="4.7" fill="#dcdcdc" stroke="#555555" stroke-width="1.9"/>
<circle cx="1300.0" cy="201.6" r="4.7" fill="#dcdcdc" stroke="#555555" stroke-width="1.9"/>
<circle cx="1304.7" cy="205.0" r="4.7" fill="#dcdcdc" stroke="#555555" stroke-width="1.9"/>
<circle cx="1302.7" cy="218.5" r="4.7" fill="#dcdcdc" stroke="#555555" stroke-width="1.9"/>
<circle cx="1298.0" cy="223.9" r="4.7" fill="#dcdcdc" stroke="#555555" stroke-width="1.9"/>
<circle cx="1302.7" cy="229.2" r="4.7" fill="#dcdcdc" stroke="#555555" stroke-width="1.9"/>
<circle cx="1299.3" cy="234.0" r="4.7" fill="#dcdcdc" stroke="#555555" stroke-width="1.9"/>
<circle cx="1299.3" cy="244.1" r="4.7" fill="#dcdcdc" stroke="#555555" stroke-width="1.9"/>
<circle cx="1297.7" cy="244.7" r="4.7" fill="#dcdcdc" stroke="#555555" stroke-width="1.9"/>
<circle cx="1297.3" cy="277.8" r="4.7" fill="#dcdcdc" stroke="#555555" stroke-width="1.9"/>
<circle cx="1301.4" cy="209.0" r="4.7" fill="#dcdcdc" stroke="#555555" stroke-width="1.9"/>
<circle cx="1299.3" cy="213.1" r="4.7" fill="#dcdcdc" stroke="#555555" stroke-width="1.9"/>
<circle cx="1295.3" cy="186.1" r="4.7" fill="#dcdcdc" stroke="#555555" stroke-width="1.9"/>
<circle cx="1357.3" cy="85.7" r="4.7" fill="#f5e6d6" stroke="#b5621f" stroke-width="1.9"/>
<circle cx="1360.0" cy="193.9" r="4.7" fill="#f5e6d6" stroke="#b5621f" stroke-width="1.9"/>
<circle cx="1364.7" cy="202.3" r="4.7" fill="#f5e6d6" stroke="#b5621f" stroke-width="1.9"/>
<circle cx="1358.6" cy="207.0" r="4.7" fill="#f5e6d6" stroke="#b5621f" stroke-width="1.9"/>
<circle cx="1368.1" cy="209.7" r="4.7" fill="#f5e6d6" stroke="#b5621f" stroke-width="1.9"/>
<circle cx="1359.3" cy="212.4" r="4.7" fill="#f5e6d6" stroke="#b5621f" stroke-width="1.9"/>
<circle cx="1362.0" cy="216.4" r="4.7" fill="#f5e6d6" stroke="#b5621f" stroke-width="1.9"/>
<circle cx="1361.3" cy="227.9" r="4.7" fill="#f5e6d6" stroke="#b5621f" stroke-width="1.9"/>
<circle cx="1362.7" cy="231.3" r="4.7" fill="#f5e6d6" stroke="#b5621f" stroke-width="1.9"/>
<circle cx="1364.0" cy="241.4" r="4.7" fill="#f5e6d6" stroke="#b5621f" stroke-width="1.9"/>
<circle cx="1358.0" cy="244.1" r="4.7" fill="#f5e6d6" stroke="#b5621f" stroke-width="1.9"/>
<circle cx="1362.7" cy="245.4" r="4.7" fill="#f5e6d6" stroke="#b5621f" stroke-width="1.9"/>
<circle cx="1369.4" cy="287.9" r="4.7" fill="#f5e6d6" stroke="#b5621f" stroke-width="1.9"/>
<circle cx="1362.7" cy="304.7" r="4.7" fill="#f5e6d6" stroke="#b5621f" stroke-width="1.9"/>
<circle cx="1364.0" cy="211.7" r="4.7" fill="#f5e6d6" stroke="#b5621f" stroke-width="1.9"/>
<circle cx="1360.0" cy="225.2" r="4.7" fill="#f5e6d6" stroke="#b5621f" stroke-width="1.9"/>
<circle cx="1427.9" cy="153.8" r="4.7" fill="#f3e1f6" stroke="#a52fbf" stroke-width="1.9"/>
<circle cx="1436.9" cy="184.8" r="4.7" fill="#f3e1f6" stroke="#a52fbf" stroke-width="1.9"/>
<circle cx="1430.1" cy="190.2" r="4.7" fill="#f3e1f6" stroke="#a52fbf" stroke-width="1.9"/>
<circle cx="1426.8" cy="205.0" r="4.7" fill="#f3e1f6" stroke="#a52fbf" stroke-width="1.9"/>
<circle cx="1428.1" cy="210.4" r="4.7" fill="#f3e1f6" stroke="#a52fbf" stroke-width="1.9"/>
<circle cx="1429.5" cy="215.8" r="4.7" fill="#f3e1f6" stroke="#a52fbf" stroke-width="1.9"/>
<circle cx="1432.8" cy="220.5" r="4.7" fill="#f3e1f6" stroke="#a52fbf" stroke-width="1.9"/>
<circle cx="1419.4" cy="225.2" r="4.7" fill="#f3e1f6" stroke="#a52fbf" stroke-width="1.9"/>
<circle cx="1425.4" cy="226.5" r="4.7" fill="#f3e1f6" stroke="#a52fbf" stroke-width="1.9"/>
<circle cx="1432.2" cy="229.9" r="4.7" fill="#f3e1f6" stroke="#a52fbf" stroke-width="1.9"/>
<circle cx="1428.1" cy="236.0" r="4.7" fill="#f3e1f6" stroke="#a52fbf" stroke-width="1.9"/>
<circle cx="1417.3" cy="241.4" r="4.7" fill="#f3e1f6" stroke="#a52fbf" stroke-width="1.9"/>
<circle cx="1422.7" cy="242.7" r="4.7" fill="#f3e1f6" stroke="#a52fbf" stroke-width="1.9"/>
<circle cx="1424.8" cy="245.4" r="4.7" fill="#f3e1f6" stroke="#a52fbf" stroke-width="1.9"/>
<circle cx="1429.5" cy="284.5" r="4.7" fill="#f3e1f6" stroke="#a52fbf" stroke-width="1.9"/>
<circle cx="1426.1" cy="233.3" r="4.7" fill="#f3e1f6" stroke="#a52fbf" stroke-width="1.9"/>
<circle cx="1420.7" cy="238.7" r="4.7" fill="#f3e1f6" stroke="#a52fbf" stroke-width="1.9"/>
<circle cx="1488.8" cy="179.4" r="4.7" fill="#f5e6d6" stroke="#b5621f" stroke-width="1.9"/>
<circle cx="1493.5" cy="186.1" r="4.7" fill="#f5e6d6" stroke="#b5621f" stroke-width="1.9"/>
<circle cx="1490.8" cy="196.9" r="4.7" fill="#f5e6d6" stroke="#b5621f" stroke-width="1.9"/>
<circle cx="1490.8" cy="203.0" r="4.7" fill="#f5e6d6" stroke="#b5621f" stroke-width="1.9"/>
<circle cx="1493.9" cy="213.1" r="4.7" fill="#f5e6d6" stroke="#b5621f" stroke-width="1.9"/>
<circle cx="1485.4" cy="234.6" r="4.7" fill="#f5e6d6" stroke="#b5621f" stroke-width="1.9"/>
<circle cx="1486.8" cy="238.0" r="4.7" fill="#f5e6d6" stroke="#b5621f" stroke-width="1.9"/>
<circle cx="1488.1" cy="245.4" r="4.7" fill="#f5e6d6" stroke="#b5621f" stroke-width="1.9"/>
<circle cx="1486.1" cy="253.5" r="4.7" fill="#f5e6d6" stroke="#b5621f" stroke-width="1.9"/>
<circle cx="1489.4" cy="257.5" r="4.7" fill="#f5e6d6" stroke="#b5621f" stroke-width="1.9"/>
<circle cx="1495.5" cy="257.5" r="4.7" fill="#f5e6d6" stroke="#b5621f" stroke-width="1.9"/>
<circle cx="1492.1" cy="259.6" r="4.7" fill="#f5e6d6" stroke="#b5621f" stroke-width="1.9"/>
<circle cx="1488.8" cy="272.4" r="4.7" fill="#f5e6d6" stroke="#b5621f" stroke-width="1.9"/>
<circle cx="1488.1" cy="296.6" r="4.7" fill="#f5e6d6" stroke="#b5621f" stroke-width="1.9"/>
<circle cx="1486.3" cy="305.4" r="4.7" fill="#f5e6d6" stroke="#b5621f" stroke-width="1.9"/>
<circle cx="1485.4" cy="296.6" r="4.7" fill="#f5e6d6" stroke="#b5621f" stroke-width="1.9"/>
<circle cx="1491.5" cy="254.9" r="4.7" fill="#f5e6d6" stroke="#b5621f" stroke-width="1.9"/>
<circle cx="1487.4" cy="249.5" r="4.7" fill="#f5e6d6" stroke="#b5621f" stroke-width="1.9"/>
<circle cx="1547.4" cy="182.1" r="4.7" fill="#f5e6d6" stroke="#b5621f" stroke-width="1.9"/>
<circle cx="1552.1" cy="181.4" r="4.7" fill="#f5e6d6" stroke="#b5621f" stroke-width="1.9"/>
<circle cx="1559.5" cy="188.1" r="4.7" fill="#f5e6d6" stroke="#b5621f" stroke-width="1.9"/>
<circle cx="1555.5" cy="189.5" r="4.7" fill="#f5e6d6" stroke="#b5621f" stroke-width="1.9"/>
<circle cx="1546.7" cy="196.9" r="4.7" fill="#f5e6d6" stroke="#b5621f" stroke-width="1.9"/>
<circle cx="1552.1" cy="205.0" r="4.7" fill="#f5e6d6" stroke="#b5621f" stroke-width="1.9"/>
<circle cx="1558.2" cy="215.5" r="4.7" fill="#f5e6d6" stroke="#b5621f" stroke-width="1.9"/>
<circle cx="1552.1" cy="218.5" r="4.7" fill="#f5e6d6" stroke="#b5621f" stroke-width="1.9"/>
<circle cx="1550.8" cy="223.2" r="4.7" fill="#f5e6d6" stroke="#b5621f" stroke-width="1.9"/>
<circle cx="1549.4" cy="225.2" r="4.7" fill="#f5e6d6" stroke="#b5621f" stroke-width="1.9"/>
<circle cx="1551.4" cy="235.3" r="4.7" fill="#f5e6d6" stroke="#b5621f" stroke-width="1.9"/>
<circle cx="1550.8" cy="242.0" r="4.7" fill="#f5e6d6" stroke="#b5621f" stroke-width="1.9"/>
<circle cx="1550.1" cy="244.1" r="4.7" fill="#f5e6d6" stroke="#b5621f" stroke-width="1.9"/>
<circle cx="1547.4" cy="289.2" r="4.7" fill="#f5e6d6" stroke="#b5621f" stroke-width="1.9"/>
<circle cx="1552.8" cy="89.8" r="4.7" fill="#f5e6d6" stroke="#b5621f" stroke-width="1.9"/>
<circle cx="1554.1" cy="211.7" r="4.7" fill="#f5e6d6" stroke="#b5621f" stroke-width="1.9"/>
<circle cx="1548.7" cy="221.2" r="4.7" fill="#f5e6d6" stroke="#b5621f" stroke-width="1.9"/>
<line x1="1198.90" y1="43.40" x2="1198.90" y2="373.80" stroke="#000" stroke-width="2.1"/>
<line x1="1186.50" y1="372.80" x2="1587.90" y2="372.80" stroke="#000" stroke-width="2.1"/>
<line x1="1187.40" y1="372.80" x2="1198.90" y2="372.80" stroke="#000" stroke-width="2.1"/>
<text x="1187.00" y="381.03" font-size="23.5" text-anchor="end" stroke="#000" stroke-width="0.3">0</text>
<line x1="1187.40" y1="208.60" x2="1198.90" y2="208.60" stroke="#000" stroke-width="2.1"/>
<text x="1187.00" y="216.82" font-size="23.5" text-anchor="end" stroke="#000" stroke-width="0.3">10</text>
<line x1="1187.40" y1="44.40" x2="1198.90" y2="44.40" stroke="#000" stroke-width="2.1"/>
<text x="1187.00" y="52.62" font-size="23.5" text-anchor="end" stroke="#000" stroke-width="0.3">20</text>
<line x1="1236.00" y1="372.80" x2="1236.00" y2="384.80" stroke="#000" stroke-width="2.1"/>
<line x1="1299.10" y1="372.80" x2="1299.10" y2="384.80" stroke="#000" stroke-width="2.1"/>
<line x1="1362.20" y1="372.80" x2="1362.20" y2="384.80" stroke="#000" stroke-width="2.1"/>
<line x1="1425.30" y1="372.80" x2="1425.30" y2="384.80" stroke="#000" stroke-width="2.1"/>
<line x1="1488.40" y1="372.80" x2="1488.40" y2="384.80" stroke="#000" stroke-width="2.1"/>
<line x1="1551.50" y1="372.80" x2="1551.50" y2="384.80" stroke="#000" stroke-width="2.1"/>
<text x="1236.00" y="368.00" font-size="19" text-anchor="middle" stroke="#000" stroke-width="0.3">16</text>
<text x="1299.10" y="368.00" font-size="19" text-anchor="middle" fill="#fff" stroke="#fff" stroke-width="0.3">17</text>
<text x="1362.20" y="368.00" font-size="19" text-anchor="middle" fill="#fff" stroke="#fff" stroke-width="0.3">16</text>
<text x="1425.30" y="368.00" font-size="19" text-anchor="middle" fill="#fff" stroke="#fff" stroke-width="0.3">17</text>
<text x="1488.40" y="368.00" font-size="19" text-anchor="middle" fill="#fff" stroke="#fff" stroke-width="0.3">18</text>
<text x="1551.50" y="368.00" font-size="19" text-anchor="middle" fill="#fff" stroke="#fff" stroke-width="0.3">17</text>
<text x="1488.40" y="174.10" font-size="30" text-anchor="middle" stroke="#000" stroke-width="0.3">**</text>
<text x="1144.50" y="218.60" font-size="24.8" text-anchor="middle" stroke="#000" stroke-width="0.3" transform="rotate(-90 1144.50 218.60)" textLength="209.0" lengthAdjust="spacingAndGlyphs">Damage area (cm<tspan dy="-9" font-size="15">2</tspan><tspan dy="9">)</tspan></text>
<text x="1128.30" y="41.10" font-size="30" stroke="#000" stroke-width="0.3">i</text>
<text x="1250.53" y="399.54" font-size="19" text-anchor="end" stroke="#000" stroke-width="0.3" transform="rotate(-30 1250.53 399.54)">Buffer</text>
<text x="1322.93" y="398.29" font-size="19" text-anchor="end" stroke="#000" stroke-width="0.3" textLength="204.0" lengthAdjust="spacingAndGlyphs" transform="rotate(-30 1322.93 398.29)">8: <tspan font-style="italic">Lysinibacillus fusiformis</tspan></text>
<text x="1381.03" y="399.29" font-size="19" text-anchor="end" stroke="#000" stroke-width="0.3" transform="rotate(-30 1381.03 399.29)">2: <tspan font-style="italic">Bacillus mobilis</tspan></text>
<text x="1455.12" y="395.52" font-size="19" text-anchor="end" stroke="#000" stroke-width="0.3" transform="rotate(-30 1455.12 395.52)">16: <tspan font-style="italic">Pseudomonas taiwanensis strain2</tspan></text>
<text x="1522.92" y="396.12" font-size="19" text-anchor="end" stroke="#000" stroke-width="0.3" transform="rotate(-30 1522.92 396.12)">3: <tspan font-style="italic">Bacillus pacificus strain1</tspan></text>
<text x="1577.23" y="401.39" font-size="19" text-anchor="end" stroke="#000" stroke-width="0.3" transform="rotate(-30 1577.23 401.39)">1: <tspan font-style="italic">Bacillus cereus</tspan></text>
</g>
<g>
<rect x="1214.10" y="753.10" width="43.00" height="165.70" fill="#ffffff" stroke="#000" stroke-width="2.1"/>
<rect x="1277.20" y="804.31" width="43.00" height="114.49" fill="#50da78" stroke="#000" stroke-width="2.1"/>
<rect x="1340.30" y="824.53" width="43.00" height="94.27" fill="#eec494" stroke="#000" stroke-width="2.1"/>
<rect x="1403.40" y="809.97" width="43.00" height="108.83" fill="#aacdf2" stroke="#000" stroke-width="2.1"/>
<rect x="1466.50" y="777.36" width="43.00" height="141.44" fill="#f4b6fb" stroke="#000" stroke-width="2.1"/>
<rect x="1529.60" y="807.01" width="43.00" height="111.79" fill="#50da78" stroke="#000" stroke-width="2.1"/>
<line x1="1235.60" y1="753.10" x2="1235.60" y2="745.96" stroke="#000" stroke-width="2.1"/>
<line x1="1223.80" y1="745.96" x2="1247.40" y2="745.96" stroke="#000" stroke-width="2.3"/>
<line x1="1298.70" y1="804.31" x2="1298.70" y2="791.51" stroke="#000" stroke-width="2.1"/>
<line x1="1286.90" y1="791.51" x2="1310.50" y2="791.51" stroke="#000" stroke-width="2.3"/>
<line x1="1361.80" y1="824.53" x2="1361.80" y2="813.75" stroke="#000" stroke-width="2.1"/>
<line x1="1350.00" y1="813.75" x2="1373.60" y2="813.75" stroke="#000" stroke-width="2.3"/>
<line x1="1424.90" y1="809.97" x2="1424.90" y2="794.88" stroke="#000" stroke-width="2.1"/>
<line x1="1413.10" y1="794.88" x2="1436.70" y2="794.88" stroke="#000" stroke-width="2.3"/>
<line x1="1488.00" y1="777.36" x2="1488.00" y2="766.98" stroke="#000" stroke-width="2.1"/>
<line x1="1476.20" y1="766.98" x2="1499.80" y2="766.98" stroke="#000" stroke-width="2.3"/>
<line x1="1551.10" y1="807.01" x2="1551.10" y2="794.88" stroke="#000" stroke-width="2.1"/>
<line x1="1539.30" y1="794.88" x2="1562.90" y2="794.88" stroke="#000" stroke-width="2.3"/>
<circle cx="1239.0" cy="696.5" r="4.7" fill="none" stroke="#000000" stroke-width="1.9"/>
<circle cx="1227.2" cy="723.5" r="4.7" fill="none" stroke="#000000" stroke-width="1.9"/>
<circle cx="1230.6" cy="723.5" r="4.7" fill="none" stroke="#000000" stroke-width="1.9"/>
<circle cx="1236.3" cy="726.5" r="4.7" fill="none" stroke="#000000" stroke-width="1.9"/>
<circle cx="1239.4" cy="738.3" r="4.7" fill="none" stroke="#000000" stroke-width="1.9"/>
<circle cx="1242.1" cy="745.7" r="4.7" fill="none" stroke="#000000" stroke-width="1.9"/>
<circle cx="1236.0" cy="750.4" r="4.7" fill="none" stroke="#000000" stroke-width="1.9"/>
<circle cx="1237.3" cy="756.5" r="4.7" fill="none" stroke="#000000" stroke-width="1.9"/>
<circle cx="1234.0" cy="760.5" r="4.7" fill="none" stroke="#000000" stroke-width="1.9"/>
<circle cx="1232.6" cy="763.9" r="4.7" fill="none" stroke="#000000" stroke-width="1.9"/>
<circle cx="1231.3" cy="766.2" r="4.7" fill="none" stroke="#000000" stroke-width="1.9"/>
<circle cx="1234.0" cy="763.2" r="4.7" fill="none" stroke="#000000" stroke-width="1.9"/>
<circle cx="1230.6" cy="779.4" r="4.7" fill="none" stroke="#000000" stroke-width="1.9"/>
<circle cx="1238.7" cy="780.1" r="4.7" fill="none" stroke="#000000" stroke-width="1.9"/>
<circle cx="1228.6" cy="779.4" r="4.7" fill="none" stroke="#000000" stroke-width="1.9"/>
<circle cx="1234.0" cy="832.2" r="4.7" fill="none" stroke="#000000" stroke-width="1.9"/>
<circle cx="1238.7" cy="752.4" r="4.7" fill="none" stroke="#000000" stroke-width="1.9"/>
<circle cx="1297.7" cy="724.8" r="4.7" fill="#bff3d4" stroke="#2b8a4e" stroke-width="1.9"/>
<circle cx="1297.7" cy="733.6" r="4.7" fill="#bff3d4" stroke="#2b8a4e" stroke-width="1.9"/>
<circle cx="1302.7" cy="762.1" r="4.7" fill="#bff3d4" stroke="#2b8a4e" stroke-width="1.9"/>
<circle cx="1304.7" cy="768.6" r="4.7" fill="#bff3d4" stroke="#2b8a4e" stroke-width="1.9"/>
<circle cx="1300.0" cy="770.6" r="4.7" fill="#bff3d4" stroke="#2b8a4e" stroke-width="1.9"/>
<circle cx="1304.1" cy="788.8" r="4.7" fill="#bff3d4" stroke="#2b8a4e" stroke-width="1.9"/>
<circle cx="1304.7" cy="803.6" r="4.7" fill="#bff3d4" stroke="#2b8a4e" stroke-width="1.9"/>
<circle cx="1294.6" cy="817.1" r="4.7" fill="#bff3d4" stroke="#2b8a4e" stroke-width="1.9"/>
<circle cx="1296.6" cy="825.2" r="4.7" fill="#bff3d4" stroke="#2b8a4e" stroke-width="1.9"/>
<circle cx="1300.0" cy="832.6" r="4.7" fill="#bff3d4" stroke="#2b8a4e" stroke-width="1.9"/>
<circle cx="1298.0" cy="846.8" r="4.7" fill="#bff3d4" stroke="#2b8a4e" stroke-width="1.9"/>
<circle cx="1298.0" cy="858.2" r="4.7" fill="#bff3d4" stroke="#2b8a4e" stroke-width="1.9"/>
<circle cx="1297.7" cy="862.9" r="4.7" fill="#bff3d4" stroke="#2b8a4e" stroke-width="1.9"/>
<circle cx="1298.0" cy="865.6" r="4.7" fill="#bff3d4" stroke="#2b8a4e" stroke-width="1.9"/>
<circle cx="1364.0" cy="746.8" r="4.7" fill="#f5e6d6" stroke="#b5621f" stroke-width="1.9"/>
<circle cx="1362.7" cy="749.7" r="4.7" fill="#f5e6d6" stroke="#b5621f" stroke-width="1.9"/>
<circle cx="1368.1" cy="778.7" r="4.7" fill="#f5e6d6" stroke="#b5621f" stroke-width="1.9"/>
<circle cx="1362.7" cy="787.5" r="4.7" fill="#f5e6d6" stroke="#b5621f" stroke-width="1.9"/>
<circle cx="1358.6" cy="790.8" r="4.7" fill="#f5e6d6" stroke="#b5621f" stroke-width="1.9"/>
<circle cx="1356.6" cy="811.7" r="4.7" fill="#f5e6d6" stroke="#b5621f" stroke-width="1.9"/>
<circle cx="1360.0" cy="814.4" r="4.7" fill="#f5e6d6" stroke="#b5621f" stroke-width="1.9"/>
<circle cx="1362.0" cy="816.4" r="4.7" fill="#f5e6d6" stroke="#b5621f" stroke-width="1.9"/>
<circle cx="1366.1" cy="823.2" r="4.7" fill="#f5e6d6" stroke="#b5621f" stroke-width="1.9"/>
<circle cx="1358.0" cy="829.2" r="4.7" fill="#f5e6d6" stroke="#b5621f" stroke-width="1.9"/>
<circle cx="1362.0" cy="840.0" r="4.7" fill="#f5e6d6" stroke="#b5621f" stroke-width="1.9"/>
<circle cx="1362.4" cy="855.5" r="4.7" fill="#f5e6d6" stroke="#b5621f" stroke-width="1.9"/>
<circle cx="1369.4" cy="866.3" r="4.7" fill="#f5e6d6" stroke="#b5621f" stroke-width="1.9"/>
<circle cx="1361.3" cy="868.3" r="4.7" fill="#f5e6d6" stroke="#b5621f" stroke-width="1.9"/>
<circle cx="1360.7" cy="876.4" r="4.7" fill="#f5e6d6" stroke="#b5621f" stroke-width="1.9"/>
<circle cx="1364.7" cy="877.1" r="4.7" fill="#f5e6d6" stroke="#b5621f" stroke-width="1.9"/>
<circle cx="1360.0" cy="889.2" r="4.7" fill="#f5e6d6" stroke="#b5621f" stroke-width="1.9"/>
<circle cx="1431.5" cy="729.5" r="4.7" fill="#d9e6f7" stroke="#3c64b4" stroke-width="1.9"/>
<circle cx="1432.8" cy="732.2" r="4.7" fill="#d9e6f7" stroke="#3c64b4" stroke-width="1.9"/>
<circle cx="1418.7" cy="755.8" r="4.7" fill="#d9e6f7" stroke="#3c64b4" stroke-width="1.9"/>
<circle cx="1436.2" cy="757.1" r="4.7" fill="#d9e6f7" stroke="#3c64b4" stroke-width="1.9"/>
<circle cx="1426.1" cy="772.0" r="4.7" fill="#d9e6f7" stroke="#3c64b4" stroke-width="1.9"/>
<circle cx="1428.8" cy="780.1" r="4.7" fill="#d9e6f7" stroke="#3c64b4" stroke-width="1.9"/>
<circle cx="1428.4" cy="795.3" r="4.7" fill="#d9e6f7" stroke="#3c64b4" stroke-width="1.9"/>
<circle cx="1423.8" cy="803.0" r="4.7" fill="#d9e6f7" stroke="#3c64b4" stroke-width="1.9"/>
<circle cx="1426.8" cy="818.5" r="4.7" fill="#d9e6f7" stroke="#3c64b4" stroke-width="1.9"/>
<circle cx="1427.5" cy="831.9" r="4.7" fill="#d9e6f7" stroke="#3c64b4" stroke-width="1.9"/>
<circle cx="1427.9" cy="834.6" r="4.7" fill="#d9e6f7" stroke="#3c64b4" stroke-width="1.9"/>
<circle cx="1424.1" cy="854.2" r="4.7" fill="#d9e6f7" stroke="#3c64b4" stroke-width="1.9"/>
<circle cx="1424.1" cy="881.1" r="4.7" fill="#d9e6f7" stroke="#3c64b4" stroke-width="1.9"/>
<circle cx="1426.8" cy="894.6" r="4.7" fill="#d9e6f7" stroke="#3c64b4" stroke-width="1.9"/>
<circle cx="1417.3" cy="903.4" r="4.7" fill="#d9e6f7" stroke="#3c64b4" stroke-width="1.9"/>
<circle cx="1485.4" cy="670.5" r="4.7" fill="#f3e1f6" stroke="#a52fbf" stroke-width="1.9"/>
<circle cx="1491.7" cy="726.1" r="4.7" fill="#f3e1f6" stroke="#a52fbf" stroke-width="1.9"/>
<circle cx="1489.9" cy="734.2" r="4.7" fill="#f3e1f6" stroke="#a52fbf" stroke-width="1.9"/>
<circle cx="1488.1" cy="742.3" r="4.7" fill="#f3e1f6" stroke="#a52fbf" stroke-width="1.9"/>
<circle cx="1488.1" cy="753.1" r="4.7" fill="#f3e1f6" stroke="#a52fbf" stroke-width="1.9"/>
<circle cx="1486.1" cy="757.1" r="4.7" fill="#f3e1f6" stroke="#a52fbf" stroke-width="1.9"/>
<circle cx="1492.8" cy="763.9" r="4.7" fill="#f3e1f6" stroke="#a52fbf" stroke-width="1.9"/>
<circle cx="1492.8" cy="772.0" r="4.7" fill="#f3e1f6" stroke="#a52fbf" stroke-width="1.9"/>
<circle cx="1485.4" cy="776.0" r="4.7" fill="#f3e1f6" stroke="#a52fbf" stroke-width="1.9"/>
<circle cx="1485.4" cy="779.4" r="4.7" fill="#f3e1f6" stroke="#a52fbf" stroke-width="1.9"/>
<circle cx="1491.7" cy="787.7" r="4.7" fill="#f3e1f6" stroke="#a52fbf" stroke-width="1.9"/>
<circle cx="1485.0" cy="800.3" r="4.7" fill="#f3e1f6" stroke="#a52fbf" stroke-width="1.9"/>
<circle cx="1485.4" cy="809.0" r="4.7" fill="#f3e1f6" stroke="#a52fbf" stroke-width="1.9"/>
<circle cx="1489.4" cy="807.0" r="4.7" fill="#f3e1f6" stroke="#a52fbf" stroke-width="1.9"/>
<circle cx="1492.8" cy="813.1" r="4.7" fill="#f3e1f6" stroke="#a52fbf" stroke-width="1.9"/>
<circle cx="1488.1" cy="817.1" r="4.7" fill="#f3e1f6" stroke="#a52fbf" stroke-width="1.9"/>
<circle cx="1486.1" cy="830.6" r="4.7" fill="#f3e1f6" stroke="#a52fbf" stroke-width="1.9"/>
<circle cx="1492.8" cy="850.5" r="4.7" fill="#f3e1f6" stroke="#a52fbf" stroke-width="1.9"/>
<circle cx="1546.7" cy="747.0" r="4.7" fill="#bff3d4" stroke="#2b8a4e" stroke-width="1.9"/>
<circle cx="1551.4" cy="749.1" r="4.7" fill="#bff3d4" stroke="#2b8a4e" stroke-width="1.9"/>
<circle cx="1550.8" cy="754.4" r="4.7" fill="#bff3d4" stroke="#2b8a4e" stroke-width="1.9"/>
<circle cx="1552.1" cy="764.6" r="4.7" fill="#bff3d4" stroke="#2b8a4e" stroke-width="1.9"/>
<circle cx="1549.4" cy="767.3" r="4.7" fill="#bff3d4" stroke="#2b8a4e" stroke-width="1.9"/>
<circle cx="1558.9" cy="770.6" r="4.7" fill="#bff3d4" stroke="#2b8a4e" stroke-width="1.9"/>
<circle cx="1552.8" cy="772.6" r="4.7" fill="#bff3d4" stroke="#2b8a4e" stroke-width="1.9"/>
<circle cx="1558.9" cy="776.7" r="4.7" fill="#bff3d4" stroke="#2b8a4e" stroke-width="1.9"/>
<circle cx="1554.8" cy="786.8" r="4.7" fill="#bff3d4" stroke="#2b8a4e" stroke-width="1.9"/>
<circle cx="1547.4" cy="790.2" r="4.7" fill="#bff3d4" stroke="#2b8a4e" stroke-width="1.9"/>
<circle cx="1549.4" cy="820.5" r="4.7" fill="#bff3d4" stroke="#2b8a4e" stroke-width="1.9"/>
<circle cx="1551.4" cy="829.2" r="4.7" fill="#bff3d4" stroke="#2b8a4e" stroke-width="1.9"/>
<circle cx="1547.4" cy="834.0" r="4.7" fill="#bff3d4" stroke="#2b8a4e" stroke-width="1.9"/>
<circle cx="1552.1" cy="842.7" r="4.7" fill="#bff3d4" stroke="#2b8a4e" stroke-width="1.9"/>
<circle cx="1552.1" cy="846.1" r="4.7" fill="#bff3d4" stroke="#2b8a4e" stroke-width="1.9"/>
<circle cx="1552.1" cy="887.2" r="4.7" fill="#bff3d4" stroke="#2b8a4e" stroke-width="1.9"/>
<circle cx="1557.5" cy="887.9" r="4.7" fill="#bff3d4" stroke="#2b8a4e" stroke-width="1.9"/>
<circle cx="1550.1" cy="893.9" r="4.7" fill="#bff3d4" stroke="#2b8a4e" stroke-width="1.9"/>
<line x1="1198.50" y1="590.00" x2="1198.50" y2="919.80" stroke="#000" stroke-width="2.1"/>
<line x1="1186.10" y1="918.80" x2="1587.50" y2="918.80" stroke="#000" stroke-width="2.1"/>
<line x1="1187.00" y1="918.80" x2="1198.50" y2="918.80" stroke="#000" stroke-width="2.1"/>
<text x="1176.90" y="927.02" font-size="23.5" text-anchor="end" stroke="#000" stroke-width="0.3">0</text>
<line x1="1187.00" y1="754.90" x2="1198.50" y2="754.90" stroke="#000" stroke-width="2.1"/>
<text x="1176.90" y="763.12" font-size="23.5" text-anchor="end" stroke="#000" stroke-width="0.3">12</text>
<line x1="1187.00" y1="591.00" x2="1198.50" y2="591.00" stroke="#000" stroke-width="2.1"/>
<text x="1176.90" y="599.23" font-size="23.5" text-anchor="end" stroke="#000" stroke-width="0.3">24</text>
<line x1="1235.60" y1="918.80" x2="1235.60" y2="930.80" stroke="#000" stroke-width="2.1"/>
<line x1="1298.70" y1="918.80" x2="1298.70" y2="930.80" stroke="#000" stroke-width="2.1"/>
<line x1="1361.80" y1="918.80" x2="1361.80" y2="930.80" stroke="#000" stroke-width="2.1"/>
<line x1="1424.90" y1="918.80" x2="1424.90" y2="930.80" stroke="#000" stroke-width="2.1"/>
<line x1="1488.00" y1="918.80" x2="1488.00" y2="930.80" stroke="#000" stroke-width="2.1"/>
<line x1="1551.10" y1="918.80" x2="1551.10" y2="930.80" stroke="#000" stroke-width="2.1"/>
<text x="1235.60" y="914.00" font-size="19" text-anchor="middle" stroke="#000" stroke-width="0.3">17</text>
<text x="1298.70" y="914.00" font-size="19" text-anchor="middle" fill="#fff" stroke="#fff" stroke-width="0.3">14</text>
<text x="1361.80" y="914.00" font-size="19" text-anchor="middle" fill="#fff" stroke="#fff" stroke-width="0.3">17</text>
<text x="1424.90" y="914.00" font-size="19" text-anchor="middle" fill="#fff" stroke="#fff" stroke-width="0.3">15</text>
<text x="1488.00" y="914.00" font-size="19" text-anchor="middle" fill="#fff" stroke="#fff" stroke-width="0.3">18</text>
<text x="1551.10" y="914.00" font-size="19" text-anchor="middle" fill="#fff" stroke="#fff" stroke-width="0.3">18</text>
<text x="1298.70" y="715.50" font-size="30" text-anchor="middle" stroke="#000" stroke-width="0.3">**</text>
<text x="1361.80" y="749.20" font-size="30" text-anchor="middle" stroke="#000" stroke-width="0.3">***</text>
<text x="1424.90" y="720.20" font-size="30" text-anchor="middle" stroke="#000" stroke-width="0.3">**</text>
<text x="1551.10" y="726.20" font-size="30" text-anchor="middle" stroke="#000" stroke-width="0.3">***</text>
<text x="1145.30" y="766.40" font-size="24.8" text-anchor="middle" stroke="#000" stroke-width="0.3" transform="rotate(-90 1145.30 766.40)" textLength="209.0" lengthAdjust="spacingAndGlyphs">Damage area (cm<tspan dy="-9" font-size="15">2</tspan><tspan dy="9">)</tspan></text>
<text x="1128.50" y="587.00" font-size="30" stroke="#000" stroke-width="0.3">j</text>
<text x="1251.63" y="948.64" font-size="19" text-anchor="end" stroke="#000" stroke-width="0.3" transform="rotate(-30 1251.63 948.64)">Buffer</text>
<text x="1320.12" y="946.82" font-size="19" text-anchor="end" stroke="#000" stroke-width="0.3" transform="rotate(-30 1320.12 946.82)">12: <tspan font-style="italic">Priestia aryabhattai</tspan></text>
<text x="1384.82" y="945.42" font-size="19" text-anchor="end" stroke="#000" stroke-width="0.3" transform="rotate(-30 1384.82 945.42)">4: <tspan font-style="italic">Bacillus pacificus strain2</tspan></text>
<text x="1460.02" y="947.22" font-size="19" text-anchor="end" stroke="#000" stroke-width="0.3" transform="rotate(-30 1460.02 947.22)">17: <tspan font-style="italic">Rossellomorea marisflavi</tspan></text>
<text x="1528.12" y="940.92" font-size="19" text-anchor="end" stroke="#000" stroke-width="0.3" transform="rotate(-30 1528.12 940.92)">15: <tspan font-style="italic">Pseudomonas taiwanensis strain1</tspan></text>
<text x="1582.13" y="950.09" font-size="19" text-anchor="end" stroke="#000" stroke-width="0.3" transform="rotate(-30 1582.13 950.09)">13: <tspan font-style="italic">Priestia koreensis</tspan></text>
</g>
<g>
<rect x="1213.70" y="1306.01" width="45.40" height="151.09" fill="#ffffff" stroke="#000" stroke-width="2.1"/>
<rect x="1290.30" y="1325.55" width="45.40" height="131.55" fill="#58b2f8" stroke="#000" stroke-width="2.1"/>
<rect x="1366.90" y="1307.36" width="45.40" height="149.74" fill="#bdebec" stroke="#000" stroke-width="2.1"/>
<rect x="1443.50" y="1321.51" width="45.40" height="135.59" fill="#aeb98f" stroke="#000" stroke-width="2.1"/>
<rect x="1520.10" y="1301.02" width="45.40" height="156.08" fill="#ef8123" stroke="#000" stroke-width="2.1"/>
<line x1="1236.40" y1="1306.01" x2="1236.40" y2="1301.97" stroke="#000" stroke-width="2.1"/>
<line x1="1224.60" y1="1301.97" x2="1248.20" y2="1301.97" stroke="#000" stroke-width="2.3"/>
<line x1="1313.00" y1="1325.55" x2="1313.00" y2="1311.40" stroke="#000" stroke-width="2.1"/>
<line x1="1301.20" y1="1311.40" x2="1324.80" y2="1311.40" stroke="#000" stroke-width="2.3"/>
<line x1="1389.60" y1="1307.36" x2="1389.60" y2="1292.53" stroke="#000" stroke-width="2.1"/>
<line x1="1377.80" y1="1292.53" x2="1401.40" y2="1292.53" stroke="#000" stroke-width="2.3"/>
<line x1="1466.20" y1="1321.51" x2="1466.20" y2="1317.47" stroke="#000" stroke-width="2.1"/>
<line x1="1454.40" y1="1317.47" x2="1478.00" y2="1317.47" stroke="#000" stroke-width="2.3"/>
<line x1="1542.80" y1="1301.02" x2="1542.80" y2="1287.14" stroke="#000" stroke-width="2.1"/>
<line x1="1531.00" y1="1287.14" x2="1554.60" y2="1287.14" stroke="#000" stroke-width="2.3"/>
<circle cx="1237.3" cy="1271.0" r="4.7" fill="none" stroke="#000000" stroke-width="1.9"/>
<circle cx="1237.3" cy="1280.4" r="4.7" fill="none" stroke="#000000" stroke-width="1.9"/>
<circle cx="1240.0" cy="1291.6" r="4.7" fill="none" stroke="#000000" stroke-width="1.9"/>
<circle cx="1232.0" cy="1294.6" r="4.7" fill="none" stroke="#000000" stroke-width="1.9"/>
<circle cx="1227.2" cy="1298.3" r="4.7" fill="none" stroke="#000000" stroke-width="1.9"/>
<circle cx="1229.9" cy="1299.9" r="4.7" fill="none" stroke="#000000" stroke-width="1.9"/>
<circle cx="1232.0" cy="1312.7" r="4.7" fill="none" stroke="#000000" stroke-width="1.9"/>
<circle cx="1236.0" cy="1314.1" r="4.7" fill="none" stroke="#000000" stroke-width="1.9"/>
<circle cx="1240.0" cy="1315.4" r="4.7" fill="none" stroke="#000000" stroke-width="1.9"/>
<circle cx="1229.3" cy="1317.5" r="4.7" fill="none" stroke="#000000" stroke-width="1.9"/>
<circle cx="1234.0" cy="1320.2" r="4.7" fill="none" stroke="#000000" stroke-width="1.9"/>
<circle cx="1232.0" cy="1321.5" r="4.7" fill="none" stroke="#000000" stroke-width="1.9"/>
<circle cx="1238.7" cy="1318.8" r="4.7" fill="none" stroke="#000000" stroke-width="1.9"/>
<circle cx="1240.7" cy="1326.2" r="4.7" fill="none" stroke="#000000" stroke-width="1.9"/>
<circle cx="1243.4" cy="1333.0" r="4.7" fill="none" stroke="#000000" stroke-width="1.9"/>
<circle cx="1227.9" cy="1301.3" r="4.7" fill="none" stroke="#000000" stroke-width="1.9"/>
<circle cx="1236.0" cy="1309.4" r="4.7" fill="none" stroke="#000000" stroke-width="1.9"/>
<circle cx="1233.3" cy="1316.1" r="4.7" fill="none" stroke="#000000" stroke-width="1.9"/>
<circle cx="1316.2" cy="1230.1" r="4.7" fill="#a9c2e4" stroke="#3a64ae" stroke-width="1.9"/>
<circle cx="1311.5" cy="1239.3" r="4.7" fill="#a9c2e4" stroke="#3a64ae" stroke-width="1.9"/>
<circle cx="1317.5" cy="1255.7" r="4.7" fill="#a9c2e4" stroke="#3a64ae" stroke-width="1.9"/>
<circle cx="1318.9" cy="1267.6" r="4.7" fill="#a9c2e4" stroke="#3a64ae" stroke-width="1.9"/>
<circle cx="1311.7" cy="1282.4" r="4.7" fill="#a9c2e4" stroke="#3a64ae" stroke-width="1.9"/>
<circle cx="1311.5" cy="1289.2" r="4.7" fill="#a9c2e4" stroke="#3a64ae" stroke-width="1.9"/>
<circle cx="1313.5" cy="1307.8" r="4.7" fill="#a9c2e4" stroke="#3a64ae" stroke-width="1.9"/>
<circle cx="1307.4" cy="1312.7" r="4.7" fill="#a9c2e4" stroke="#3a64ae" stroke-width="1.9"/>
<circle cx="1320.6" cy="1317.5" r="4.7" fill="#a9c2e4" stroke="#3a64ae" stroke-width="1.9"/>
<circle cx="1307.7" cy="1364.9" r="4.7" fill="#a9c2e4" stroke="#3a64ae" stroke-width="1.9"/>
<circle cx="1316.9" cy="1375.4" r="4.7" fill="#a9c2e4" stroke="#3a64ae" stroke-width="1.9"/>
<circle cx="1313.5" cy="1374.7" r="4.7" fill="#a9c2e4" stroke="#3a64ae" stroke-width="1.9"/>
<circle cx="1311.5" cy="1383.5" r="4.7" fill="#a9c2e4" stroke="#3a64ae" stroke-width="1.9"/>
<circle cx="1311.5" cy="1387.5" r="4.7" fill="#a9c2e4" stroke="#3a64ae" stroke-width="1.9"/>
<circle cx="1309.4" cy="1390.2" r="4.7" fill="#a9c2e4" stroke="#3a64ae" stroke-width="1.9"/>
<circle cx="1312.8" cy="1379.5" r="4.7" fill="#a9c2e4" stroke="#3a64ae" stroke-width="1.9"/>
<circle cx="1310.8" cy="1368.7" r="4.7" fill="#a9c2e4" stroke="#3a64ae" stroke-width="1.9"/>
<circle cx="1387.6" cy="1198.6" r="4.7" fill="#dcf4f4" stroke="#55bec0" stroke-width="1.9"/>
<circle cx="1384.9" cy="1217.5" r="4.7" fill="#dcf4f4" stroke="#55bec0" stroke-width="1.9"/>
<circle cx="1388.3" cy="1218.4" r="4.7" fill="#dcf4f4" stroke="#55bec0" stroke-width="1.9"/>
<circle cx="1403.8" cy="1248.7" r="4.7" fill="#dcf4f4" stroke="#55bec0" stroke-width="1.9"/>
<circle cx="1391.7" cy="1265.6" r="4.7" fill="#dcf4f4" stroke="#55bec0" stroke-width="1.9"/>
<circle cx="1386.3" cy="1278.4" r="4.7" fill="#dcf4f4" stroke="#55bec0" stroke-width="1.9"/>
<circle cx="1390.3" cy="1277.0" r="4.7" fill="#dcf4f4" stroke="#55bec0" stroke-width="1.9"/>
<circle cx="1394.4" cy="1297.9" r="4.7" fill="#dcf4f4" stroke="#55bec0" stroke-width="1.9"/>
<circle cx="1398.4" cy="1297.9" r="4.7" fill="#dcf4f4" stroke="#55bec0" stroke-width="1.9"/>
<circle cx="1393.0" cy="1329.6" r="4.7" fill="#dcf4f4" stroke="#55bec0" stroke-width="1.9"/>
<circle cx="1399.1" cy="1337.0" r="4.7" fill="#dcf4f4" stroke="#55bec0" stroke-width="1.9"/>
<circle cx="1391.7" cy="1344.7" r="4.7" fill="#dcf4f4" stroke="#55bec0" stroke-width="1.9"/>
<circle cx="1388.3" cy="1353.2" r="4.7" fill="#dcf4f4" stroke="#55bec0" stroke-width="1.9"/>
<circle cx="1387.6" cy="1360.6" r="4.7" fill="#dcf4f4" stroke="#55bec0" stroke-width="1.9"/>
<circle cx="1393.7" cy="1361.3" r="4.7" fill="#dcf4f4" stroke="#55bec0" stroke-width="1.9"/>
<circle cx="1389.0" cy="1390.2" r="4.7" fill="#dcf4f4" stroke="#55bec0" stroke-width="1.9"/>
<circle cx="1391.0" cy="1399.7" r="4.7" fill="#dcf4f4" stroke="#55bec0" stroke-width="1.9"/>
<circle cx="1396.4" cy="1298.6" r="4.7" fill="#dcf4f4" stroke="#55bec0" stroke-width="1.9"/>
<circle cx="1473.1" cy="1298.6" r="4.7" fill="#e6eadb" stroke="#667741" stroke-width="1.9"/>
<circle cx="1476.5" cy="1301.3" r="4.7" fill="#e6eadb" stroke="#667741" stroke-width="1.9"/>
<circle cx="1472.4" cy="1303.3" r="4.7" fill="#e6eadb" stroke="#667741" stroke-width="1.9"/>
<circle cx="1469.1" cy="1311.4" r="4.7" fill="#e6eadb" stroke="#667741" stroke-width="1.9"/>
<circle cx="1458.9" cy="1309.1" r="4.7" fill="#e6eadb" stroke="#667741" stroke-width="1.9"/>
<circle cx="1457.6" cy="1318.8" r="4.7" fill="#e6eadb" stroke="#667741" stroke-width="1.9"/>
<circle cx="1464.3" cy="1320.2" r="4.7" fill="#e6eadb" stroke="#667741" stroke-width="1.9"/>
<circle cx="1472.4" cy="1326.2" r="4.7" fill="#e6eadb" stroke="#667741" stroke-width="1.9"/>
<circle cx="1464.3" cy="1329.6" r="4.7" fill="#e6eadb" stroke="#667741" stroke-width="1.9"/>
<circle cx="1474.4" cy="1335.0" r="4.7" fill="#e6eadb" stroke="#667741" stroke-width="1.9"/>
<circle cx="1469.7" cy="1348.2" r="4.7" fill="#e6eadb" stroke="#667741" stroke-width="1.9"/>
<circle cx="1466.0" cy="1359.5" r="4.7" fill="#e6eadb" stroke="#667741" stroke-width="1.9"/>
<circle cx="1469.7" cy="1314.8" r="4.7" fill="#e6eadb" stroke="#667741" stroke-width="1.9"/>
<circle cx="1467.0" cy="1322.9" r="4.7" fill="#e6eadb" stroke="#667741" stroke-width="1.9"/>
<circle cx="1475.1" cy="1316.1" r="4.7" fill="#e6eadb" stroke="#667741" stroke-width="1.9"/>
<circle cx="1461.6" cy="1317.5" r="4.7" fill="#e6eadb" stroke="#667741" stroke-width="1.9"/>
<circle cx="1471.8" cy="1307.4" r="4.7" fill="#e6eadb" stroke="#667741" stroke-width="1.9"/>
<circle cx="1468.4" cy="1326.9" r="4.7" fill="#e6eadb" stroke="#667741" stroke-width="1.9"/>
<circle cx="1547.9" cy="1207.0" r="4.7" fill="#f2b48e" stroke="#c0622b" stroke-width="1.9"/>
<circle cx="1548.6" cy="1210.3" r="4.7" fill="#f2b48e" stroke="#c0622b" stroke-width="1.9"/>
<circle cx="1539.8" cy="1233.6" r="4.7" fill="#f2b48e" stroke="#c0622b" stroke-width="1.9"/>
<circle cx="1549.9" cy="1235.0" r="4.7" fill="#f2b48e" stroke="#c0622b" stroke-width="1.9"/>
<circle cx="1541.8" cy="1260.2" r="4.7" fill="#f2b48e" stroke="#c0622b" stroke-width="1.9"/>
<circle cx="1544.9" cy="1260.9" r="4.7" fill="#f2b48e" stroke="#c0622b" stroke-width="1.9"/>
<circle cx="1540.1" cy="1280.4" r="4.7" fill="#f2b48e" stroke="#c0622b" stroke-width="1.9"/>
<circle cx="1542.5" cy="1284.4" r="4.7" fill="#f2b48e" stroke="#c0622b" stroke-width="1.9"/>
<circle cx="1541.8" cy="1329.6" r="4.7" fill="#f2b48e" stroke="#c0622b" stroke-width="1.9"/>
<circle cx="1539.5" cy="1336.3" r="4.7" fill="#f2b48e" stroke="#c0622b" stroke-width="1.9"/>
<circle cx="1540.1" cy="1339.0" r="4.7" fill="#f2b48e" stroke="#c0622b" stroke-width="1.9"/>
<circle cx="1543.9" cy="1344.4" r="4.7" fill="#f2b48e" stroke="#c0622b" stroke-width="1.9"/>
<circle cx="1545.9" cy="1351.2" r="4.7" fill="#f2b48e" stroke="#c0622b" stroke-width="1.9"/>
<circle cx="1538.5" cy="1351.8" r="4.7" fill="#f2b48e" stroke="#c0622b" stroke-width="1.9"/>
<circle cx="1541.2" cy="1363.3" r="4.7" fill="#f2b48e" stroke="#c0622b" stroke-width="1.9"/>
<circle cx="1542.5" cy="1378.8" r="4.7" fill="#f2b48e" stroke="#c0622b" stroke-width="1.9"/>
<circle cx="1544.5" cy="1386.2" r="4.7" fill="#f2b48e" stroke="#c0622b" stroke-width="1.9"/>
<circle cx="1540.5" cy="1263.6" r="4.7" fill="#f2b48e" stroke="#c0622b" stroke-width="1.9"/>
<line x1="1199.50" y1="1128.00" x2="1199.50" y2="1458.10" stroke="#000" stroke-width="2.1"/>
<line x1="1187.10" y1="1457.10" x2="1588.50" y2="1457.10" stroke="#000" stroke-width="2.1"/>
<line x1="1188.00" y1="1457.10" x2="1199.50" y2="1457.10" stroke="#000" stroke-width="2.1"/>
<text x="1182.00" y="1465.32" font-size="23.5" text-anchor="end" stroke="#000" stroke-width="0.3">0</text>
<line x1="1188.00" y1="1293.05" x2="1199.50" y2="1293.05" stroke="#000" stroke-width="2.1"/>
<text x="1182.00" y="1301.27" font-size="23.5" text-anchor="end" stroke="#000" stroke-width="0.3">12</text>
<line x1="1188.00" y1="1129.00" x2="1199.50" y2="1129.00" stroke="#000" stroke-width="2.1"/>
<text x="1182.00" y="1137.22" font-size="23.5" text-anchor="end" stroke="#000" stroke-width="0.3">24</text>
<line x1="1236.40" y1="1457.10" x2="1236.40" y2="1469.10" stroke="#000" stroke-width="2.1"/>
<line x1="1313.00" y1="1457.10" x2="1313.00" y2="1469.10" stroke="#000" stroke-width="2.1"/>
<line x1="1389.60" y1="1457.10" x2="1389.60" y2="1469.10" stroke="#000" stroke-width="2.1"/>
<line x1="1466.20" y1="1457.10" x2="1466.20" y2="1469.10" stroke="#000" stroke-width="2.1"/>
<line x1="1542.80" y1="1457.10" x2="1542.80" y2="1469.10" stroke="#000" stroke-width="2.1"/>
<text x="1236.40" y="1452.30" font-size="19" text-anchor="middle" stroke="#000" stroke-width="0.3">18</text>
<text x="1313.00" y="1452.30" font-size="19" text-anchor="middle" fill="#fff" stroke="#fff" stroke-width="0.3">17</text>
<text x="1389.60" y="1452.30" font-size="19" text-anchor="middle" stroke="#000" stroke-width="0.3">18</text>
<text x="1466.20" y="1452.30" font-size="19" text-anchor="middle" fill="#fff" stroke="#fff" stroke-width="0.3">18</text>
<text x="1542.80" y="1452.30" font-size="19" text-anchor="middle" fill="#fff" stroke="#fff" stroke-width="0.3">18</text>
<text x="1466.20" y="1277.10" font-size="30" text-anchor="middle" stroke="#000" stroke-width="0.3">*</text>
<text x="1145.50" y="1311.00" font-size="24.8" text-anchor="middle" stroke="#000" stroke-width="0.3" transform="rotate(-90 1145.50 1311.00)" textLength="209.0" lengthAdjust="spacingAndGlyphs">Damage area (cm<tspan dy="-9" font-size="15">2</tspan><tspan dy="9">)</tspan></text>
<text x="1128.40" y="1122.00" font-size="30" stroke="#000" stroke-width="0.3">k</text>
<text x="1253.13" y="1482.64" font-size="19" text-anchor="end" stroke="#000" stroke-width="0.3" transform="rotate(-30 1253.13 1482.64)">Buffer</text>
<text x="1338.53" y="1483.69" font-size="19" text-anchor="end" stroke="#000" stroke-width="0.3" transform="rotate(-30 1338.53 1483.69)">14: <tspan font-style="italic">Paenibacillus cucumis</tspan></text>
<text x="1421.83" y="1482.39" font-size="19" text-anchor="end" stroke="#000" stroke-width="0.3" transform="rotate(-30 1421.83 1482.39)">18: <tspan font-style="italic">Serratia marcescens</tspan></text>
<text x="1494.52" y="1486.52" font-size="19" text-anchor="end" stroke="#000" stroke-width="0.3" transform="rotate(-30 1494.52 1486.52)">9: <tspan font-style="italic">Massilia arvi</tspan></text>
<text x="1582.13" y="1483.69" font-size="19" text-anchor="end" stroke="#000" stroke-width="0.3" transform="rotate(-30 1582.13 1483.69)">6: <tspan font-style="italic">Gottfriedia solisilvae</tspan></text>
</g>
<g>
<rect x="1213.70" y="1781.86" width="45.40" height="180.24" fill="#ffffff" stroke="#000" stroke-width="2.1"/>
<rect x="1290.30" y="1802.08" width="45.40" height="160.02" fill="#50da78" stroke="#000" stroke-width="2.1"/>
<rect x="1366.90" y="1796.68" width="45.40" height="165.42" fill="#c9962b" stroke="#000" stroke-width="2.1"/>
<rect x="1443.50" y="1822.70" width="45.40" height="139.40" fill="#f1fa9f" stroke="#000" stroke-width="2.1"/>
<rect x="1520.10" y="1781.19" width="45.40" height="180.91" fill="#50da78" stroke="#000" stroke-width="2.1"/>
<line x1="1236.40" y1="1781.86" x2="1236.40" y2="1775.80" stroke="#000" stroke-width="2.1"/>
<line x1="1224.60" y1="1775.80" x2="1248.20" y2="1775.80" stroke="#000" stroke-width="2.3"/>
<line x1="1313.00" y1="1802.08" x2="1313.00" y2="1788.33" stroke="#000" stroke-width="2.1"/>
<line x1="1301.20" y1="1788.33" x2="1324.80" y2="1788.33" stroke="#000" stroke-width="2.3"/>
<line x1="1389.60" y1="1796.68" x2="1389.60" y2="1780.78" stroke="#000" stroke-width="2.1"/>
<line x1="1377.80" y1="1780.78" x2="1401.40" y2="1780.78" stroke="#000" stroke-width="2.3"/>
<line x1="1466.20" y1="1822.70" x2="1466.20" y2="1807.20" stroke="#000" stroke-width="2.1"/>
<line x1="1454.40" y1="1807.20" x2="1478.00" y2="1807.20" stroke="#000" stroke-width="2.3"/>
<line x1="1542.80" y1="1781.19" x2="1542.80" y2="1766.36" stroke="#000" stroke-width="2.1"/>
<line x1="1531.00" y1="1766.36" x2="1554.60" y2="1766.36" stroke="#000" stroke-width="2.3"/>
<circle cx="1229.0" cy="1721.2" r="4.7" fill="none" stroke="#000000" stroke-width="1.9"/>
<circle cx="1237.1" cy="1748.8" r="4.7" fill="none" stroke="#000000" stroke-width="1.9"/>
<circle cx="1239.8" cy="1755.6" r="4.7" fill="none" stroke="#000000" stroke-width="1.9"/>
<circle cx="1240.7" cy="1768.1" r="4.7" fill="none" stroke="#000000" stroke-width="1.9"/>
<circle cx="1230.6" cy="1776.5" r="4.7" fill="none" stroke="#000000" stroke-width="1.9"/>
<circle cx="1234.0" cy="1775.1" r="4.7" fill="none" stroke="#000000" stroke-width="1.9"/>
<circle cx="1237.3" cy="1777.8" r="4.7" fill="none" stroke="#000000" stroke-width="1.9"/>
<circle cx="1227.2" cy="1784.6" r="4.7" fill="none" stroke="#000000" stroke-width="1.9"/>
<circle cx="1232.6" cy="1784.6" r="4.7" fill="none" stroke="#000000" stroke-width="1.9"/>
<circle cx="1242.1" cy="1785.2" r="4.7" fill="none" stroke="#000000" stroke-width="1.9"/>
<circle cx="1238.0" cy="1789.9" r="4.7" fill="none" stroke="#000000" stroke-width="1.9"/>
<circle cx="1243.8" cy="1800.5" r="4.7" fill="none" stroke="#000000" stroke-width="1.9"/>
<circle cx="1232.0" cy="1821.6" r="4.7" fill="none" stroke="#000000" stroke-width="1.9"/>
<circle cx="1234.0" cy="1823.6" r="4.7" fill="none" stroke="#000000" stroke-width="1.9"/>
<circle cx="1231.3" cy="1831.7" r="4.7" fill="none" stroke="#000000" stroke-width="1.9"/>
<circle cx="1235.3" cy="1780.5" r="4.7" fill="none" stroke="#000000" stroke-width="1.9"/>
<circle cx="1229.3" cy="1781.9" r="4.7" fill="none" stroke="#000000" stroke-width="1.9"/>
<circle cx="1239.4" cy="1779.8" r="4.7" fill="none" stroke="#000000" stroke-width="1.9"/>
<circle cx="1307.4" cy="1687.5" r="4.7" fill="#bff3d4" stroke="#2b8a4e" stroke-width="1.9"/>
<circle cx="1311.5" cy="1692.2" r="4.7" fill="#bff3d4" stroke="#2b8a4e" stroke-width="1.9"/>
<circle cx="1311.2" cy="1740.1" r="4.7" fill="#bff3d4" stroke="#2b8a4e" stroke-width="1.9"/>
<circle cx="1319.8" cy="1756.9" r="4.7" fill="#bff3d4" stroke="#2b8a4e" stroke-width="1.9"/>
<circle cx="1307.2" cy="1761.4" r="4.7" fill="#bff3d4" stroke="#2b8a4e" stroke-width="1.9"/>
<circle cx="1309.4" cy="1769.5" r="4.7" fill="#bff3d4" stroke="#2b8a4e" stroke-width="1.9"/>
<circle cx="1310.8" cy="1801.4" r="4.7" fill="#bff3d4" stroke="#2b8a4e" stroke-width="1.9"/>
<circle cx="1306.3" cy="1806.1" r="4.7" fill="#bff3d4" stroke="#2b8a4e" stroke-width="1.9"/>
<circle cx="1310.8" cy="1812.9" r="4.7" fill="#bff3d4" stroke="#2b8a4e" stroke-width="1.9"/>
<circle cx="1311.5" cy="1817.6" r="4.7" fill="#bff3d4" stroke="#2b8a4e" stroke-width="1.9"/>
<circle cx="1312.8" cy="1818.9" r="4.7" fill="#bff3d4" stroke="#2b8a4e" stroke-width="1.9"/>
<circle cx="1316.2" cy="1827.7" r="4.7" fill="#bff3d4" stroke="#2b8a4e" stroke-width="1.9"/>
<circle cx="1312.8" cy="1832.4" r="4.7" fill="#bff3d4" stroke="#2b8a4e" stroke-width="1.9"/>
<circle cx="1318.2" cy="1841.2" r="4.7" fill="#bff3d4" stroke="#2b8a4e" stroke-width="1.9"/>
<circle cx="1311.5" cy="1858.0" r="4.7" fill="#bff3d4" stroke="#2b8a4e" stroke-width="1.9"/>
<circle cx="1311.5" cy="1880.9" r="4.7" fill="#bff3d4" stroke="#2b8a4e" stroke-width="1.9"/>
<circle cx="1316.9" cy="1907.9" r="4.7" fill="#bff3d4" stroke="#2b8a4e" stroke-width="1.9"/>
<circle cx="1308.8" cy="1815.6" r="4.7" fill="#bff3d4" stroke="#2b8a4e" stroke-width="1.9"/>
<circle cx="1389.0" cy="1707.1" r="4.7" fill="#ebca6c" stroke="#8c6a1f" stroke-width="1.9"/>
<circle cx="1386.3" cy="1710.4" r="4.7" fill="#ebca6c" stroke="#8c6a1f" stroke-width="1.9"/>
<circle cx="1395.7" cy="1714.5" r="4.7" fill="#ebca6c" stroke="#8c6a1f" stroke-width="1.9"/>
<circle cx="1389.4" cy="1729.3" r="4.7" fill="#ebca6c" stroke="#8c6a1f" stroke-width="1.9"/>
<circle cx="1384.2" cy="1735.4" r="4.7" fill="#ebca6c" stroke="#8c6a1f" stroke-width="1.9"/>
<circle cx="1388.6" cy="1741.4" r="4.7" fill="#ebca6c" stroke="#8c6a1f" stroke-width="1.9"/>
<circle cx="1401.1" cy="1771.1" r="4.7" fill="#ebca6c" stroke="#8c6a1f" stroke-width="1.9"/>
<circle cx="1391.0" cy="1774.0" r="4.7" fill="#ebca6c" stroke="#8c6a1f" stroke-width="1.9"/>
<circle cx="1386.3" cy="1798.7" r="4.7" fill="#ebca6c" stroke="#8c6a1f" stroke-width="1.9"/>
<circle cx="1388.3" cy="1797.4" r="4.7" fill="#ebca6c" stroke="#8c6a1f" stroke-width="1.9"/>
<circle cx="1386.9" cy="1811.2" r="4.7" fill="#ebca6c" stroke="#8c6a1f" stroke-width="1.9"/>
<circle cx="1397.0" cy="1817.6" r="4.7" fill="#ebca6c" stroke="#8c6a1f" stroke-width="1.9"/>
<circle cx="1391.7" cy="1826.3" r="4.7" fill="#ebca6c" stroke="#8c6a1f" stroke-width="1.9"/>
<circle cx="1385.6" cy="1840.9" r="4.7" fill="#ebca6c" stroke="#8c6a1f" stroke-width="1.9"/>
<circle cx="1387.6" cy="1876.2" r="4.7" fill="#ebca6c" stroke="#8c6a1f" stroke-width="1.9"/>
<circle cx="1384.9" cy="1887.7" r="4.7" fill="#ebca6c" stroke="#8c6a1f" stroke-width="1.9"/>
<circle cx="1391.0" cy="1889.7" r="4.7" fill="#ebca6c" stroke="#8c6a1f" stroke-width="1.9"/>
<circle cx="1390.3" cy="1905.2" r="4.7" fill="#ebca6c" stroke="#8c6a1f" stroke-width="1.9"/>
<circle cx="1471.1" cy="1690.2" r="4.7" fill="#f4fac8" stroke="#cde43c" stroke-width="1.9"/>
<circle cx="1463.0" cy="1732.0" r="4.7" fill="#f4fac8" stroke="#cde43c" stroke-width="1.9"/>
<circle cx="1468.1" cy="1759.6" r="4.7" fill="#f4fac8" stroke="#cde43c" stroke-width="1.9"/>
<circle cx="1463.7" cy="1784.6" r="4.7" fill="#f4fac8" stroke="#cde43c" stroke-width="1.9"/>
<circle cx="1472.2" cy="1787.0" r="4.7" fill="#f4fac8" stroke="#cde43c" stroke-width="1.9"/>
<circle cx="1469.7" cy="1792.0" r="4.7" fill="#f4fac8" stroke="#cde43c" stroke-width="1.9"/>
<circle cx="1474.0" cy="1796.0" r="4.7" fill="#f4fac8" stroke="#cde43c" stroke-width="1.9"/>
<circle cx="1466.8" cy="1813.9" r="4.7" fill="#f4fac8" stroke="#cde43c" stroke-width="1.9"/>
<circle cx="1472.4" cy="1833.1" r="4.7" fill="#f4fac8" stroke="#cde43c" stroke-width="1.9"/>
<circle cx="1465.7" cy="1862.0" r="4.7" fill="#f4fac8" stroke="#cde43c" stroke-width="1.9"/>
<circle cx="1472.4" cy="1872.8" r="4.7" fill="#f4fac8" stroke="#cde43c" stroke-width="1.9"/>
<circle cx="1470.8" cy="1884.3" r="4.7" fill="#f4fac8" stroke="#cde43c" stroke-width="1.9"/>
<circle cx="1458.9" cy="1892.4" r="4.7" fill="#f4fac8" stroke="#cde43c" stroke-width="1.9"/>
<circle cx="1464.3" cy="1893.0" r="4.7" fill="#f4fac8" stroke="#cde43c" stroke-width="1.9"/>
<circle cx="1457.6" cy="1899.1" r="4.7" fill="#f4fac8" stroke="#cde43c" stroke-width="1.9"/>
<circle cx="1475.8" cy="1901.5" r="4.7" fill="#f4fac8" stroke="#cde43c" stroke-width="1.9"/>
<circle cx="1471.8" cy="1788.6" r="4.7" fill="#f4fac8" stroke="#cde43c" stroke-width="1.9"/>
<circle cx="1542.2" cy="1703.0" r="4.7" fill="#bff3d4" stroke="#2b8a4e" stroke-width="1.9"/>
<circle cx="1542.2" cy="1713.1" r="4.7" fill="#bff3d4" stroke="#2b8a4e" stroke-width="1.9"/>
<circle cx="1549.9" cy="1712.9" r="4.7" fill="#bff3d4" stroke="#2b8a4e" stroke-width="1.9"/>
<circle cx="1539.1" cy="1719.9" r="4.7" fill="#bff3d4" stroke="#2b8a4e" stroke-width="1.9"/>
<circle cx="1543.2" cy="1722.6" r="4.7" fill="#bff3d4" stroke="#2b8a4e" stroke-width="1.9"/>
<circle cx="1540.5" cy="1752.2" r="4.7" fill="#bff3d4" stroke="#2b8a4e" stroke-width="1.9"/>
<circle cx="1542.5" cy="1776.5" r="4.7" fill="#bff3d4" stroke="#2b8a4e" stroke-width="1.9"/>
<circle cx="1545.2" cy="1785.2" r="4.7" fill="#bff3d4" stroke="#2b8a4e" stroke-width="1.9"/>
<circle cx="1548.2" cy="1785.9" r="4.7" fill="#bff3d4" stroke="#2b8a4e" stroke-width="1.9"/>
<circle cx="1545.9" cy="1801.8" r="4.7" fill="#bff3d4" stroke="#2b8a4e" stroke-width="1.9"/>
<circle cx="1540.1" cy="1830.4" r="4.7" fill="#bff3d4" stroke="#2b8a4e" stroke-width="1.9"/>
<circle cx="1544.9" cy="1831.7" r="4.7" fill="#bff3d4" stroke="#2b8a4e" stroke-width="1.9"/>
<circle cx="1540.9" cy="1839.1" r="4.7" fill="#bff3d4" stroke="#2b8a4e" stroke-width="1.9"/>
<circle cx="1541.8" cy="1849.9" r="4.7" fill="#bff3d4" stroke="#2b8a4e" stroke-width="1.9"/>
<circle cx="1547.2" cy="1909.2" r="4.7" fill="#bff3d4" stroke="#2b8a4e" stroke-width="1.9"/>
<circle cx="1537.8" cy="1720.5" r="4.7" fill="#bff3d4" stroke="#2b8a4e" stroke-width="1.9"/>
<circle cx="1551.3" cy="1713.1" r="4.7" fill="#bff3d4" stroke="#2b8a4e" stroke-width="1.9"/>
<line x1="1199.50" y1="1632.90" x2="1199.50" y2="1963.10" stroke="#000" stroke-width="2.1"/>
<line x1="1187.10" y1="1962.10" x2="1588.50" y2="1962.10" stroke="#000" stroke-width="2.1"/>
<line x1="1188.00" y1="1962.10" x2="1199.50" y2="1962.10" stroke="#000" stroke-width="2.1"/>
<text x="1183.70" y="1970.32" font-size="23.5" text-anchor="end" stroke="#000" stroke-width="0.3">0</text>
<line x1="1188.00" y1="1798.00" x2="1199.50" y2="1798.00" stroke="#000" stroke-width="2.1"/>
<text x="1183.70" y="1806.22" font-size="23.5" text-anchor="end" stroke="#000" stroke-width="0.3">10</text>
<line x1="1188.00" y1="1633.90" x2="1199.50" y2="1633.90" stroke="#000" stroke-width="2.1"/>
<text x="1183.70" y="1642.12" font-size="23.5" text-anchor="end" stroke="#000" stroke-width="0.3">20</text>
<line x1="1236.40" y1="1962.10" x2="1236.40" y2="1974.10" stroke="#000" stroke-width="2.1"/>
<line x1="1313.00" y1="1962.10" x2="1313.00" y2="1974.10" stroke="#000" stroke-width="2.1"/>
<line x1="1389.60" y1="1962.10" x2="1389.60" y2="1974.10" stroke="#000" stroke-width="2.1"/>
<line x1="1466.20" y1="1962.10" x2="1466.20" y2="1974.10" stroke="#000" stroke-width="2.1"/>
<line x1="1542.80" y1="1962.10" x2="1542.80" y2="1974.10" stroke="#000" stroke-width="2.1"/>
<text x="1236.40" y="1957.30" font-size="19" text-anchor="middle" stroke="#000" stroke-width="0.3">18</text>
<text x="1313.00" y="1957.30" font-size="19" text-anchor="middle" fill="#fff" stroke="#fff" stroke-width="0.3">18</text>
<text x="1389.60" y="1957.30" font-size="19" text-anchor="middle" fill="#fff" stroke="#fff" stroke-width="0.3">18</text>
<text x="1466.20" y="1957.30" font-size="19" text-anchor="middle" stroke="#000" stroke-width="0.3">17</text>
<text x="1542.80" y="1957.30" font-size="19" text-anchor="middle" fill="#fff" stroke="#fff" stroke-width="0.3">17</text>
<text x="1466.20" y="1681.20" font-size="30" text-anchor="middle" stroke="#000" stroke-width="0.3">*</text>
<text x="1145.50" y="1791.10" font-size="24.8" text-anchor="middle" stroke="#000" stroke-width="0.3" transform="rotate(-90 1145.50 1791.10)" textLength="209.0" lengthAdjust="spacingAndGlyphs">Damage area (cm<tspan dy="-9" font-size="15">2</tspan><tspan dy="9">)</tspan></text>
<text x="1129.40" y="1621.00" font-size="30" stroke="#000" stroke-width="0.3">l</text>
<text x="1250.33" y="1987.54" font-size="19" text-anchor="end" stroke="#000" stroke-width="0.3" transform="rotate(-30 1250.33 1987.54)">Buffer</text>
<text x="1345.62" y="1984.82" font-size="19" text-anchor="end" stroke="#000" stroke-width="0.3" transform="rotate(-30 1345.62 1984.82)">10: <tspan font-style="italic">Priestia megaterium strain1</tspan></text>
<text x="1424.23" y="1986.19" font-size="19" text-anchor="end" stroke="#000" stroke-width="0.3" transform="rotate(-30 1424.23 1986.19)">7: <tspan font-style="italic">Klebsiella quasipneumoniae</tspan></text>
<text x="1511.43" y="1982.89" font-size="19" text-anchor="end" stroke="#000" stroke-width="0.3" transform="rotate(-30 1511.43 1982.89)">5: <tspan font-style="italic">Chryseobacterium phosphatilyticum</tspan></text>
<text x="1584.02" y="1983.62" font-size="19" text-anchor="end" stroke="#000" stroke-width="0.3" transform="rotate(-30 1584.02 1983.62)">11: <tspan font-style="italic">Priestia megaterium strain2</tspan></text>
</g>
<g>
<rect x="169.25" y="2425.47" width="37.40" height="69.83" fill="#57a9ee" stroke="#000" stroke-width="2.1"/>
<rect x="231.45" y="2380.65" width="37.40" height="114.65" fill="#e27c3a" stroke="#000" stroke-width="2.1"/>
<rect x="293.65" y="2393.71" width="37.40" height="101.59" fill="#57a9ee" stroke="#000" stroke-width="2.1"/>
<rect x="355.85" y="2383.73" width="37.40" height="111.57" fill="#50da78" stroke="#000" stroke-width="2.1"/>
<rect x="418.05" y="2414.84" width="37.40" height="80.46" fill="#50da78" stroke="#000" stroke-width="2.1"/>
<rect x="480.25" y="2355.94" width="37.40" height="139.36" fill="#9bb8ef" stroke="#000" stroke-width="2.1"/>
<line x1="187.95" y1="2425.47" x2="187.95" y2="2419.32" stroke="#000" stroke-width="2.1"/>
<line x1="177.95" y1="2419.32" x2="197.95" y2="2419.32" stroke="#000" stroke-width="2.3"/>
<line x1="250.15" y1="2380.65" x2="250.15" y2="2375.15" stroke="#000" stroke-width="2.1"/>
<line x1="240.15" y1="2375.15" x2="260.15" y2="2375.15" stroke="#000" stroke-width="2.3"/>
<line x1="312.35" y1="2393.71" x2="312.35" y2="2389.23" stroke="#000" stroke-width="2.1"/>
<line x1="302.35" y1="2389.23" x2="322.35" y2="2389.23" stroke="#000" stroke-width="2.3"/>
<line x1="374.55" y1="2383.73" x2="374.55" y2="2376.04" stroke="#000" stroke-width="2.1"/>
<line x1="364.55" y1="2376.04" x2="384.55" y2="2376.04" stroke="#000" stroke-width="2.3"/>
<line x1="436.75" y1="2414.84" x2="436.75" y2="2411.00" stroke="#000" stroke-width="2.1"/>
<line x1="426.75" y1="2411.00" x2="446.75" y2="2411.00" stroke="#000" stroke-width="2.3"/>
<line x1="498.95" y1="2355.94" x2="498.95" y2="2347.23" stroke="#000" stroke-width="2.1"/>
<line x1="488.95" y1="2347.23" x2="508.95" y2="2347.23" stroke="#000" stroke-width="2.3"/>
<circle cx="192.7" cy="2373.9" r="4.7" fill="#a4c1e6" stroke="#3a66b0" stroke-width="1.9"/>
<circle cx="181.1" cy="2390.5" r="4.7" fill="#a4c1e6" stroke="#3a66b0" stroke-width="1.9"/>
<circle cx="186.2" cy="2390.5" r="4.7" fill="#a4c1e6" stroke="#3a66b0" stroke-width="1.9"/>
<circle cx="188.2" cy="2414.8" r="4.7" fill="#a4c1e6" stroke="#3a66b0" stroke-width="1.9"/>
<circle cx="183.7" cy="2421.9" r="4.7" fill="#a4c1e6" stroke="#3a66b0" stroke-width="1.9"/>
<circle cx="183.7" cy="2427.0" r="4.7" fill="#a4c1e6" stroke="#3a66b0" stroke-width="1.9"/>
<circle cx="188.8" cy="2427.6" r="4.7" fill="#a4c1e6" stroke="#3a66b0" stroke-width="1.9"/>
<circle cx="181.1" cy="2435.3" r="4.7" fill="#a4c1e6" stroke="#3a66b0" stroke-width="1.9"/>
<circle cx="189.4" cy="2436.6" r="4.7" fill="#a4c1e6" stroke="#3a66b0" stroke-width="1.9"/>
<circle cx="186.9" cy="2437.2" r="4.7" fill="#a4c1e6" stroke="#3a66b0" stroke-width="1.9"/>
<circle cx="190.5" cy="2447.5" r="4.7" fill="#a4c1e6" stroke="#3a66b0" stroke-width="1.9"/>
<circle cx="185.0" cy="2457.1" r="4.7" fill="#a4c1e6" stroke="#3a66b0" stroke-width="1.9"/>
<circle cx="183.7" cy="2457.7" r="4.7" fill="#a4c1e6" stroke="#3a66b0" stroke-width="1.9"/>
<circle cx="185.6" cy="2430.8" r="4.7" fill="#a4c1e6" stroke="#3a66b0" stroke-width="1.9"/>
<circle cx="182.4" cy="2425.7" r="4.7" fill="#a4c1e6" stroke="#3a66b0" stroke-width="1.9"/>
<circle cx="254.1" cy="2342.8" r="4.7" fill="#f2b08e" stroke="#c0632c" stroke-width="1.9"/>
<circle cx="248.3" cy="2354.7" r="4.7" fill="#f2b08e" stroke="#c0632c" stroke-width="1.9"/>
<circle cx="249.6" cy="2361.1" r="4.7" fill="#f2b08e" stroke="#c0632c" stroke-width="1.9"/>
<circle cx="248.3" cy="2361.7" r="4.7" fill="#f2b08e" stroke="#c0632c" stroke-width="1.9"/>
<circle cx="250.3" cy="2366.8" r="4.7" fill="#f2b08e" stroke="#c0632c" stroke-width="1.9"/>
<circle cx="248.1" cy="2371.9" r="4.7" fill="#f2b08e" stroke="#c0632c" stroke-width="1.9"/>
<circle cx="248.1" cy="2378.3" r="4.7" fill="#f2b08e" stroke="#c0632c" stroke-width="1.9"/>
<circle cx="255.0" cy="2380.3" r="4.7" fill="#f2b08e" stroke="#c0632c" stroke-width="1.9"/>
<circle cx="252.2" cy="2388.6" r="4.7" fill="#f2b08e" stroke="#c0632c" stroke-width="1.9"/>
<circle cx="249.0" cy="2390.5" r="4.7" fill="#f2b08e" stroke="#c0632c" stroke-width="1.9"/>
<circle cx="249.0" cy="2399.5" r="4.7" fill="#f2b08e" stroke="#c0632c" stroke-width="1.9"/>
<circle cx="252.2" cy="2403.3" r="4.7" fill="#f2b08e" stroke="#c0632c" stroke-width="1.9"/>
<circle cx="245.1" cy="2405.2" r="4.7" fill="#f2b08e" stroke="#c0632c" stroke-width="1.9"/>
<circle cx="248.3" cy="2409.1" r="4.7" fill="#f2b08e" stroke="#c0632c" stroke-width="1.9"/>
<circle cx="248.3" cy="2413.9" r="4.7" fill="#f2b08e" stroke="#c0632c" stroke-width="1.9"/>
<circle cx="250.3" cy="2364.3" r="4.7" fill="#f2b08e" stroke="#c0632c" stroke-width="1.9"/>
<circle cx="312.4" cy="2352.7" r="4.7" fill="#9ad7f7" stroke="#3d8cc8" stroke-width="1.9"/>
<circle cx="312.1" cy="2373.9" r="4.7" fill="#9ad7f7" stroke="#3d8cc8" stroke-width="1.9"/>
<circle cx="313.6" cy="2382.2" r="4.7" fill="#9ad7f7" stroke="#3d8cc8" stroke-width="1.9"/>
<circle cx="314.9" cy="2384.8" r="4.7" fill="#9ad7f7" stroke="#3d8cc8" stroke-width="1.9"/>
<circle cx="307.9" cy="2396.3" r="4.7" fill="#9ad7f7" stroke="#3d8cc8" stroke-width="1.9"/>
<circle cx="316.9" cy="2396.3" r="4.7" fill="#9ad7f7" stroke="#3d8cc8" stroke-width="1.9"/>
<circle cx="318.8" cy="2398.8" r="4.7" fill="#9ad7f7" stroke="#3d8cc8" stroke-width="1.9"/>
<circle cx="309.2" cy="2402.0" r="4.7" fill="#9ad7f7" stroke="#3d8cc8" stroke-width="1.9"/>
<circle cx="312.4" cy="2407.8" r="4.7" fill="#9ad7f7" stroke="#3d8cc8" stroke-width="1.9"/>
<circle cx="309.2" cy="2411.0" r="4.7" fill="#9ad7f7" stroke="#3d8cc8" stroke-width="1.9"/>
<circle cx="311.1" cy="2412.9" r="4.7" fill="#9ad7f7" stroke="#3d8cc8" stroke-width="1.9"/>
<circle cx="313.6" cy="2392.4" r="4.7" fill="#9ad7f7" stroke="#3d8cc8" stroke-width="1.9"/>
<circle cx="307.2" cy="2405.2" r="4.7" fill="#9ad7f7" stroke="#3d8cc8" stroke-width="1.9"/>
<circle cx="310.4" cy="2398.8" r="4.7" fill="#9ad7f7" stroke="#3d8cc8" stroke-width="1.9"/>
<circle cx="375.2" cy="2323.0" r="4.7" fill="#b9f2d2" stroke="#2b8a4e" stroke-width="1.9"/>
<circle cx="376.1" cy="2335.8" r="4.7" fill="#b9f2d2" stroke="#2b8a4e" stroke-width="1.9"/>
<circle cx="374.6" cy="2361.7" r="4.7" fill="#b9f2d2" stroke="#2b8a4e" stroke-width="1.9"/>
<circle cx="383.5" cy="2369.1" r="4.7" fill="#b9f2d2" stroke="#2b8a4e" stroke-width="1.9"/>
<circle cx="367.5" cy="2373.2" r="4.7" fill="#b9f2d2" stroke="#2b8a4e" stroke-width="1.9"/>
<circle cx="373.0" cy="2373.9" r="4.7" fill="#b9f2d2" stroke="#2b8a4e" stroke-width="1.9"/>
<circle cx="371.4" cy="2391.8" r="4.7" fill="#b9f2d2" stroke="#2b8a4e" stroke-width="1.9"/>
<circle cx="380.3" cy="2391.4" r="4.7" fill="#b9f2d2" stroke="#2b8a4e" stroke-width="1.9"/>
<circle cx="375.9" cy="2405.2" r="4.7" fill="#b9f2d2" stroke="#2b8a4e" stroke-width="1.9"/>
<circle cx="372.7" cy="2411.0" r="4.7" fill="#b9f2d2" stroke="#2b8a4e" stroke-width="1.9"/>
<circle cx="377.1" cy="2419.3" r="4.7" fill="#b9f2d2" stroke="#2b8a4e" stroke-width="1.9"/>
<circle cx="373.9" cy="2419.3" r="4.7" fill="#b9f2d2" stroke="#2b8a4e" stroke-width="1.9"/>
<circle cx="372.7" cy="2370.0" r="4.7" fill="#b9f2d2" stroke="#2b8a4e" stroke-width="1.9"/>
<circle cx="377.1" cy="2412.9" r="4.7" fill="#b9f2d2" stroke="#2b8a4e" stroke-width="1.9"/>
<circle cx="369.4" cy="2379.6" r="4.7" fill="#b9f2d2" stroke="#2b8a4e" stroke-width="1.9"/>
<circle cx="433.7" cy="2380.7" r="4.7" fill="#b9f2d2" stroke="#2b8a4e" stroke-width="1.9"/>
<circle cx="436.3" cy="2391.4" r="4.7" fill="#b9f2d2" stroke="#2b8a4e" stroke-width="1.9"/>
<circle cx="430.3" cy="2407.5" r="4.7" fill="#b9f2d2" stroke="#2b8a4e" stroke-width="1.9"/>
<circle cx="433.5" cy="2411.6" r="4.7" fill="#b9f2d2" stroke="#2b8a4e" stroke-width="1.9"/>
<circle cx="435.4" cy="2413.2" r="4.7" fill="#b9f2d2" stroke="#2b8a4e" stroke-width="1.9"/>
<circle cx="439.2" cy="2414.8" r="4.7" fill="#b9f2d2" stroke="#2b8a4e" stroke-width="1.9"/>
<circle cx="437.3" cy="2421.2" r="4.7" fill="#b9f2d2" stroke="#2b8a4e" stroke-width="1.9"/>
<circle cx="440.5" cy="2421.9" r="4.7" fill="#b9f2d2" stroke="#2b8a4e" stroke-width="1.9"/>
<circle cx="433.5" cy="2425.7" r="4.7" fill="#b9f2d2" stroke="#2b8a4e" stroke-width="1.9"/>
<circle cx="434.1" cy="2430.2" r="4.7" fill="#b9f2d2" stroke="#2b8a4e" stroke-width="1.9"/>
<circle cx="439.6" cy="2435.3" r="4.7" fill="#b9f2d2" stroke="#2b8a4e" stroke-width="1.9"/>
<circle cx="431.5" cy="2418.0" r="4.7" fill="#b9f2d2" stroke="#2b8a4e" stroke-width="1.9"/>
<circle cx="436.0" cy="2418.0" r="4.7" fill="#b9f2d2" stroke="#2b8a4e" stroke-width="1.9"/>
<circle cx="438.6" cy="2424.4" r="4.7" fill="#b9f2d2" stroke="#2b8a4e" stroke-width="1.9"/>
<circle cx="432.8" cy="2416.1" r="4.7" fill="#b9f2d2" stroke="#2b8a4e" stroke-width="1.9"/>
<circle cx="502.6" cy="2306.6" r="4.7" fill="#c9daf6" stroke="#3a5fc6" stroke-width="1.9"/>
<circle cx="500.1" cy="2311.1" r="4.7" fill="#c9daf6" stroke="#3a5fc6" stroke-width="1.9"/>
<circle cx="498.8" cy="2321.4" r="4.7" fill="#c9daf6" stroke="#3a5fc6" stroke-width="1.9"/>
<circle cx="496.2" cy="2324.6" r="4.7" fill="#c9daf6" stroke="#3a5fc6" stroke-width="1.9"/>
<circle cx="496.9" cy="2339.9" r="4.7" fill="#c9daf6" stroke="#3a5fc6" stroke-width="1.9"/>
<circle cx="503.9" cy="2346.3" r="4.7" fill="#c9daf6" stroke="#3a5fc6" stroke-width="1.9"/>
<circle cx="500.1" cy="2350.2" r="4.7" fill="#c9daf6" stroke="#3a5fc6" stroke-width="1.9"/>
<circle cx="497.5" cy="2361.1" r="4.7" fill="#c9daf6" stroke="#3a5fc6" stroke-width="1.9"/>
<circle cx="503.9" cy="2363.0" r="4.7" fill="#c9daf6" stroke="#3a5fc6" stroke-width="1.9"/>
<circle cx="498.1" cy="2374.5" r="4.7" fill="#c9daf6" stroke="#3a5fc6" stroke-width="1.9"/>
<circle cx="498.1" cy="2377.7" r="4.7" fill="#c9daf6" stroke="#3a5fc6" stroke-width="1.9"/>
<circle cx="496.2" cy="2387.6" r="4.7" fill="#c9daf6" stroke="#3a5fc6" stroke-width="1.9"/>
<circle cx="501.6" cy="2395.0" r="4.7" fill="#c9daf6" stroke="#3a5fc6" stroke-width="1.9"/>
<circle cx="498.8" cy="2429.8" r="4.7" fill="#c9daf6" stroke="#3a5fc6" stroke-width="1.9"/>
<circle cx="501.3" cy="2347.6" r="4.7" fill="#c9daf6" stroke="#3a5fc6" stroke-width="1.9"/>
<line x1="156.20" y1="2214.70" x2="156.20" y2="2496.30" stroke="#000" stroke-width="2.1"/>
<line x1="145.00" y1="2495.30" x2="528.20" y2="2495.30" stroke="#000" stroke-width="2.1"/>
<line x1="144.70" y1="2495.30" x2="156.20" y2="2495.30" stroke="#000" stroke-width="2.1"/>
<text x="138.70" y="2503.53" font-size="23.5" text-anchor="end" stroke="#000" stroke-width="0.3">0</text>
<line x1="144.70" y1="2355.50" x2="156.20" y2="2355.50" stroke="#000" stroke-width="2.1"/>
<text x="138.70" y="2363.72" font-size="23.5" text-anchor="end" stroke="#000" stroke-width="0.3">0.4</text>
<line x1="144.70" y1="2215.70" x2="156.20" y2="2215.70" stroke="#000" stroke-width="2.1"/>
<text x="138.70" y="2223.92" font-size="23.5" text-anchor="end" stroke="#000" stroke-width="0.3">0.8</text>
<line x1="187.95" y1="2495.30" x2="187.95" y2="2507.30" stroke="#000" stroke-width="2.1"/>
<line x1="250.15" y1="2495.30" x2="250.15" y2="2507.30" stroke="#000" stroke-width="2.1"/>
<line x1="312.35" y1="2495.30" x2="312.35" y2="2507.30" stroke="#000" stroke-width="2.1"/>
<line x1="374.55" y1="2495.30" x2="374.55" y2="2507.30" stroke="#000" stroke-width="2.1"/>
<line x1="436.75" y1="2495.30" x2="436.75" y2="2507.30" stroke="#000" stroke-width="2.1"/>
<line x1="498.95" y1="2495.30" x2="498.95" y2="2507.30" stroke="#000" stroke-width="2.1"/>
<text x="187.95" y="2490.50" font-size="19" text-anchor="middle" fill="#fff" stroke="#fff" stroke-width="0.3">15</text>
<text x="250.15" y="2490.50" font-size="19" text-anchor="middle" fill="#fff" stroke="#fff" stroke-width="0.3">16</text>
<text x="312.35" y="2490.50" font-size="19" text-anchor="middle" fill="#fff" stroke="#fff" stroke-width="0.3">14</text>
<text x="374.55" y="2490.50" font-size="19" text-anchor="middle" fill="#fff" stroke="#fff" stroke-width="0.3">15</text>
<text x="436.75" y="2490.50" font-size="19" text-anchor="middle" fill="#fff" stroke="#fff" stroke-width="0.3">15</text>
<text x="498.95" y="2490.50" font-size="19" text-anchor="middle" fill="#fff" stroke="#fff" stroke-width="0.3">15</text>
<text x="187.95" y="2365.46" font-size="24" text-anchor="middle" stroke="#000" stroke-width="0.3">a</text>
<text x="250.15" y="2322.46" font-size="24" text-anchor="middle" stroke="#000" stroke-width="0.3">b</text>
<text x="312.35" y="2340.36" font-size="24" text-anchor="middle" stroke="#000" stroke-width="0.3">b</text>
<text x="374.55" y="2315.36" font-size="24" text-anchor="middle" stroke="#000" stroke-width="0.3">b</text>
<text x="436.75" y="2366.56" font-size="24" text-anchor="middle" stroke="#000" stroke-width="0.3">a</text>
<text x="80.60" y="2360.00" font-size="24.2" text-anchor="middle" stroke="#000" stroke-width="0.3" transform="rotate(-90 80.60 2360.00)">Shoot biomass (g DW)</text>
<text x="60.30" y="2204.70" font-size="30" stroke="#000" stroke-width="0.3">m</text>
</g>
<g>
<rect x="709.50" y="2339.49" width="37.40" height="156.51" fill="#57a9ee" stroke="#000" stroke-width="2.1"/>
<rect x="771.70" y="2381.49" width="37.40" height="114.51" fill="#e27c3a" stroke="#000" stroke-width="2.1"/>
<rect x="833.90" y="2390.45" width="37.40" height="105.55" fill="#57a9ee" stroke="#000" stroke-width="2.1"/>
<rect x="896.10" y="2381.87" width="37.40" height="114.13" fill="#50da78" stroke="#000" stroke-width="2.1"/>
<rect x="958.30" y="2348.58" width="37.40" height="147.42" fill="#50da78" stroke="#000" stroke-width="2.1"/>
<rect x="1020.50" y="2376.75" width="37.40" height="119.25" fill="#9bb8ef" stroke="#000" stroke-width="2.1"/>
<line x1="728.20" y1="2339.49" x2="728.20" y2="2332.19" stroke="#000" stroke-width="2.1"/>
<line x1="718.20" y1="2332.19" x2="738.20" y2="2332.19" stroke="#000" stroke-width="2.3"/>
<line x1="790.40" y1="2381.49" x2="790.40" y2="2373.80" stroke="#000" stroke-width="2.1"/>
<line x1="780.40" y1="2373.80" x2="800.40" y2="2373.80" stroke="#000" stroke-width="2.3"/>
<line x1="852.60" y1="2390.45" x2="852.60" y2="2380.20" stroke="#000" stroke-width="2.1"/>
<line x1="842.60" y1="2380.20" x2="862.60" y2="2380.20" stroke="#000" stroke-width="2.3"/>
<line x1="914.80" y1="2381.87" x2="914.80" y2="2373.55" stroke="#000" stroke-width="2.1"/>
<line x1="904.80" y1="2373.55" x2="924.80" y2="2373.55" stroke="#000" stroke-width="2.3"/>
<line x1="977.00" y1="2348.58" x2="977.00" y2="2340.90" stroke="#000" stroke-width="2.1"/>
<line x1="967.00" y1="2340.90" x2="987.00" y2="2340.90" stroke="#000" stroke-width="2.3"/>
<line x1="1039.20" y1="2376.75" x2="1039.20" y2="2371.88" stroke="#000" stroke-width="2.1"/>
<line x1="1029.20" y1="2371.88" x2="1049.20" y2="2371.88" stroke="#000" stroke-width="2.3"/>
<circle cx="728.8" cy="2262.4" r="4.7" fill="#a4c1e6" stroke="#3a66b0" stroke-width="1.9"/>
<circle cx="728.8" cy="2282.9" r="4.7" fill="#a4c1e6" stroke="#3a66b0" stroke-width="1.9"/>
<circle cx="729.4" cy="2306.6" r="4.7" fill="#a4c1e6" stroke="#3a66b0" stroke-width="1.9"/>
<circle cx="730.1" cy="2312.3" r="4.7" fill="#a4c1e6" stroke="#3a66b0" stroke-width="1.9"/>
<circle cx="725.0" cy="2314.9" r="4.7" fill="#a4c1e6" stroke="#3a66b0" stroke-width="1.9"/>
<circle cx="730.7" cy="2319.4" r="4.7" fill="#a4c1e6" stroke="#3a66b0" stroke-width="1.9"/>
<circle cx="722.4" cy="2334.8" r="4.7" fill="#a4c1e6" stroke="#3a66b0" stroke-width="1.9"/>
<circle cx="726.2" cy="2341.2" r="4.7" fill="#a4c1e6" stroke="#3a66b0" stroke-width="1.9"/>
<circle cx="725.0" cy="2346.3" r="4.7" fill="#a4c1e6" stroke="#3a66b0" stroke-width="1.9"/>
<circle cx="730.7" cy="2348.8" r="4.7" fill="#a4c1e6" stroke="#3a66b0" stroke-width="1.9"/>
<circle cx="723.7" cy="2353.3" r="4.7" fill="#a4c1e6" stroke="#3a66b0" stroke-width="1.9"/>
<circle cx="728.8" cy="2360.4" r="4.7" fill="#a4c1e6" stroke="#3a66b0" stroke-width="1.9"/>
<circle cx="721.1" cy="2368.0" r="4.7" fill="#a4c1e6" stroke="#3a66b0" stroke-width="1.9"/>
<circle cx="726.9" cy="2368.7" r="4.7" fill="#a4c1e6" stroke="#3a66b0" stroke-width="1.9"/>
<circle cx="733.3" cy="2368.0" r="4.7" fill="#a4c1e6" stroke="#3a66b0" stroke-width="1.9"/>
<circle cx="723.7" cy="2376.4" r="4.7" fill="#a4c1e6" stroke="#3a66b0" stroke-width="1.9"/>
<circle cx="728.2" cy="2378.3" r="4.7" fill="#a4c1e6" stroke="#3a66b0" stroke-width="1.9"/>
<circle cx="726.2" cy="2355.2" r="4.7" fill="#a4c1e6" stroke="#3a66b0" stroke-width="1.9"/>
<circle cx="729.4" cy="2362.9" r="4.7" fill="#a4c1e6" stroke="#3a66b0" stroke-width="1.9"/>
<circle cx="725.6" cy="2373.2" r="4.7" fill="#a4c1e6" stroke="#3a66b0" stroke-width="1.9"/>
<circle cx="789.0" cy="2322.6" r="4.7" fill="#f2b08e" stroke="#c0632c" stroke-width="1.9"/>
<circle cx="789.0" cy="2329.0" r="4.7" fill="#f2b08e" stroke="#c0632c" stroke-width="1.9"/>
<circle cx="790.3" cy="2352.7" r="4.7" fill="#f2b08e" stroke="#c0632c" stroke-width="1.9"/>
<circle cx="787.7" cy="2354.6" r="4.7" fill="#f2b08e" stroke="#c0632c" stroke-width="1.9"/>
<circle cx="788.1" cy="2364.2" r="4.7" fill="#f2b08e" stroke="#c0632c" stroke-width="1.9"/>
<circle cx="789.6" cy="2368.0" r="4.7" fill="#f2b08e" stroke="#c0632c" stroke-width="1.9"/>
<circle cx="794.1" cy="2368.0" r="4.7" fill="#f2b08e" stroke="#c0632c" stroke-width="1.9"/>
<circle cx="785.8" cy="2369.3" r="4.7" fill="#f2b08e" stroke="#c0632c" stroke-width="1.9"/>
<circle cx="787.1" cy="2373.2" r="4.7" fill="#f2b08e" stroke="#c0632c" stroke-width="1.9"/>
<circle cx="789.6" cy="2379.6" r="4.7" fill="#f2b08e" stroke="#c0632c" stroke-width="1.9"/>
<circle cx="794.1" cy="2382.8" r="4.7" fill="#f2b08e" stroke="#c0632c" stroke-width="1.9"/>
<circle cx="785.5" cy="2390.4" r="4.7" fill="#f2b08e" stroke="#c0632c" stroke-width="1.9"/>
<circle cx="789.0" cy="2396.2" r="4.7" fill="#f2b08e" stroke="#c0632c" stroke-width="1.9"/>
<circle cx="789.6" cy="2403.9" r="4.7" fill="#f2b08e" stroke="#c0632c" stroke-width="1.9"/>
<circle cx="793.2" cy="2411.6" r="4.7" fill="#f2b08e" stroke="#c0632c" stroke-width="1.9"/>
<circle cx="790.3" cy="2446.1" r="4.7" fill="#f2b08e" stroke="#c0632c" stroke-width="1.9"/>
<circle cx="794.8" cy="2445.5" r="4.7" fill="#f2b08e" stroke="#c0632c" stroke-width="1.9"/>
<circle cx="787.1" cy="2362.9" r="4.7" fill="#f2b08e" stroke="#c0632c" stroke-width="1.9"/>
<circle cx="791.5" cy="2375.7" r="4.7" fill="#f2b08e" stroke="#c0632c" stroke-width="1.9"/>
<circle cx="854.7" cy="2325.1" r="4.7" fill="#9ad7f7" stroke="#3d8cc8" stroke-width="1.9"/>
<circle cx="851.7" cy="2342.4" r="4.7" fill="#9ad7f7" stroke="#3d8cc8" stroke-width="1.9"/>
<circle cx="858.8" cy="2352.9" r="4.7" fill="#9ad7f7" stroke="#3d8cc8" stroke-width="1.9"/>
<circle cx="850.4" cy="2376.4" r="4.7" fill="#9ad7f7" stroke="#3d8cc8" stroke-width="1.9"/>
<circle cx="862.6" cy="2382.1" r="4.7" fill="#9ad7f7" stroke="#3d8cc8" stroke-width="1.9"/>
<circle cx="854.9" cy="2384.0" r="4.7" fill="#9ad7f7" stroke="#3d8cc8" stroke-width="1.9"/>
<circle cx="852.4" cy="2386.6" r="4.7" fill="#9ad7f7" stroke="#3d8cc8" stroke-width="1.9"/>
<circle cx="857.5" cy="2399.4" r="4.7" fill="#9ad7f7" stroke="#3d8cc8" stroke-width="1.9"/>
<circle cx="849.8" cy="2405.2" r="4.7" fill="#9ad7f7" stroke="#3d8cc8" stroke-width="1.9"/>
<circle cx="853.0" cy="2407.1" r="4.7" fill="#9ad7f7" stroke="#3d8cc8" stroke-width="1.9"/>
<circle cx="853.0" cy="2414.1" r="4.7" fill="#9ad7f7" stroke="#3d8cc8" stroke-width="1.9"/>
<circle cx="854.3" cy="2425.7" r="4.7" fill="#9ad7f7" stroke="#3d8cc8" stroke-width="1.9"/>
<circle cx="851.7" cy="2480.7" r="4.7" fill="#9ad7f7" stroke="#3d8cc8" stroke-width="1.9"/>
<circle cx="856.2" cy="2380.8" r="4.7" fill="#9ad7f7" stroke="#3d8cc8" stroke-width="1.9"/>
<circle cx="917.1" cy="2316.2" r="4.7" fill="#b9f2d2" stroke="#2b8a4e" stroke-width="1.9"/>
<circle cx="908.8" cy="2344.0" r="4.7" fill="#b9f2d2" stroke="#2b8a4e" stroke-width="1.9"/>
<circle cx="915.2" cy="2360.4" r="4.7" fill="#b9f2d2" stroke="#2b8a4e" stroke-width="1.9"/>
<circle cx="917.1" cy="2364.2" r="4.7" fill="#b9f2d2" stroke="#2b8a4e" stroke-width="1.9"/>
<circle cx="918.4" cy="2366.8" r="4.7" fill="#b9f2d2" stroke="#2b8a4e" stroke-width="1.9"/>
<circle cx="918.4" cy="2373.8" r="4.7" fill="#b9f2d2" stroke="#2b8a4e" stroke-width="1.9"/>
<circle cx="916.5" cy="2375.7" r="4.7" fill="#b9f2d2" stroke="#2b8a4e" stroke-width="1.9"/>
<circle cx="919.7" cy="2380.8" r="4.7" fill="#b9f2d2" stroke="#2b8a4e" stroke-width="1.9"/>
<circle cx="912.7" cy="2391.1" r="4.7" fill="#b9f2d2" stroke="#2b8a4e" stroke-width="1.9"/>
<circle cx="913.5" cy="2400.7" r="4.7" fill="#b9f2d2" stroke="#2b8a4e" stroke-width="1.9"/>
<circle cx="907.9" cy="2412.9" r="4.7" fill="#b9f2d2" stroke="#2b8a4e" stroke-width="1.9"/>
<circle cx="911.4" cy="2418.0" r="4.7" fill="#b9f2d2" stroke="#2b8a4e" stroke-width="1.9"/>
<circle cx="920.7" cy="2427.6" r="4.7" fill="#b9f2d2" stroke="#2b8a4e" stroke-width="1.9"/>
<circle cx="916.1" cy="2435.6" r="4.7" fill="#b9f2d2" stroke="#2b8a4e" stroke-width="1.9"/>
<circle cx="915.2" cy="2362.9" r="4.7" fill="#b9f2d2" stroke="#2b8a4e" stroke-width="1.9"/>
<circle cx="980.5" cy="2270.5" r="4.7" fill="#b9f2d2" stroke="#2b8a4e" stroke-width="1.9"/>
<circle cx="976.7" cy="2296.3" r="4.7" fill="#b9f2d2" stroke="#2b8a4e" stroke-width="1.9"/>
<circle cx="975.8" cy="2306.3" r="4.7" fill="#b9f2d2" stroke="#2b8a4e" stroke-width="1.9"/>
<circle cx="974.5" cy="2313.6" r="4.7" fill="#b9f2d2" stroke="#2b8a4e" stroke-width="1.9"/>
<circle cx="975.0" cy="2325.1" r="4.7" fill="#b9f2d2" stroke="#2b8a4e" stroke-width="1.9"/>
<circle cx="979.6" cy="2332.2" r="4.7" fill="#b9f2d2" stroke="#2b8a4e" stroke-width="1.9"/>
<circle cx="979.2" cy="2343.1" r="4.7" fill="#b9f2d2" stroke="#2b8a4e" stroke-width="1.9"/>
<circle cx="975.0" cy="2351.1" r="4.7" fill="#b9f2d2" stroke="#2b8a4e" stroke-width="1.9"/>
<circle cx="981.2" cy="2354.0" r="4.7" fill="#b9f2d2" stroke="#2b8a4e" stroke-width="1.9"/>
<circle cx="976.7" cy="2357.2" r="4.7" fill="#b9f2d2" stroke="#2b8a4e" stroke-width="1.9"/>
<circle cx="982.2" cy="2360.6" r="4.7" fill="#b9f2d2" stroke="#2b8a4e" stroke-width="1.9"/>
<circle cx="975.4" cy="2370.6" r="4.7" fill="#b9f2d2" stroke="#2b8a4e" stroke-width="1.9"/>
<circle cx="978.0" cy="2371.9" r="4.7" fill="#b9f2d2" stroke="#2b8a4e" stroke-width="1.9"/>
<circle cx="981.8" cy="2376.4" r="4.7" fill="#b9f2d2" stroke="#2b8a4e" stroke-width="1.9"/>
<circle cx="978.0" cy="2382.1" r="4.7" fill="#b9f2d2" stroke="#2b8a4e" stroke-width="1.9"/>
<circle cx="976.0" cy="2389.8" r="4.7" fill="#b9f2d2" stroke="#2b8a4e" stroke-width="1.9"/>
<circle cx="974.8" cy="2396.9" r="4.7" fill="#b9f2d2" stroke="#2b8a4e" stroke-width="1.9"/>
<circle cx="978.6" cy="2366.1" r="4.7" fill="#b9f2d2" stroke="#2b8a4e" stroke-width="1.9"/>
<circle cx="977.3" cy="2350.1" r="4.7" fill="#b9f2d2" stroke="#2b8a4e" stroke-width="1.9"/>
<circle cx="979.9" cy="2378.3" r="4.7" fill="#b9f2d2" stroke="#2b8a4e" stroke-width="1.9"/>
<circle cx="1034.7" cy="2342.7" r="4.7" fill="#c9daf6" stroke="#3a5fc6" stroke-width="1.9"/>
<circle cx="1033.0" cy="2354.6" r="4.7" fill="#c9daf6" stroke="#3a5fc6" stroke-width="1.9"/>
<circle cx="1038.1" cy="2355.9" r="4.7" fill="#c9daf6" stroke="#3a5fc6" stroke-width="1.9"/>
<circle cx="1034.3" cy="2359.1" r="4.7" fill="#c9daf6" stroke="#3a5fc6" stroke-width="1.9"/>
<circle cx="1036.9" cy="2362.3" r="4.7" fill="#c9daf6" stroke="#3a5fc6" stroke-width="1.9"/>
<circle cx="1043.3" cy="2363.9" r="4.7" fill="#c9daf6" stroke="#3a5fc6" stroke-width="1.9"/>
<circle cx="1033.6" cy="2366.1" r="4.7" fill="#c9daf6" stroke="#3a5fc6" stroke-width="1.9"/>
<circle cx="1037.5" cy="2368.0" r="4.7" fill="#c9daf6" stroke="#3a5fc6" stroke-width="1.9"/>
<circle cx="1038.1" cy="2375.7" r="4.7" fill="#c9daf6" stroke="#3a5fc6" stroke-width="1.9"/>
<circle cx="1037.5" cy="2378.9" r="4.7" fill="#c9daf6" stroke="#3a5fc6" stroke-width="1.9"/>
<circle cx="1034.3" cy="2391.1" r="4.7" fill="#c9daf6" stroke="#3a5fc6" stroke-width="1.9"/>
<circle cx="1042.4" cy="2394.3" r="4.7" fill="#c9daf6" stroke="#3a5fc6" stroke-width="1.9"/>
<circle cx="1031.7" cy="2396.2" r="4.7" fill="#c9daf6" stroke="#3a5fc6" stroke-width="1.9"/>
<circle cx="1036.9" cy="2402.6" r="4.7" fill="#c9daf6" stroke="#3a5fc6" stroke-width="1.9"/>
<circle cx="1033.0" cy="2404.5" r="4.7" fill="#c9daf6" stroke="#3a5fc6" stroke-width="1.9"/>
<circle cx="1035.2" cy="2420.3" r="4.7" fill="#c9daf6" stroke="#3a5fc6" stroke-width="1.9"/>
<circle cx="1036.2" cy="2370.6" r="4.7" fill="#c9daf6" stroke="#3a5fc6" stroke-width="1.9"/>
<circle cx="1034.9" cy="2360.4" r="4.7" fill="#c9daf6" stroke="#3a5fc6" stroke-width="1.9"/>
<circle cx="1038.8" cy="2398.8" r="4.7" fill="#c9daf6" stroke="#3a5fc6" stroke-width="1.9"/>
<circle cx="1040.1" cy="2357.8" r="4.7" fill="#c9daf6" stroke="#3a5fc6" stroke-width="1.9"/>
<line x1="697.40" y1="2216.20" x2="697.40" y2="2497.00" stroke="#000" stroke-width="2.1"/>
<line x1="684.50" y1="2496.00" x2="1070.20" y2="2496.00" stroke="#000" stroke-width="2.1"/>
<line x1="685.90" y1="2496.00" x2="697.40" y2="2496.00" stroke="#000" stroke-width="2.1"/>
<text x="679.90" y="2504.22" font-size="23.5" text-anchor="end" stroke="#000" stroke-width="0.3">0</text>
<line x1="685.90" y1="2356.60" x2="697.40" y2="2356.60" stroke="#000" stroke-width="2.1"/>
<text x="679.90" y="2364.82" font-size="23.5" text-anchor="end" stroke="#000" stroke-width="0.3">3.5</text>
<line x1="685.90" y1="2217.20" x2="697.40" y2="2217.20" stroke="#000" stroke-width="2.1"/>
<text x="679.90" y="2225.42" font-size="23.5" text-anchor="end" stroke="#000" stroke-width="0.3">7.0</text>
<line x1="728.20" y1="2496.00" x2="728.20" y2="2508.00" stroke="#000" stroke-width="2.1"/>
<line x1="790.40" y1="2496.00" x2="790.40" y2="2508.00" stroke="#000" stroke-width="2.1"/>
<line x1="852.60" y1="2496.00" x2="852.60" y2="2508.00" stroke="#000" stroke-width="2.1"/>
<line x1="914.80" y1="2496.00" x2="914.80" y2="2508.00" stroke="#000" stroke-width="2.1"/>
<line x1="977.00" y1="2496.00" x2="977.00" y2="2508.00" stroke="#000" stroke-width="2.1"/>
<line x1="1039.20" y1="2496.00" x2="1039.20" y2="2508.00" stroke="#000" stroke-width="2.1"/>
<text x="728.20" y="2491.20" font-size="19" text-anchor="middle" fill="#fff" stroke="#fff" stroke-width="0.3">20</text>
<text x="790.40" y="2491.20" font-size="19" text-anchor="middle" fill="#fff" stroke="#fff" stroke-width="0.3">19</text>
<text x="852.60" y="2491.20" font-size="19" text-anchor="middle" fill="#fff" stroke="#fff" stroke-width="0.3">14</text>
<text x="914.80" y="2491.20" font-size="19" text-anchor="middle" fill="#fff" stroke="#fff" stroke-width="0.3">15</text>
<text x="977.00" y="2491.20" font-size="19" text-anchor="middle" fill="#fff" stroke="#fff" stroke-width="0.3">20</text>
<text x="1039.20" y="2491.20" font-size="19" text-anchor="middle" fill="#fff" stroke="#fff" stroke-width="0.3">20</text>
<text x="728.20" y="2301.46" font-size="24" text-anchor="middle" stroke="#000" stroke-width="0.3">a</text>
<text x="790.40" y="2305.76" font-size="24" text-anchor="middle" stroke="#000" stroke-width="0.3">b</text>
<text x="852.60" y="2308.96" font-size="24" text-anchor="middle" stroke="#000" stroke-width="0.3">b</text>
<text x="914.80" y="2306.36" font-size="24" text-anchor="middle" stroke="#000" stroke-width="0.3">b</text>
<text x="977.00" y="2258.56" font-size="24" text-anchor="middle" stroke="#000" stroke-width="0.3">a</text>
<text x="1039.20" y="2329.46" font-size="24" text-anchor="middle" stroke="#000" stroke-width="0.3">b</text>
<text x="607.20" y="2357.50" font-size="24" text-anchor="middle" stroke="#000" stroke-width="0.3" transform="rotate(-90 607.20 2357.50)" textLength="194.2" lengthAdjust="spacingAndGlyphs">Larval weight gain</text>
<text x="635.50" y="2356.60" font-size="24" text-anchor="middle" stroke="#000" stroke-width="0.3" transform="rotate(-90 635.50 2356.60)" textLength="181.0" lengthAdjust="spacingAndGlyphs">(fold change d<tspan dy="-9" font-size="15">-1</tspan><tspan dy="9">)</tspan></text>
<text x="599.50" y="2214.20" font-size="30" stroke="#000" stroke-width="0.3">n</text>
</g>
<text x="177.00" y="2238.70" font-size="21.7" stroke="#000" stroke-width="0.3">ANOVA: ***</text>
<text x="718.00" y="2237.50" font-size="21.7" stroke="#000" stroke-width="0.3">ANOVA: ***</text>
<text x="190.25" y="2536.90" font-size="22" text-anchor="middle" stroke="#000" stroke-width="0.3">Con</text>
<text x="190.25" y="2565.60" font-size="22" text-anchor="middle" stroke="#000" stroke-width="0.3">WT</text>
<text x="190.25" y="2695.00" font-size="22" text-anchor="middle" stroke="#000" stroke-width="0.3">WT</text>
<text x="252.45" y="2536.90" font-size="22" text-anchor="middle" stroke="#000" stroke-width="0.3">HAC</text>
<text x="252.45" y="2565.60" font-size="22" text-anchor="middle" stroke="#000" stroke-width="0.3">WT</text>
<text x="252.45" y="2695.00" font-size="22" text-anchor="middle" stroke="#000" stroke-width="0.3">WT</text>
<text x="314.65" y="2536.90" font-size="22" text-anchor="middle" stroke="#000" stroke-width="0.3">Con</text>
<text x="314.65" y="2565.60" font-size="22" text-anchor="middle" stroke="#000" stroke-width="0.3">WT</text>
<text x="314.65" y="2695.00" font-size="22" text-anchor="middle" stroke="#000" stroke-width="0.3">WT</text>
<text x="376.85" y="2536.90" font-size="22" text-anchor="middle" stroke="#000" stroke-width="0.3">Con</text>
<text x="376.85" y="2565.60" font-size="22" text-anchor="middle" stroke="#000" stroke-width="0.3">WT</text>
<text x="376.85" y="2695.00" font-size="22" text-anchor="middle" stroke="#000" stroke-width="0.3">WT</text>
<text x="439.05" y="2536.90" font-size="22" text-anchor="middle" stroke="#000" stroke-width="0.3">Con</text>
<text x="439.05" y="2565.60" font-size="22" text-anchor="middle" stroke="#000" stroke-width="0.3">WT</text>
<text x="439.05" y="2695.00" font-size="22" text-anchor="middle" stroke="#000" stroke-width="0.3">WT</text>
<text x="501.25" y="2536.90" font-size="22" text-anchor="middle" stroke="#000" stroke-width="0.3">Con</text>
<text x="501.25" y="2565.60" font-size="22" text-anchor="middle" stroke="#000" stroke-width="0.3">WT</text>
<text x="501.25" y="2695.00" font-size="22" text-anchor="middle" stroke="#000" stroke-width="0.3">WT</text>
<text x="210.00" y="2583.50" font-size="16" text-anchor="end" stroke="#000" stroke-width="0.3" transform="rotate(-23.8 210.00 2583.50)">Buffer</text>
<text x="267.70" y="2583.50" font-size="16" text-anchor="end" stroke="#000" stroke-width="0.3" transform="rotate(-23.8 267.70 2583.50)">Buffer</text>
<text x="327.51" y="2588.56" font-size="16" text-anchor="end" stroke="#000" stroke-width="0.3" transform="rotate(-23.8 327.51 2588.56)">4: <tspan font-style="italic">Bacillus pacificus strain2</tspan></text>
<text x="397.21" y="2588.56" font-size="16" text-anchor="end" stroke="#000" stroke-width="0.3" transform="rotate(-23.8 397.21 2588.56)">12: <tspan font-style="italic">Priestia aryabhattai</tspan></text>
<text x="460.04" y="2586.81" font-size="16" text-anchor="end" stroke="#000" stroke-width="0.3" transform="rotate(-23.8 460.04 2586.81)">13: <tspan font-style="italic">Priestia koreensis</tspan></text>
<text x="521.11" y="2588.56" font-size="16" text-anchor="end" stroke="#000" stroke-width="0.3" transform="rotate(-23.8 521.11 2588.56)">17: <tspan font-style="italic">Rossellomorea marisflavi</tspan></text>
<text x="729.20" y="2536.90" font-size="22" text-anchor="middle" stroke="#000" stroke-width="0.3">Con</text>
<text x="729.20" y="2565.40" font-size="22" text-anchor="middle" stroke="#000" stroke-width="0.3">WT</text>
<text x="729.20" y="2695.00" font-size="22" text-anchor="middle" stroke="#000" stroke-width="0.3">WT</text>
<text x="791.40" y="2536.90" font-size="22" text-anchor="middle" stroke="#000" stroke-width="0.3">HAC</text>
<text x="791.40" y="2565.40" font-size="22" text-anchor="middle" stroke="#000" stroke-width="0.3">WT</text>
<text x="791.40" y="2695.00" font-size="22" text-anchor="middle" stroke="#000" stroke-width="0.3">WT</text>
<text x="853.60" y="2536.90" font-size="22" text-anchor="middle" stroke="#000" stroke-width="0.3">Con</text>
<text x="853.60" y="2565.40" font-size="22" text-anchor="middle" stroke="#000" stroke-width="0.3">WT</text>
<text x="853.60" y="2695.00" font-size="22" text-anchor="middle" stroke="#000" stroke-width="0.3">WT</text>
<text x="915.80" y="2536.90" font-size="22" text-anchor="middle" stroke="#000" stroke-width="0.3">Con</text>
<text x="915.80" y="2565.40" font-size="22" text-anchor="middle" stroke="#000" stroke-width="0.3">WT</text>
<text x="915.80" y="2695.00" font-size="22" text-anchor="middle" stroke="#000" stroke-width="0.3">WT</text>
<text x="978.00" y="2536.90" font-size="22" text-anchor="middle" stroke="#000" stroke-width="0.3">Con</text>
<text x="978.00" y="2565.40" font-size="22" text-anchor="middle" stroke="#000" stroke-width="0.3">WT</text>
<text x="978.00" y="2695.00" font-size="22" text-anchor="middle" stroke="#000" stroke-width="0.3">WT</text>
<text x="1040.20" y="2536.90" font-size="22" text-anchor="middle" stroke="#000" stroke-width="0.3">Con</text>
<text x="1040.20" y="2565.40" font-size="22" text-anchor="middle" stroke="#000" stroke-width="0.3">WT</text>
<text x="1040.20" y="2695.00" font-size="22" text-anchor="middle" stroke="#000" stroke-width="0.3">WT</text>
<text x="750.25" y="2583.50" font-size="16" text-anchor="end" stroke="#000" stroke-width="0.3" transform="rotate(-23.8 750.25 2583.50)">Buffer</text>
<text x="807.95" y="2583.50" font-size="16" text-anchor="end" stroke="#000" stroke-width="0.3" transform="rotate(-23.8 807.95 2583.50)">Buffer</text>
<text x="867.76" y="2588.56" font-size="16" text-anchor="end" stroke="#000" stroke-width="0.3" transform="rotate(-23.8 867.76 2588.56)">4: <tspan font-style="italic">Bacillus pacificus strain2</tspan></text>
<text x="937.46" y="2588.56" font-size="16" text-anchor="end" stroke="#000" stroke-width="0.3" transform="rotate(-23.8 937.46 2588.56)">12: <tspan font-style="italic">Priestia aryabhattai</tspan></text>
<text x="1000.29" y="2586.81" font-size="16" text-anchor="end" stroke="#000" stroke-width="0.3" transform="rotate(-23.8 1000.29 2586.81)">13: <tspan font-style="italic">Priestia koreensis</tspan></text>
<text x="1061.36" y="2588.56" font-size="16" text-anchor="end" stroke="#000" stroke-width="0.3" transform="rotate(-23.8 1061.36 2588.56)">17: <tspan font-style="italic">Rossellomorea marisflavi</tspan></text>
<text x="60.70" y="2535.40" font-size="16" text-anchor="middle" stroke="#000" stroke-width="0.3">Volatiles</text>
<text x="60.70" y="2561.70" font-size="16" text-anchor="middle" stroke="#000" stroke-width="0.3">Receiver</text>
<text x="60.70" y="2603.10" font-size="16" text-anchor="middle" stroke="#000" stroke-width="0.3">Bacteria</text>
<text x="60.70" y="2621.30" font-size="16" text-anchor="middle" stroke="#000" stroke-width="0.3">complementation</text>
<text x="60.70" y="2690.00" font-size="16" text-anchor="middle" stroke="#000" stroke-width="0.3">PSF Responder</text>
<line x1="111.20" y1="2530.30" x2="159.70" y2="2530.30" stroke="#000" stroke-width="1.7" stroke-dasharray="6 4.6"/>
<line x1="109.20" y1="2557.60" x2="157.70" y2="2557.60" stroke="#000" stroke-width="1.7" stroke-dasharray="6 4.6"/>
<line x1="106.10" y1="2602.10" x2="155.60" y2="2602.10" stroke="#000" stroke-width="1.7" stroke-dasharray="6 4.6"/>
<line x1="126.30" y1="2686.00" x2="164.70" y2="2686.00" stroke="#000" stroke-width="1.7" stroke-dasharray="6 4.6"/>
<path d="M361.60 82.00 L361.40 50.00" stroke="#3e9e4e" stroke-width="2.8" fill="none"/>
<path d="M361.80 92.80 L361.60 81.50" stroke="#66b978" stroke-width="2.6" fill="none"/>
<path d="M340.94 9.86 C342.95 12.90 345.26 16.21 347.27 19.25 C349.28 22.29 351.38 25.21 353.00 28.11 C354.61 31.01 355.91 33.63 356.94 36.65 C357.97 39.67 358.55 42.31 359.15 46.22 C359.74 50.12 359.84 57.79 360.50 60.07 C361.16 62.36 362.71 62.31 363.10 59.93 C363.49 57.54 363.19 49.88 362.85 45.78 C362.51 41.69 362.03 38.67 361.06 35.35 C360.09 32.03 358.73 28.99 357.00 25.89 C355.28 22.79 353.05 19.71 350.73 16.75 C348.41 13.79 345.65 10.76 343.06 8.14 C340.47 5.51 335.55 0.71 335.20 1.00 C334.85 1.29 338.93 6.82 340.94 9.86Z" fill="#3aa948" stroke="#2f8f3e" stroke-width="0.5"/>
<path d="M365.55 20.62 C364.60 22.41 363.55 24.68 362.79 26.53 C362.04 28.38 361.43 29.83 361.03 31.72 C360.63 33.61 360.18 36.80 360.41 37.87 C360.64 38.94 361.90 39.06 362.39 38.13 C362.88 37.20 362.90 34.05 363.37 32.28 C363.84 30.50 364.53 29.29 365.21 27.47 C365.89 25.66 366.90 23.33 367.45 21.38 C367.99 19.43 368.82 15.93 368.50 15.80 C368.18 15.67 366.51 18.83 365.55 20.62Z" fill="#3aa948" stroke="#2f8f3e" stroke-width="0.5"/>
<path d="M386.51 32.41 C383.34 34.14 379.07 35.99 376.05 37.99 C373.03 39.99 370.56 41.88 368.39 44.43 C366.21 46.97 364.10 50.52 363.02 53.24 C361.95 55.96 361.71 59.44 361.92 60.77 C362.13 62.10 363.60 62.27 364.28 61.23 C364.95 60.20 364.79 56.90 365.98 54.56 C367.17 52.22 369.32 49.33 371.41 47.17 C373.51 45.02 375.74 43.64 378.55 41.61 C381.36 39.58 385.53 37.33 388.29 34.99 C391.04 32.66 395.40 28.03 395.10 27.60 C394.80 27.17 389.69 30.68 386.51 32.41Z" fill="#40b84d" stroke="#2f8f3e" stroke-width="0.5"/>
<path d="M349.14 53.79 C350.91 55.94 352.66 57.68 354.20 59.71 C355.75 61.75 357.45 64.08 358.42 66.00 C359.39 67.93 359.40 70.46 360.03 71.25 C360.65 72.04 361.98 71.83 362.17 70.75 C362.36 69.68 362.01 67.01 361.18 64.80 C360.35 62.59 358.82 59.72 357.20 57.49 C355.58 55.26 353.73 53.19 351.46 51.41 C349.20 49.63 343.99 46.40 343.60 46.80 C343.21 47.20 347.37 51.64 349.14 53.79Z" fill="#40b84d" stroke="#2f8f3e" stroke-width="0.5"/>
<path d="M364.40 2257.00 L364.20 2225.00" stroke="#3e9e4e" stroke-width="2.8" fill="none"/>
<path d="M364.60 2267.80 L364.40 2256.50" stroke="#66b978" stroke-width="2.6" fill="none"/>
<path d="M343.74 2184.86 C345.75 2187.90 348.06 2191.21 350.07 2194.25 C352.08 2197.29 354.18 2200.21 355.80 2203.11 C357.41 2206.01 358.71 2208.63 359.74 2211.65 C360.77 2214.67 361.35 2217.31 361.95 2221.22 C362.54 2225.12 362.64 2232.79 363.30 2235.07 C363.96 2237.36 365.51 2237.31 365.90 2234.93 C366.29 2232.54 365.99 2224.88 365.65 2220.78 C365.31 2216.69 364.83 2213.67 363.86 2210.35 C362.89 2207.03 361.53 2203.99 359.80 2200.89 C358.08 2197.79 355.85 2194.71 353.53 2191.75 C351.21 2188.79 348.45 2185.76 345.86 2183.14 C343.27 2180.51 338.35 2175.71 338.00 2176.00 C337.65 2176.29 341.73 2181.82 343.74 2184.86Z" fill="#3aa948" stroke="#2f8f3e" stroke-width="0.5"/>
<path d="M368.35 2195.62 C367.40 2197.41 366.35 2199.68 365.59 2201.53 C364.84 2203.38 364.23 2204.83 363.83 2206.72 C363.43 2208.61 362.98 2211.80 363.21 2212.87 C363.44 2213.94 364.70 2214.06 365.19 2213.13 C365.68 2212.20 365.70 2209.05 366.17 2207.28 C366.64 2205.50 367.33 2204.29 368.01 2202.47 C368.69 2200.66 369.70 2198.33 370.25 2196.38 C370.79 2194.43 371.62 2190.93 371.30 2190.80 C370.98 2190.67 369.31 2193.83 368.35 2195.62Z" fill="#3aa948" stroke="#2f8f3e" stroke-width="0.5"/>
<path d="M389.31 2207.41 C386.14 2209.14 381.87 2210.99 378.85 2212.99 C375.83 2214.99 373.36 2216.88 371.19 2219.43 C369.01 2221.97 366.90 2225.52 365.82 2228.24 C364.75 2230.96 364.51 2234.44 364.72 2235.77 C364.93 2237.10 366.40 2237.27 367.08 2236.23 C367.75 2235.20 367.59 2231.90 368.78 2229.56 C369.97 2227.22 372.12 2224.33 374.21 2222.17 C376.31 2220.02 378.54 2218.64 381.35 2216.61 C384.16 2214.58 388.33 2212.33 391.09 2209.99 C393.84 2207.66 398.20 2203.03 397.90 2202.60 C397.60 2202.17 392.49 2205.68 389.31 2207.41Z" fill="#40b84d" stroke="#2f8f3e" stroke-width="0.5"/>
<path d="M351.94 2228.79 C353.71 2230.94 355.46 2232.68 357.00 2234.71 C358.55 2236.75 360.25 2239.08 361.22 2241.00 C362.19 2242.93 362.20 2245.46 362.83 2246.25 C363.45 2247.04 364.78 2246.83 364.97 2245.75 C365.16 2244.68 364.81 2242.01 363.98 2239.80 C363.15 2237.59 361.62 2234.72 360.00 2232.49 C358.38 2230.26 356.53 2228.19 354.26 2226.41 C352.00 2224.63 346.79 2221.40 346.40 2221.80 C346.01 2222.20 350.17 2226.64 351.94 2228.79Z" fill="#40b84d" stroke="#2f8f3e" stroke-width="0.5"/>
<path d="M851.60 80.30 C851.60 78.78 863.82 71.23 870.30 66.60 C876.78 61.97 883.75 56.55 890.50 52.50 C897.25 48.45 904.05 45.33 910.80 42.30 C917.55 39.27 924.27 36.82 931.00 34.30 C937.73 31.78 944.47 29.07 951.20 27.20 C957.93 25.33 971.40 22.60 971.40 23.10 C971.40 23.60 957.93 26.82 951.20 30.20 C944.47 33.58 937.73 39.18 931.00 43.40 C924.27 47.62 917.55 51.63 910.80 55.50 C904.05 59.37 897.25 63.23 890.50 66.60 C883.75 69.97 876.78 73.42 870.30 75.70 C863.82 77.98 851.60 81.82 851.60 80.30Z" fill="#5ba23b"/>
<path d="M858.00 76.00 C860.83 74.33 869.17 69.33 875.00 66.00 C880.83 62.67 886.83 59.17 893.00 56.00 C899.17 52.83 905.50 49.92 912.00 47.00 C918.50 44.08 925.33 41.50 932.00 38.50 C938.67 35.50 948.67 30.58 952.00 29.00" stroke="#8cc46a" stroke-width="0.8" fill="none"/>
<path d="M886.50 45.00 C887.58 43.58 889.65 41.95 892.00 40.50 C894.35 39.05 897.60 37.72 900.60 36.30 C903.60 34.88 906.97 33.27 910.00 32.00 C913.03 30.73 916.32 29.27 918.80 28.70 C921.28 28.13 923.45 27.88 924.90 28.60 C926.35 29.32 927.25 31.63 927.50 33.00 C927.75 34.37 927.85 35.88 926.40 36.80 C924.95 37.72 921.53 37.67 918.80 38.50 C916.07 39.33 913.03 40.62 910.00 41.80 C906.97 42.98 903.60 44.32 900.60 45.60 C897.60 46.88 894.18 48.30 892.00 49.50 C889.82 50.70 888.58 52.88 887.50 52.80 C886.42 52.72 885.67 50.30 885.50 49.00 C885.33 47.70 885.42 46.42 886.50 45.00Z" fill="#4d5246"/>
<path d="M886.50 45.00 C887.20 44.08 888.83 43.00 889.50 43.50 C890.17 44.00 890.50 46.50 890.50 48.00 C890.50 49.50 890.15 51.67 889.50 52.50 C888.85 53.33 887.30 53.58 886.60 53.00 C885.90 52.42 885.32 50.33 885.30 49.00 C885.28 47.67 885.80 45.92 886.50 45.00Z" fill="#8f917f"/>
<line x1="896.0" y1="46.8" x2="896.8" y2="49.0" stroke="#3a3f36" stroke-width="1.2"/>
<line x1="902.0" y1="44.2" x2="902.8" y2="46.4" stroke="#3a3f36" stroke-width="1.2"/>
<line x1="908.0" y1="41.6" x2="908.8" y2="43.8" stroke="#3a3f36" stroke-width="1.2"/>
<line x1="914.0" y1="39.2" x2="914.8" y2="41.4" stroke="#3a3f36" stroke-width="1.2"/>
<line x1="920.0" y1="37.2" x2="920.8" y2="39.4" stroke="#3a3f36" stroke-width="1.2"/>
<path d="M853.80 2263.30 C853.80 2261.78 866.02 2254.23 872.50 2249.60 C878.98 2244.97 885.95 2239.55 892.70 2235.50 C899.45 2231.45 906.25 2228.33 913.00 2225.30 C919.75 2222.27 926.47 2219.82 933.20 2217.30 C939.93 2214.78 946.67 2212.07 953.40 2210.20 C960.13 2208.33 973.60 2205.60 973.60 2206.10 C973.60 2206.60 960.13 2209.82 953.40 2213.20 C946.67 2216.58 939.93 2222.18 933.20 2226.40 C926.47 2230.62 919.75 2234.63 913.00 2238.50 C906.25 2242.37 899.45 2246.23 892.70 2249.60 C885.95 2252.97 878.98 2256.42 872.50 2258.70 C866.02 2260.98 853.80 2264.82 853.80 2263.30Z" fill="#5ba23b"/>
<path d="M860.20 2259.00 C863.03 2257.33 871.37 2252.33 877.20 2249.00 C883.03 2245.67 889.03 2242.17 895.20 2239.00 C901.37 2235.83 907.70 2232.92 914.20 2230.00 C920.70 2227.08 927.53 2224.50 934.20 2221.50 C940.87 2218.50 950.87 2213.58 954.20 2212.00" stroke="#8cc46a" stroke-width="0.8" fill="none"/>
<path d="M888.70 2228.00 C889.78 2226.58 891.85 2224.95 894.20 2223.50 C896.55 2222.05 899.80 2220.72 902.80 2219.30 C905.80 2217.88 909.17 2216.27 912.20 2215.00 C915.23 2213.73 918.52 2212.27 921.00 2211.70 C923.48 2211.13 925.65 2210.88 927.10 2211.60 C928.55 2212.32 929.45 2214.63 929.70 2216.00 C929.95 2217.37 930.05 2218.88 928.60 2219.80 C927.15 2220.72 923.73 2220.67 921.00 2221.50 C918.27 2222.33 915.23 2223.62 912.20 2224.80 C909.17 2225.98 905.80 2227.32 902.80 2228.60 C899.80 2229.88 896.38 2231.30 894.20 2232.50 C892.02 2233.70 890.78 2235.88 889.70 2235.80 C888.62 2235.72 887.87 2233.30 887.70 2232.00 C887.53 2230.70 887.62 2229.42 888.70 2228.00Z" fill="#4d5246"/>
<path d="M888.70 2228.00 C889.40 2227.08 891.03 2226.00 891.70 2226.50 C892.37 2227.00 892.70 2229.50 892.70 2231.00 C892.70 2232.50 892.35 2234.67 891.70 2235.50 C891.05 2236.33 889.50 2236.58 888.80 2236.00 C888.10 2235.42 887.52 2233.33 887.50 2232.00 C887.48 2230.67 888.00 2228.92 888.70 2228.00Z" fill="#8f917f"/>
<line x1="898.2" y1="2229.8" x2="899.0" y2="2232.0" stroke="#3a3f36" stroke-width="1.2"/>
<line x1="904.2" y1="2227.2" x2="905.0" y2="2229.4" stroke="#3a3f36" stroke-width="1.2"/>
<line x1="910.2" y1="2224.6" x2="911.0" y2="2226.8" stroke="#3a3f36" stroke-width="1.2"/>
<line x1="916.2" y1="2222.2" x2="917.0" y2="2224.4" stroke="#3a3f36" stroke-width="1.2"/>
<line x1="922.2" y1="2220.2" x2="923.0" y2="2222.4" stroke="#3a3f36" stroke-width="1.2"/>
<path d="M1333.10 76.70 C1333.10 75.37 1344.90 66.98 1350.30 62.60 C1355.70 58.22 1359.60 54.12 1365.50 50.40 C1371.40 46.68 1378.97 43.17 1385.70 40.30 C1392.43 37.43 1399.17 35.13 1405.90 33.20 C1412.63 31.27 1418.68 29.62 1426.10 28.70 C1433.52 27.78 1451.23 27.12 1450.40 27.70 C1449.57 28.28 1428.52 29.93 1421.10 32.20 C1413.68 34.47 1411.80 38.10 1405.90 41.30 C1400.00 44.50 1392.43 47.85 1385.70 51.40 C1378.97 54.95 1371.40 59.40 1365.50 62.60 C1359.60 65.80 1355.70 68.25 1350.30 70.60 C1344.90 72.95 1333.10 78.03 1333.10 76.70Z" fill="#5d9a38"/>
<path d="M1360.50 58.50 C1360.92 57.08 1362.42 54.50 1364.00 53.00 C1365.58 51.50 1368.25 49.75 1370.00 49.50 C1371.75 49.25 1373.92 50.42 1374.50 51.50 C1375.08 52.58 1374.75 54.58 1373.50 56.00 C1372.25 57.42 1369.00 59.08 1367.00 60.00 C1365.00 60.92 1362.58 61.75 1361.50 61.50 C1360.42 61.25 1360.08 59.92 1360.50 58.50Z" fill="#c9c9cc"/>
<path d="M1377.00 49.50 C1377.58 48.33 1380.00 45.53 1382.00 44.00 C1384.00 42.47 1386.67 41.22 1389.00 40.30 C1391.33 39.38 1394.67 38.30 1396.00 38.50 C1397.33 38.70 1397.83 40.38 1397.00 41.50 C1396.17 42.62 1393.17 44.03 1391.00 45.20 C1388.83 46.37 1386.08 47.53 1384.00 48.50 C1381.92 49.47 1379.67 50.83 1378.50 51.00 C1377.33 51.17 1376.42 50.67 1377.00 49.50Z" fill="#c9c9cc"/>
</svg></body></html>
